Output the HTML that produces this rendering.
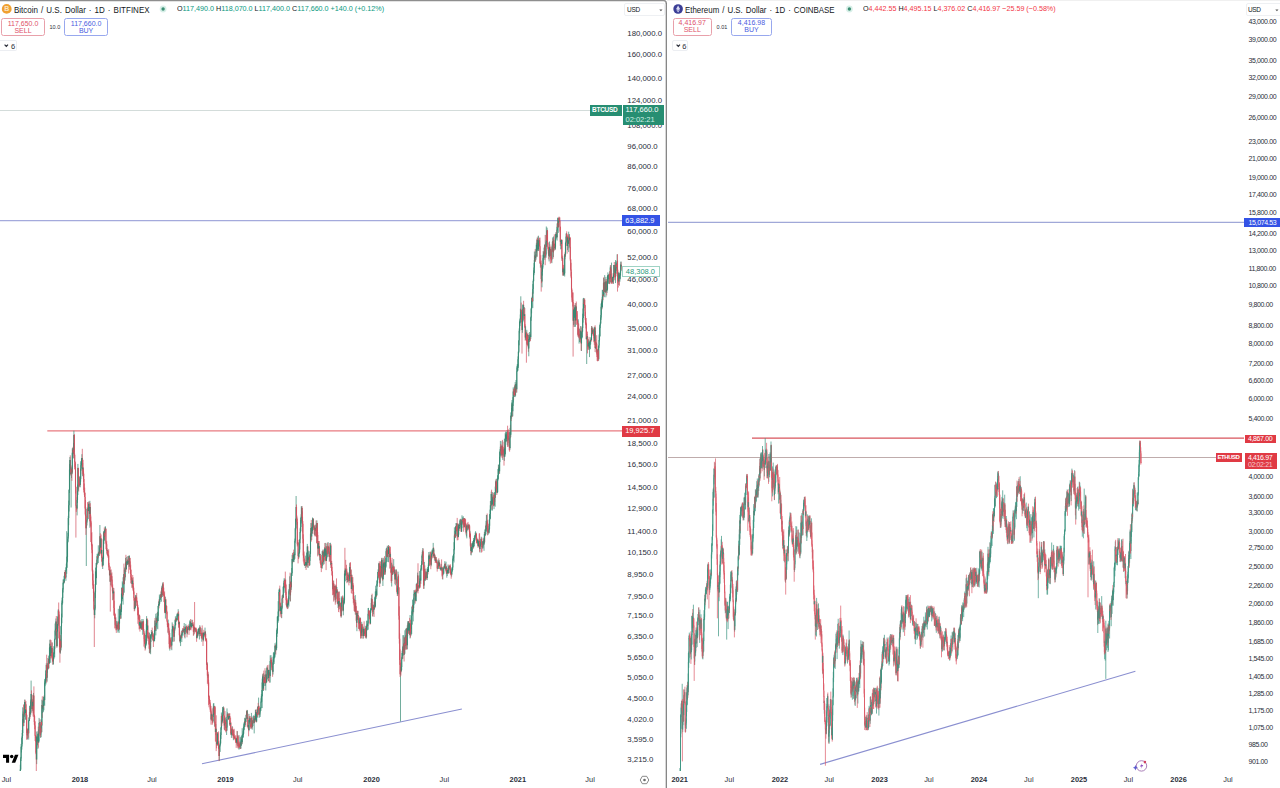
<!DOCTYPE html>
<html><head><meta charset="utf-8">
<style>
*{margin:0;padding:0;box-sizing:border-box}
html,body{width:1280px;height:788px;overflow:hidden;background:#fff;font-family:"Liberation Sans",sans-serif;color:#131722}
.a{position:absolute;white-space:nowrap}
.al{position:absolute;font-size:7.8px;line-height:10px;color:#2a2e39;white-space:nowrap}
.ar{position:absolute;font-size:7px;line-height:10px;color:#2a2e39;white-space:nowrap;letter-spacing:-0.38px}
.t{position:absolute;font-size:7.4px;line-height:10px;color:#2a2e39;white-space:nowrap;transform:translateX(-50%)}
.tb{font-weight:bold}
.ttl{position:absolute;font-size:8.6px;line-height:10px;color:#131722;white-space:nowrap;word-spacing:0.9px;transform-origin:0 0}
.ohlc{position:absolute;font-size:8px;line-height:10px;white-space:nowrap;color:#131722}
.box{position:absolute;border:1px solid;border-radius:2.5px;text-align:center;font-size:7px;line-height:6.9px;padding-top:1.3px}
.tag{position:absolute;color:#fff;font-size:7.5px;line-height:10px;white-space:nowrap;text-align:left}
</style></head><body>
<svg class="a" style="left:0;top:0" width="1280" height="788">
<defs>
<clipPath id="cl"><rect x="0" y="0" width="621.5" height="771"/></clipPath>
<clipPath id="cr"><rect x="667" y="0" width="577" height="771"/></clipPath>
</defs>
<!-- left lines -->
<line x1="0" y1="110.5" x2="590" y2="110.5" stroke="#d3dcda" stroke-width="1.1"/>
<line x1="0" y1="220.6" x2="622" y2="220.6" stroke="#a4aadc" stroke-width="1.2"/>
<line x1="47.3" y1="430.9" x2="622" y2="430.9" stroke="#e87a80" stroke-width="1.4"/>
<line x1="202" y1="763.7" x2="461.9" y2="709" stroke="#8a8fd0" stroke-width="1.1"/>
<!-- right lines -->
<line x1="668" y1="222.3" x2="1244" y2="222.3" stroke="#a0a8d8" stroke-width="1.2"/>
<line x1="752" y1="438.2" x2="1244" y2="438.2" stroke="#d8545c" stroke-width="1.3"/>
<line x1="668" y1="457.5" x2="1216" y2="457.5" stroke="#bfacac" stroke-width="1"/>
<line x1="820.1" y1="764.4" x2="1135.4" y2="671.2" stroke="#8a8fd0" stroke-width="1.1"/>
<g clip-path="url(#cl)"><g fill="none"><path d="M20.3 764.7V772.0M20.7 756.9V769.9M21.1 743.9V761.0M21.5 746.1V752.5M21.9 736.5V749.6M22.3 730.0V744.2M22.7 707.3V736.0M23.1 711.4V719.7" stroke="#358a73" stroke-width="0.7"/><path d="M20.3 769.4V772.5M20.7 758.5V769.4M21.1 746.7V758.5M21.5 746.6V747.2M21.9 738.0V746.6M22.3 732.9V738.0M22.7 719.1V732.9M23.1 713.7V719.1" stroke="#358a73" stroke-width="1.1"/><path d="M23.9 712.3V726.1M24.3 704.5V716.9M24.7 699.6V708.2M25.5 709.5V719.7" stroke="#358a73" stroke-width="0.7"/><path d="M23.5 704.5V726.2M25.1 699.7V715.6M25.9 701.0V710.9M26.3 704.3V720.0" stroke="#d3505e" stroke-width="0.7"/><path d="M23.5 713.7V722.8M25.1 702.1V713.1M25.9 709.5V710.4M26.3 710.4V715.1" stroke="#d3505e" stroke-width="1.1"/><path d="M23.9 714.3V722.8M24.3 708.1V714.3M24.7 702.1V708.1M25.5 709.5V713.1" stroke="#358a73" stroke-width="1.1"/><path d="M27.5 729.0V739.4M27.9 728.2V732.5M28.7 720.2V739.6M29.1 717.3V720.9M29.5 705.9V721.1" stroke="#358a73" stroke-width="0.7"/><path d="M26.7 714.3V739.8M27.1 728.9V739.2M28.3 727.9V737.8" stroke="#d3505e" stroke-width="0.7"/><path d="M27.5 730.5V735.3M27.9 730.3V730.9M28.7 720.7V733.2M29.1 717.5V720.7M29.5 712.0V717.5" stroke="#358a73" stroke-width="1.1"/><path d="M26.7 715.1V733.0M27.1 733.0V735.3M28.3 730.3V733.2" stroke="#d3505e" stroke-width="1.1"/><path d="M30.3 705.3V716.9M30.7 699.5V715.1M31.1 680.6V705.8M32.3 699.3V711.3" stroke="#358a73" stroke-width="0.7"/><path d="M29.9 708.0V718.9M31.5 690.4V702.3M31.9 698.8V713.2M32.7 694.8V706.7" stroke="#d3505e" stroke-width="0.7"/><path d="M29.9 712.0V714.0M31.5 693.9V700.4M31.9 700.4V709.1M32.7 701.8V706.2" stroke="#d3505e" stroke-width="1.1"/><path d="M30.3 712.3V714.0M30.7 701.5V712.3M31.1 693.9V701.5M32.3 701.8V709.1" stroke="#358a73" stroke-width="1.1"/><path d="M33.5 692.9V713.5" stroke="#358a73" stroke-width="0.7"/><path d="M33.1 705.5V716.5M33.9 686.4V717.0M34.3 714.6V724.8M34.7 716.1V729.2M35.1 721.1V741.0M35.5 735.0V741.7M35.9 737.5V754.2" stroke="#d3505e" stroke-width="0.7"/><path d="M33.5 695.5V710.6" stroke="#358a73" stroke-width="1.1"/><path d="M33.1 706.2V710.6M33.9 695.5V715.3M34.3 715.3V722.1M34.7 722.1V725.5M35.1 725.5V735.8M35.5 735.8V738.1M35.9 738.1V752.8" stroke="#d3505e" stroke-width="1.1"/><path d="M36.7 731.5V764.1M37.5 739.9V745.3M37.9 731.3V748.9M38.7 729.5V742.6M39.1 717.9V741.3" stroke="#358a73" stroke-width="0.7"/><path d="M36.3 750.5V772.0M37.1 734.8V744.2M38.3 726.6V747.7" stroke="#d3505e" stroke-width="0.7"/><path d="M36.3 752.8V759.6M37.1 736.4V741.5M38.3 733.8V742.5" stroke="#d3505e" stroke-width="1.1"/><path d="M36.7 736.4V759.6M37.5 740.7V741.5M37.9 733.8V740.7M38.7 733.4V742.5M39.1 722.9V733.4" stroke="#358a73" stroke-width="1.1"/><path d="M39.5 722.3V725.1M40.7 724.2V738.0M41.1 719.3V737.0M41.9 699.7V732.2" stroke="#358a73" stroke-width="0.7"/><path d="M39.9 719.3V735.8M40.3 726.0V737.1M41.5 720.8V732.6M42.3 696.3V717.9" stroke="#d3505e" stroke-width="0.7"/><path d="M39.5 722.6V723.2M40.7 728.6V734.6M41.1 722.1V728.6M41.9 704.9V725.5" stroke="#358a73" stroke-width="1.1"/><path d="M39.9 722.6V728.1M40.3 728.1V734.6M41.5 722.1V725.5M42.3 704.9V708.8" stroke="#d3505e" stroke-width="1.1"/><path d="M42.7 700.5V713.0M43.5 699.4V711.8M43.9 696.6V710.2M44.7 679.3V705.8M45.1 679.0V686.2M45.5 670.4V683.4" stroke="#358a73" stroke-width="0.7"/><path d="M43.1 705.3V707.9M44.3 695.0V701.0" stroke="#d3505e" stroke-width="0.7"/><path d="M43.1 705.9V706.5M44.3 696.8V700.0" stroke="#d3505e" stroke-width="1.1"/><path d="M42.7 705.9V708.8M43.5 704.7V706.1M43.9 696.8V704.7M44.7 682.7V700.0M45.1 681.3V682.7M45.5 678.1V681.3" stroke="#358a73" stroke-width="1.1"/><path d="M45.9 673.7V684.5M46.3 663.3V680.4M47.1 665.2V681.6M47.5 666.6V672.8M47.9 658.0V667.4M48.7 655.6V669.0" stroke="#358a73" stroke-width="0.7"/><path d="M46.7 654.7V682.7M48.3 661.0V669.5" stroke="#d3505e" stroke-width="0.7"/><path d="M45.9 677.0V678.1M46.3 665.0V677.0M47.1 668.7V677.7M47.5 666.7V668.7M47.9 663.3V666.7M48.7 658.9V668.0" stroke="#358a73" stroke-width="1.1"/><path d="M46.7 665.0V677.7M48.3 663.3V668.0" stroke="#d3505e" stroke-width="1.1"/><path d="M49.5 643.6V663.7M49.9 639.8V652.8M50.7 643.8V662.8M51.9 642.4V657.7" stroke="#358a73" stroke-width="0.7"/><path d="M49.1 657.4V663.9M50.3 639.6V658.6M51.1 640.2V657.6M51.5 651.1V656.4" stroke="#d3505e" stroke-width="0.7"/><path d="M49.1 658.9V663.2M50.3 646.9V656.0M51.1 645.9V652.4M51.5 652.4V653.0" stroke="#d3505e" stroke-width="1.1"/><path d="M49.5 647.7V663.2M49.9 646.9V647.7M50.7 645.9V656.0M51.9 647.9V653.0" stroke="#358a73" stroke-width="1.1"/><path d="M53.1 654.9V665.0M53.5 652.3V664.1M53.9 646.1V659.1M54.3 646.7V654.2M54.7 638.7V657.3M55.1 623.5V639.8" stroke="#358a73" stroke-width="0.7"/><path d="M52.3 642.5V659.9M52.7 657.7V664.4" stroke="#d3505e" stroke-width="0.7"/><path d="M53.1 660.1V661.6M53.5 657.4V660.1M53.9 653.6V657.4M54.3 648.7V653.6M54.7 639.2V648.7M55.1 630.6V639.2" stroke="#358a73" stroke-width="1.1"/><path d="M52.3 647.9V659.0M52.7 659.0V661.6" stroke="#d3505e" stroke-width="1.1"/><path d="M55.5 627.9V635.5M55.9 618.5V629.7M57.1 626.8V647.4M57.5 616.4V632.1M58.3 609.1V625.9" stroke="#358a73" stroke-width="0.7"/><path d="M56.3 616.0V635.8M56.7 626.6V647.6M57.9 619.1V628.4" stroke="#d3505e" stroke-width="0.7"/><path d="M56.3 621.5V631.7M56.7 631.7V645.9M57.9 624.1V624.7" stroke="#d3505e" stroke-width="1.1"/><path d="M55.5 629.0V630.6M55.9 621.5V629.0M57.1 631.1V645.9M57.5 624.1V631.1M58.3 610.4V624.3" stroke="#358a73" stroke-width="1.1"/><path d="M60.3 639.0V653.8M61.1 625.9V650.4M61.5 613.6V634.3" stroke="#358a73" stroke-width="0.7"/><path d="M58.7 602.5V619.1M59.1 611.7V638.8M59.5 631.7V647.3M59.9 640.0V662.7M60.7 635.1V648.6" stroke="#d3505e" stroke-width="0.7"/><path d="M60.3 641.0V652.6M61.1 626.2V647.4M61.5 617.4V626.2" stroke="#358a73" stroke-width="1.1"/><path d="M58.7 610.4V614.6M59.1 614.6V638.0M59.5 638.0V646.8M59.9 646.8V652.6M60.7 641.0V647.4" stroke="#d3505e" stroke-width="1.1"/><path d="M61.9 600.5V623.2M62.3 597.0V604.8M62.7 587.9V603.4M63.1 579.4V592.5M63.5 579.4V584.4M64.3 575.6V583.4M64.7 571.9V577.5" stroke="#358a73" stroke-width="0.7"/><path d="M63.9 581.1V582.3" stroke="#d3505e" stroke-width="0.7"/><path d="M63.9 582.0V582.6" stroke="#d3505e" stroke-width="1.1"/><path d="M61.9 602.8V617.4M62.3 598.1V602.8M62.7 589.5V598.1M63.1 582.8V589.5M63.5 582.0V582.8M64.3 576.1V582.2M64.7 572.1V576.1" stroke="#358a73" stroke-width="1.1"/><path d="M65.9 567.1V580.8M66.3 563.7V571.1M66.7 531.2V573.8M67.1 556.3V567.6M67.5 538.8V561.5M67.9 532.8V542.5" stroke="#358a73" stroke-width="0.7"/><path d="M65.1 570.0V577.5M65.5 571.2V578.9" stroke="#d3505e" stroke-width="0.7"/><path d="M65.9 570.1V577.6M66.3 568.0V570.1M66.7 562.4V568.0M67.1 557.0V562.4M67.5 541.8V557.0M67.9 536.4V541.8" stroke="#358a73" stroke-width="1.1"/><path d="M65.1 572.1V575.1M65.5 575.1V577.6" stroke="#d3505e" stroke-width="1.1"/><path d="M68.3 515.9V538.5M68.7 500.6V525.2M69.1 489.2V511.5M69.5 464.1V493.0M69.9 457.0V475.3M71.1 467.1V507.5" stroke="#358a73" stroke-width="0.7"/><path d="M70.3 455.3V469.8M70.7 466.4V475.4" stroke="#d3505e" stroke-width="0.7"/><path d="M70.3 459.9V468.2M70.7 468.2V473.9" stroke="#d3505e" stroke-width="1.1"/><path d="M68.3 518.1V536.4M68.7 505.2V518.1M69.1 490.0V505.2M69.5 469.5V490.0M69.9 459.9V469.5M71.1 472.4V473.9" stroke="#358a73" stroke-width="1.1"/><path d="M71.5 468.6V478.0M72.3 448.4V474.2M72.7 447.8V458.6M73.5 442.9V454.0M73.9 430.7V458.3" stroke="#358a73" stroke-width="0.7"/><path d="M71.9 465.4V480.8M73.1 446.8V458.2M74.3 434.0V456.1" stroke="#d3505e" stroke-width="0.7"/><path d="M71.5 468.9V472.4M72.3 452.8V472.6M72.7 449.7V452.8M73.5 452.0V452.7M73.9 434.9V452.0" stroke="#358a73" stroke-width="1.1"/><path d="M71.9 468.9V472.6M73.1 449.7V452.7M74.3 434.9V455.1" stroke="#d3505e" stroke-width="1.1"/><path d="M77.1 497.2V515.4M77.5 484.5V502.9" stroke="#358a73" stroke-width="0.7"/><path d="M74.7 453.6V469.3M75.1 461.3V469.4M75.5 463.5V493.5M75.9 486.5V537.6M76.3 505.5V511.9M76.7 505.1V510.1" stroke="#d3505e" stroke-width="0.7"/><path d="M74.7 455.1V461.9M75.1 461.9V466.9M75.5 466.9V487.0M75.9 487.0V505.8M76.3 505.8V507.8M76.7 507.8V508.5" stroke="#d3505e" stroke-width="1.1"/><path d="M77.1 499.9V508.5M77.5 490.8V499.9" stroke="#358a73" stroke-width="1.1"/><path d="M77.9 463.9V495.0M79.5 476.6V486.6M80.3 476.0V487.3M80.7 461.2V481.7" stroke="#358a73" stroke-width="0.7"/><path d="M78.3 467.7V489.3M78.7 475.6V491.6M79.1 483.2V487.3M79.9 478.3V485.3" stroke="#d3505e" stroke-width="0.7"/><path d="M77.9 468.1V490.8M79.5 484.2V485.0M80.3 478.9V484.9M80.7 468.5V478.9" stroke="#358a73" stroke-width="1.1"/><path d="M78.3 468.1V478.5M78.7 478.5V484.8M79.1 484.8V485.4M79.9 484.2V484.9" stroke="#d3505e" stroke-width="1.1"/><path d="M81.1 462.6V470.7M81.5 458.0V465.3M81.9 454.2V462.3M82.7 463.0V476.1" stroke="#358a73" stroke-width="0.7"/><path d="M82.3 448.8V474.4M83.1 459.8V476.4M83.5 468.5V482.0M83.9 473.7V492.2" stroke="#d3505e" stroke-width="0.7"/><path d="M82.3 458.1V469.2M83.1 467.4V471.4M83.5 471.4V478.9M83.9 478.9V490.0" stroke="#d3505e" stroke-width="1.1"/><path d="M81.1 465.2V468.5M81.5 459.4V465.2M81.9 458.1V459.4M82.7 467.4V469.2" stroke="#358a73" stroke-width="1.1"/><path d="M86.3 524.8V566.0M86.7 519.5V525.7M87.1 507.4V522.5" stroke="#358a73" stroke-width="0.7"/><path d="M84.3 483.5V494.9M84.7 487.7V496.9M85.1 492.7V514.5M85.5 500.0V524.6M85.9 514.4V534.9" stroke="#d3505e" stroke-width="0.7"/><path d="M86.3 525.2V528.2M86.7 520.6V525.2M87.1 508.9V520.6" stroke="#358a73" stroke-width="1.1"/><path d="M84.3 490.0V492.8M84.7 492.8V496.9M85.1 496.9V508.6M85.5 508.6V516.1M85.9 516.1V528.2" stroke="#d3505e" stroke-width="1.1"/><path d="M88.3 506.7V519.1M88.7 501.6V510.7M89.9 500.8V527.8" stroke="#358a73" stroke-width="0.7"/><path d="M87.5 502.1V517.9M87.9 508.3V512.0M89.1 501.7V513.8M89.5 507.4V521.3M90.3 503.2V525.9" stroke="#d3505e" stroke-width="0.7"/><path d="M87.5 508.9V510.4M87.9 510.4V511.0M89.1 503.7V509.6M89.5 509.6V514.1M90.3 506.9V516.6" stroke="#d3505e" stroke-width="1.1"/><path d="M88.3 508.1V510.9M88.7 503.7V508.1M89.9 506.9V514.1" stroke="#358a73" stroke-width="1.1"/><path d="M90.7 514.6V526.8M91.1 520.8V542.1M91.5 533.0V546.3M91.9 532.2V553.2M92.3 543.8V571.7M92.7 569.4V585.4M93.1 573.7V588.9M93.5 585.0V601.4" stroke="#d3505e" stroke-width="0.7"/><path d="M90.7 516.6V522.5M91.1 522.5V541.9M91.5 541.9V545.1M91.9 545.1V549.7M92.3 549.7V570.6M92.7 570.6V580.5M93.1 580.5V588.7M93.5 588.7V593.1" stroke="#d3505e" stroke-width="1.1"/><path d="M94.7 605.0V618.3M95.1 590.8V610.2M95.5 567.6V598.0M96.3 562.7V584.8" stroke="#358a73" stroke-width="0.7"/><path d="M93.9 584.1V610.2M94.3 607.7V647.0M95.9 571.2V579.0M96.7 559.6V567.6" stroke="#d3505e" stroke-width="0.7"/><path d="M93.9 593.1V608.7M94.3 608.7V615.1M95.9 571.4V577.9M96.7 563.1V563.7" stroke="#d3505e" stroke-width="1.1"/><path d="M94.7 608.4V615.1M95.1 592.3V608.4M95.5 571.4V592.3M96.3 563.1V577.9" stroke="#358a73" stroke-width="1.1"/><path d="M97.1 553.8V564.8M97.9 554.0V558.5M98.3 545.3V563.1M98.7 552.5V555.1M99.5 545.3V555.8M99.9 525.0V553.7" stroke="#358a73" stroke-width="0.7"/><path d="M97.5 556.2V559.4M99.1 551.0V556.0" stroke="#d3505e" stroke-width="0.7"/><path d="M97.1 556.3V563.4M97.9 555.3V557.4M98.3 552.7V555.3M98.7 552.5V553.1M99.5 547.4V553.6M99.9 536.3V547.4" stroke="#358a73" stroke-width="1.1"/><path d="M97.5 556.3V557.4M99.1 552.5V553.6" stroke="#d3505e" stroke-width="1.1"/><path d="M100.7 538.1V547.8M101.5 549.5V558.0M102.7 556.6V569.0" stroke="#358a73" stroke-width="0.7"/><path d="M100.3 533.2V553.4M101.1 534.5V555.4M101.9 538.9V562.0M102.3 559.3V567.0M103.1 555.5V561.0" stroke="#d3505e" stroke-width="0.7"/><path d="M100.3 536.3V547.6M101.1 538.5V553.4M101.9 550.0V561.2M102.3 561.2V565.8M103.1 557.8V558.7" stroke="#d3505e" stroke-width="1.1"/><path d="M100.7 538.5V547.6M101.5 550.0V553.4M102.7 557.8V565.8" stroke="#358a73" stroke-width="1.1"/><path d="M103.5 531.2V565.4M103.9 531.9V543.9M104.7 530.0V540.9M105.1 526.5V533.7M105.5 526.5V531.4" stroke="#358a73" stroke-width="0.7"/><path d="M104.3 527.5V539.7M105.9 528.6V549.2M106.3 542.4V544.7" stroke="#d3505e" stroke-width="0.7"/><path d="M103.5 540.1V558.7M103.9 532.8V540.1M104.7 530.3V536.6M105.1 529.1V530.3M105.5 528.8V529.4" stroke="#358a73" stroke-width="1.1"/><path d="M104.3 532.8V536.6M105.9 528.8V542.7M106.3 542.7V544.3" stroke="#d3505e" stroke-width="1.1"/><path d="M107.1 548.3V554.9" stroke="#358a73" stroke-width="0.7"/><path d="M106.7 540.8V553.6M107.5 550.1V555.8M107.9 550.0V557.6M108.3 554.1V556.3M108.7 549.2V567.4M109.1 562.9V570.6M109.5 568.8V575.3" stroke="#d3505e" stroke-width="0.7"/><path d="M106.7 544.3V550.4M107.5 550.4V551.1M107.9 551.1V555.1M108.3 555.1V555.7M108.7 555.4V565.3M109.1 565.3V569.9M109.5 569.9V575.3" stroke="#d3505e" stroke-width="1.1"/><path d="M107.1 550.4V551.0" stroke="#358a73" stroke-width="1.1"/><path d="M109.9 570.2V581.8M110.7 570.1V585.4M111.5 576.0V579.9" stroke="#358a73" stroke-width="0.7"/><path d="M110.3 566.6V611.6M111.1 569.4V581.0M111.9 572.4V587.3M112.3 579.5V591.3M112.7 584.4V600.3" stroke="#d3505e" stroke-width="0.7"/><path d="M109.9 574.7V575.3M110.7 573.5V581.4M111.5 576.3V577.2" stroke="#358a73" stroke-width="1.1"/><path d="M110.3 574.7V581.4M111.1 573.5V577.2M111.9 576.3V585.7M112.3 585.7V587.2M112.7 587.2V593.0" stroke="#d3505e" stroke-width="1.1"/><path d="M113.1 588.0V600.0M113.5 590.3V598.8M115.1 617.1V624.8" stroke="#358a73" stroke-width="0.7"/><path d="M113.9 588.1V615.7M114.3 600.7V615.7M114.7 612.6V628.4M115.5 613.7V626.0M115.9 617.3V630.3" stroke="#d3505e" stroke-width="0.7"/><path d="M113.9 591.5V608.0M114.3 608.0V614.9M114.7 614.9V618.6M115.5 618.5V621.6M115.9 621.6V627.9" stroke="#d3505e" stroke-width="1.1"/><path d="M113.1 592.9V593.5M113.5 591.5V592.9M115.1 618.5V619.1" stroke="#358a73" stroke-width="1.1"/><path d="M116.7 620.9V630.2M117.9 621.4V632.6M118.3 608.8V631.2M119.1 621.6V632.9" stroke="#358a73" stroke-width="0.7"/><path d="M116.3 625.8V632.9M117.1 623.0V629.9M117.5 626.8V628.3M118.7 620.8V630.2" stroke="#d3505e" stroke-width="0.7"/><path d="M116.7 624.8V628.9M117.9 625.1V628.2M118.3 622.2V625.1M119.1 623.2V629.4" stroke="#358a73" stroke-width="1.1"/><path d="M116.3 627.9V628.9M117.1 624.8V627.7M117.5 627.7V628.3M118.7 622.2V629.4" stroke="#d3505e" stroke-width="1.1"/><path d="M119.5 605.7V624.1M119.9 606.7V617.7M120.7 603.5V618.6M121.1 608.9V618.6M121.5 587.5V612.1M122.3 581.4V601.3" stroke="#358a73" stroke-width="0.7"/><path d="M120.3 604.4V619.1M121.9 588.1V599.6" stroke="#d3505e" stroke-width="0.7"/><path d="M120.3 609.4V615.0M121.9 593.6V599.1" stroke="#d3505e" stroke-width="1.1"/><path d="M119.5 616.3V623.2M119.9 609.4V616.3M120.7 611.6V615.0M121.1 609.2V611.6M121.5 593.6V609.2M122.3 588.0V599.1" stroke="#358a73" stroke-width="1.1"/><path d="M123.1 577.3V604.6M123.5 574.1V582.9M124.3 569.9V592.7M125.1 566.8V580.6M125.5 557.9V572.0" stroke="#358a73" stroke-width="0.7"/><path d="M122.7 587.4V597.1M123.9 563.6V585.1M124.7 568.6V578.6" stroke="#d3505e" stroke-width="0.7"/><path d="M123.1 582.7V595.3M123.5 577.3V582.7M124.3 573.9V584.0M125.1 567.7V577.2M125.5 562.5V567.7" stroke="#358a73" stroke-width="1.1"/><path d="M122.7 588.0V595.3M123.9 577.3V584.0M124.7 573.9V577.2" stroke="#d3505e" stroke-width="1.1"/><path d="M126.3 561.2V569.9M126.7 556.9V564.5M127.5 559.7V565.0M127.9 556.1V564.1" stroke="#358a73" stroke-width="0.7"/><path d="M125.9 554.8V571.9M127.1 559.4V565.2M128.3 556.3V564.1M128.7 555.9V573.5" stroke="#d3505e" stroke-width="0.7"/><path d="M125.9 562.5V569.0M127.1 561.6V563.6M128.3 560.7V562.9M128.7 562.9V564.3" stroke="#d3505e" stroke-width="1.1"/><path d="M126.3 563.8V569.0M126.7 561.6V563.8M127.5 562.5V563.6M127.9 560.7V562.5" stroke="#358a73" stroke-width="1.1"/><path d="M129.1 555.5V566.9M129.5 555.7V566.4" stroke="#358a73" stroke-width="0.7"/><path d="M129.9 557.7V569.7M130.3 561.4V569.8M130.7 564.7V583.4M131.1 569.8V580.0M131.5 577.1V582.4M131.9 579.2V587.8" stroke="#d3505e" stroke-width="0.7"/><path d="M129.1 563.7V564.3M129.5 557.9V563.7" stroke="#358a73" stroke-width="1.1"/><path d="M129.9 557.9V566.1M130.3 566.1V569.5M130.7 569.5V573.9M131.1 573.9V577.3M131.5 577.3V579.5M131.9 579.5V583.9" stroke="#d3505e" stroke-width="1.1"/><path d="M132.3 578.0V587.7M134.7 597.6V610.6M135.1 598.9V608.3" stroke="#358a73" stroke-width="0.7"/><path d="M132.7 575.0V586.9M133.1 577.2V590.9M133.5 586.2V594.1M133.9 587.7V600.6M134.3 598.1V611.3" stroke="#d3505e" stroke-width="0.7"/><path d="M132.7 580.4V582.9M133.1 582.9V589.4M133.5 589.4V591.4M133.9 591.4V598.1M134.3 598.1V608.9" stroke="#d3505e" stroke-width="1.1"/><path d="M132.3 580.4V583.9M134.7 607.8V608.9M135.1 601.0V607.8" stroke="#358a73" stroke-width="1.1"/><path d="M135.5 594.9V607.5M136.3 595.2V602.0" stroke="#358a73" stroke-width="0.7"/><path d="M135.9 596.3V606.1M136.7 592.9V602.8M137.1 600.5V605.9M137.5 603.3V615.1M137.9 604.8V623.8M138.3 607.4V619.2" stroke="#d3505e" stroke-width="0.7"/><path d="M135.5 596.7V601.0M136.3 597.4V601.1" stroke="#358a73" stroke-width="1.1"/><path d="M135.9 596.7V601.1M136.7 597.4V600.9M137.1 600.9V605.7M137.5 605.7V607.5M137.9 607.5V610.2M138.3 610.2V616.3" stroke="#d3505e" stroke-width="1.1"/><path d="M139.5 615.0V628.8M140.7 620.3V628.9" stroke="#358a73" stroke-width="0.7"/><path d="M138.7 615.9V619.9M139.1 614.2V629.4M139.9 615.7V631.6M140.3 621.7V628.8M141.1 621.0V623.6M141.5 621.8V629.8" stroke="#d3505e" stroke-width="0.7"/><path d="M138.7 616.3V618.3M139.1 618.3V625.6M139.9 621.9V627.4M140.3 627.4V628.0M141.1 622.6V623.3M141.5 623.3V628.6" stroke="#d3505e" stroke-width="1.1"/><path d="M139.5 621.9V625.6M140.7 622.6V628.0" stroke="#358a73" stroke-width="1.1"/><path d="M141.9 619.0V629.8M142.7 621.1V634.8M143.1 619.0V630.2" stroke="#358a73" stroke-width="0.7"/><path d="M142.3 621.8V629.6M143.5 620.7V631.6M143.9 629.2V646.6M144.3 633.6V641.5M144.7 632.6V644.2" stroke="#d3505e" stroke-width="0.7"/><path d="M141.9 623.2V628.6M142.7 628.5V629.1M143.1 621.7V628.5" stroke="#358a73" stroke-width="1.1"/><path d="M142.3 623.2V629.0M143.5 621.7V630.9M143.9 630.9V633.9M144.3 633.9V638.9M144.7 638.9V643.8" stroke="#d3505e" stroke-width="1.1"/><path d="M145.5 634.9V649.3M145.9 639.7V644.8M146.3 623.9V645.6M146.6 616.1V632.2M147.4 620.7V633.9" stroke="#358a73" stroke-width="0.7"/><path d="M145.1 639.8V650.6M147.0 618.0V641.1M147.8 619.9V638.3" stroke="#d3505e" stroke-width="0.7"/><path d="M145.1 643.8V647.7M147.0 619.1V630.1M147.8 625.6V637.2" stroke="#d3505e" stroke-width="1.1"/><path d="M145.5 643.9V647.7M145.9 643.2V643.9M146.3 630.5V643.2M146.6 619.1V630.5M147.4 625.6V630.1" stroke="#358a73" stroke-width="1.1"/><path d="M148.6 635.7V638.8M149.4 632.6V653.1M150.2 645.8V652.5M150.6 634.1V654.2M151.0 634.6V642.0" stroke="#358a73" stroke-width="0.7"/><path d="M148.2 631.9V638.9M149.0 633.2V648.7M149.8 635.5V653.3" stroke="#d3505e" stroke-width="0.7"/><path d="M148.6 637.0V637.6M149.4 638.5V644.4M150.2 648.2V649.2M150.6 635.4V648.2M151.0 634.9V635.5" stroke="#358a73" stroke-width="1.1"/><path d="M148.2 637.2V637.8M149.0 637.0V644.4M149.8 638.5V649.2" stroke="#d3505e" stroke-width="1.1"/><path d="M151.4 630.0V638.7M151.8 632.1V636.4M153.0 634.4V639.8M153.8 638.8V642.2M154.2 633.3V641.2" stroke="#358a73" stroke-width="0.7"/><path d="M152.2 627.6V637.1M152.6 631.1V640.6M153.4 633.4V647.0" stroke="#d3505e" stroke-width="0.7"/><path d="M152.2 632.3V635.5M152.6 635.5V636.1M153.4 635.7V640.6" stroke="#d3505e" stroke-width="1.1"/><path d="M151.4 634.5V635.1M151.8 632.3V634.5M153.0 635.7V636.3M153.8 640.5V641.1M154.2 639.1V640.5" stroke="#358a73" stroke-width="1.1"/><path d="M154.6 620.5V641.1M155.4 622.9V631.1M155.8 613.7V635.4M156.2 616.5V630.8M157.0 613.0V628.6" stroke="#358a73" stroke-width="0.7"/><path d="M155.0 618.0V630.7M156.6 618.2V624.1M157.4 611.7V621.2" stroke="#d3505e" stroke-width="0.7"/><path d="M154.6 626.1V639.1M155.4 627.1V630.1M155.8 625.2V627.1M156.2 620.7V625.2M157.0 618.1V622.4" stroke="#358a73" stroke-width="1.1"/><path d="M155.0 626.1V630.1M156.6 620.7V622.4M157.4 618.1V621.1" stroke="#d3505e" stroke-width="1.1"/><path d="M157.8 612.2V629.3M158.2 605.7V621.1M158.6 601.3V606.7M159.4 594.5V605.8M159.8 598.8V603.7M160.2 595.7V600.0M160.6 594.0V596.8" stroke="#358a73" stroke-width="0.7"/><path d="M159.0 599.4V608.4" stroke="#d3505e" stroke-width="0.7"/><path d="M159.0 604.1V604.7" stroke="#d3505e" stroke-width="1.1"/><path d="M157.8 615.8V621.1M158.2 605.9V615.8M158.6 604.1V605.9M159.4 602.0V604.6M159.8 599.4V602.0M160.2 596.7V599.4M160.6 594.7V596.7" stroke="#358a73" stroke-width="1.1"/><path d="M161.4 591.9V601.7M161.8 585.7V595.3M162.6 582.5V597.0" stroke="#358a73" stroke-width="0.7"/><path d="M161.0 590.7V597.7M162.2 586.9V595.7M163.0 583.6V590.4M163.4 582.2V595.9M163.8 587.7V602.1" stroke="#d3505e" stroke-width="0.7"/><path d="M161.4 592.1V597.5M161.8 587.8V592.1M162.6 584.5V594.7" stroke="#358a73" stroke-width="1.1"/><path d="M161.0 594.7V597.5M162.2 587.8V594.7M163.0 584.5V587.6M163.4 587.6V592.2M163.8 592.2V594.8" stroke="#d3505e" stroke-width="1.1"/><path d="M165.4 596.8V618.6" stroke="#358a73" stroke-width="0.7"/><path d="M164.2 593.6V596.7M164.6 591.4V612.3M165.0 608.9V613.3M165.8 598.8V610.0M166.2 605.3V608.6M166.6 605.6V614.2M167.0 610.7V621.9" stroke="#d3505e" stroke-width="0.7"/><path d="M164.2 594.8V595.9M164.6 595.9V611.2M165.0 611.2V613.1M165.8 599.4V605.8M166.2 605.8V606.4M166.6 606.0V611.9M167.0 611.9V620.8" stroke="#d3505e" stroke-width="1.1"/><path d="M165.4 599.4V613.1" stroke="#358a73" stroke-width="1.1"/><path d="M168.2 619.6V633.4M169.8 633.0V650.6" stroke="#358a73" stroke-width="0.7"/><path d="M167.4 620.5V627.3M167.8 623.5V632.6M168.6 622.9V630.2M169.0 627.8V644.1M169.4 631.1V648.9M170.2 638.9V645.3" stroke="#d3505e" stroke-width="0.7"/><path d="M168.2 623.7V627.0M169.8 639.9V647.6" stroke="#358a73" stroke-width="1.1"/><path d="M167.4 620.8V625.0M167.8 625.0V627.0M168.6 623.7V629.4M169.0 629.4V635.1M169.4 635.1V647.6M170.2 639.9V640.5" stroke="#d3505e" stroke-width="1.1"/><path d="M171.8 637.2V650.2M172.2 622.4V641.8M172.6 625.9V631.4M173.4 627.3V632.9" stroke="#358a73" stroke-width="0.7"/><path d="M170.6 637.4V646.7M171.0 637.9V649.2M171.4 644.5V646.5M173.0 624.3V631.4" stroke="#d3505e" stroke-width="0.7"/><path d="M170.6 640.0V642.5M171.0 642.5V645.0M171.4 645.0V645.6M173.0 626.1V629.8" stroke="#d3505e" stroke-width="1.1"/><path d="M171.8 641.6V645.4M172.2 629.3V641.6M172.6 626.1V629.3M173.4 628.1V629.8" stroke="#358a73" stroke-width="1.1"/><path d="M174.2 627.2V641.3M174.6 628.4V633.1M175.0 620.0V630.5M175.4 616.3V625.3M176.2 618.0V622.0" stroke="#358a73" stroke-width="0.7"/><path d="M173.8 627.9V641.9M175.8 617.9V625.3M176.6 618.0V620.3" stroke="#d3505e" stroke-width="0.7"/><path d="M174.2 628.8V636.7M174.6 628.5V629.1M175.0 625.2V628.5M175.4 619.0V625.2M176.2 619.1V620.5" stroke="#358a73" stroke-width="1.1"/><path d="M173.8 628.1V636.7M175.8 619.0V620.5M176.6 619.1V620.1" stroke="#d3505e" stroke-width="1.1"/><path d="M177.0 613.7V621.2M177.4 613.2V619.7M178.2 609.2V616.4M179.0 621.9V627.8" stroke="#358a73" stroke-width="0.7"/><path d="M177.8 612.4V616.6M178.6 611.3V627.5M179.4 621.4V636.1M179.8 632.6V641.9" stroke="#d3505e" stroke-width="0.7"/><path d="M177.8 614.2V616.2M178.6 613.8V624.2M179.4 622.3V634.9M179.8 634.9V640.7" stroke="#d3505e" stroke-width="1.1"/><path d="M177.0 615.5V620.1M177.4 614.2V615.5M178.2 613.8V616.2M179.0 622.3V624.2" stroke="#358a73" stroke-width="1.1"/><path d="M180.2 635.6V643.1M180.6 635.5V646.1M181.8 633.5V642.0M182.2 629.9V635.4M183.0 628.8V635.6" stroke="#358a73" stroke-width="0.7"/><path d="M181.0 634.4V637.0M181.4 630.8V638.8M182.6 628.1V632.7" stroke="#d3505e" stroke-width="0.7"/><path d="M180.2 640.3V640.9M180.6 636.5V640.3M181.8 633.8V637.8M182.2 631.3V633.8M183.0 630.3V631.4" stroke="#358a73" stroke-width="1.1"/><path d="M181.0 636.5V637.1M181.4 636.7V637.8M182.6 631.3V631.9" stroke="#d3505e" stroke-width="1.1"/><path d="M183.4 628.3V632.5M184.2 623.0V631.6M185.0 627.5V638.4M185.4 627.2V631.7M185.8 623.9V628.5M186.2 626.0V632.4" stroke="#358a73" stroke-width="0.7"/><path d="M183.8 626.0V632.4M184.6 627.2V637.3" stroke="#d3505e" stroke-width="0.7"/><path d="M183.8 629.9V630.5M184.6 628.9V634.3" stroke="#d3505e" stroke-width="1.1"/><path d="M183.4 629.9V630.5M184.2 628.9V630.1M185.0 629.4V634.3M185.4 628.4V629.4M185.8 627.7V628.4M186.2 626.7V627.7" stroke="#358a73" stroke-width="1.1"/><path d="M187.4 628.7V634.4M187.8 626.8V630.4M188.2 626.0V628.7M189.4 625.6V630.8" stroke="#358a73" stroke-width="0.7"/><path d="M186.6 626.4V632.1M187.0 625.1V637.3M188.6 625.5V630.0M189.0 623.9V634.9" stroke="#d3505e" stroke-width="0.7"/><path d="M187.4 629.2V633.3M187.8 627.3V629.2M188.2 626.7V627.3M189.4 626.5V630.1" stroke="#358a73" stroke-width="1.1"/><path d="M186.6 626.7V630.1M187.0 630.1V633.3M188.6 626.7V627.7M189.0 627.7V630.1" stroke="#d3505e" stroke-width="1.1"/><path d="M189.8 620.3V629.2M190.2 621.2V629.9M191.4 623.4V628.3M191.8 619.7V626.5" stroke="#358a73" stroke-width="0.7"/><path d="M190.6 619.0V629.6M191.0 623.4V630.3M192.2 622.5V626.2M192.6 619.9V625.9" stroke="#d3505e" stroke-width="0.7"/><path d="M190.6 621.8V626.5M191.0 626.5V627.1M192.2 623.0V624.5M192.6 624.5V625.9" stroke="#d3505e" stroke-width="1.1"/><path d="M189.8 626.2V626.8M190.2 621.8V626.2M191.4 624.8V627.1M191.8 623.0V624.8" stroke="#358a73" stroke-width="1.1"/><path d="M193.0 624.4V627.7M193.8 629.2V635.2M194.2 626.5V629.5M195.4 628.0V631.8" stroke="#358a73" stroke-width="0.7"/><path d="M193.4 622.3V635.8M194.6 602.0V633.8M195.0 627.3V631.1M195.8 628.2V632.4" stroke="#d3505e" stroke-width="0.7"/><path d="M193.0 624.7V625.9M193.8 629.3V631.7M194.2 626.9V629.3M195.4 628.6V629.5" stroke="#358a73" stroke-width="1.1"/><path d="M193.4 624.7V631.7M194.6 626.9V628.0M195.0 628.0V629.5M195.8 628.6V630.0" stroke="#d3505e" stroke-width="1.1"/><path d="M197.0 634.9V638.6M197.4 632.0V636.8M197.8 631.2V636.3M198.2 629.1V634.2M198.6 627.9V631.5" stroke="#358a73" stroke-width="0.7"/><path d="M196.2 627.6V631.7M196.6 629.2V641.8M199.0 628.7V636.1" stroke="#d3505e" stroke-width="0.7"/><path d="M196.2 630.0V631.3M196.6 631.3V637.9M199.0 628.9V634.0" stroke="#d3505e" stroke-width="1.1"/><path d="M197.0 635.6V637.9M197.4 634.8V635.6M197.8 632.2V634.8M198.2 629.6V632.2M198.6 628.9V629.6" stroke="#358a73" stroke-width="1.1"/><path d="M199.4 627.8V639.5M199.8 625.2V631.6M200.6 633.0V636.0M201.8 628.2V641.7" stroke="#358a73" stroke-width="0.7"/><path d="M200.2 626.5V634.2M201.0 630.3V634.3M201.4 632.6V638.7M202.2 625.4V638.9" stroke="#d3505e" stroke-width="0.7"/><path d="M199.4 630.7V634.0M199.8 627.6V630.7M200.6 633.1V633.7M201.8 633.3V637.5" stroke="#358a73" stroke-width="1.1"/><path d="M200.2 627.6V633.5M201.0 633.1V634.0M201.4 634.0V637.5M202.2 633.3V633.9" stroke="#d3505e" stroke-width="1.1"/><path d="M203.4 632.2V641.3M205.0 627.6V637.3" stroke="#358a73" stroke-width="0.7"/><path d="M202.6 632.5V635.8M203.0 635.1V646.0M203.8 629.8V636.8M204.2 632.8V636.2M204.6 634.2V635.2M205.4 631.2V641.3" stroke="#d3505e" stroke-width="0.7"/><path d="M202.6 633.6V635.7M203.0 635.7V639.7M203.8 633.0V633.8M204.2 633.8V634.4M204.6 634.4V635.2M205.4 631.7V638.7" stroke="#d3505e" stroke-width="1.1"/><path d="M203.4 633.0V639.7M205.0 631.7V635.2" stroke="#358a73" stroke-width="1.1"/><path d="M207.0 662.1V664.9M207.8 673.3V677.8" stroke="#358a73" stroke-width="0.7"/><path d="M205.8 633.7V640.1M206.2 638.4V641.5M206.6 638.4V669.9M207.4 662.8V683.9M208.2 671.7V685.6M208.6 679.8V705.1" stroke="#d3505e" stroke-width="0.7"/><path d="M207.0 664.5V665.1M207.8 674.5V675.4" stroke="#358a73" stroke-width="1.1"/><path d="M205.8 638.7V639.3M206.2 639.0V640.5M206.6 640.5V664.5M207.4 664.5V675.4M208.2 674.5V682.5M208.6 682.5V697.1" stroke="#d3505e" stroke-width="1.1"/><path d="M211.4 712.5V720.8" stroke="#358a73" stroke-width="0.7"/><path d="M209.0 695.5V707.3M209.4 695.8V703.8M209.8 702.3V704.0M210.2 699.9V711.9M210.6 705.5V712.6M211.0 706.0V724.7M211.8 713.8V717.7" stroke="#d3505e" stroke-width="0.7"/><path d="M209.0 697.1V698.9M209.4 698.9V702.5M209.8 702.5V703.7M210.2 703.7V709.4M210.6 709.4V710.8M211.0 710.8V719.5M211.8 714.2V715.8" stroke="#d3505e" stroke-width="1.1"/><path d="M211.4 714.2V719.5" stroke="#358a73" stroke-width="1.1"/><path d="M213.0 714.5V722.6M213.4 703.6V717.0M213.8 703.0V713.0M214.6 705.8V726.7" stroke="#358a73" stroke-width="0.7"/><path d="M212.2 708.3V724.9M212.6 719.3V723.5M214.2 706.4V714.9M215.0 706.0V726.3" stroke="#d3505e" stroke-width="0.7"/><path d="M213.0 715.2V721.3M213.4 706.5V715.2M213.8 706.4V707.0M214.6 707.2V713.6" stroke="#358a73" stroke-width="1.1"/><path d="M212.2 715.8V719.5M212.6 719.5V721.3M214.2 706.4V713.6M215.0 707.2V723.7" stroke="#d3505e" stroke-width="1.1"/><path d="M215.8 724.0V735.2M217.0 742.0V745.8M217.4 732.0V745.2M218.2 741.3V745.5" stroke="#358a73" stroke-width="0.7"/><path d="M215.4 721.7V741.3M216.2 715.3V751.1M216.6 740.4V748.3M217.8 732.5V745.2" stroke="#d3505e" stroke-width="0.7"/><path d="M215.4 723.7V732.0M216.2 728.7V741.9M216.6 741.9V744.2M217.8 733.6V744.0" stroke="#d3505e" stroke-width="1.1"/><path d="M215.8 728.7V732.0M217.0 742.6V744.2M217.4 733.6V742.6M218.2 741.8V744.0" stroke="#358a73" stroke-width="1.1"/><path d="M219.4 745.6V760.7M219.8 744.3V747.0M220.2 740.6V751.9M220.6 732.3V744.0M221.0 727.0V738.9M221.4 712.5V729.8" stroke="#358a73" stroke-width="0.7"/><path d="M218.6 731.4V749.2M219.0 747.0V761.1" stroke="#d3505e" stroke-width="0.7"/><path d="M219.4 745.7V755.9M219.8 745.2V745.8M220.2 743.2V745.2M220.6 735.0V743.2M221.0 727.8V735.0M221.4 716.0V727.8" stroke="#358a73" stroke-width="1.1"/><path d="M218.6 741.8V748.4M219.0 748.4V755.9" stroke="#d3505e" stroke-width="1.1"/><path d="M222.2 719.3V723.5M222.6 707.1V722.4M223.0 707.0V715.3M223.4 706.3V710.0M224.6 717.8V730.0" stroke="#358a73" stroke-width="0.7"/><path d="M221.8 714.3V726.1M223.8 707.0V723.1M224.2 715.3V729.4" stroke="#d3505e" stroke-width="0.7"/><path d="M221.8 716.0V720.8M223.8 708.3V716.1M224.2 716.1V725.6" stroke="#d3505e" stroke-width="1.1"/><path d="M222.2 720.6V721.2M222.6 714.9V720.6M223.0 709.8V714.9M223.4 708.3V709.8M224.6 719.8V725.6" stroke="#358a73" stroke-width="1.1"/><path d="M225.4 717.5V723.9M226.6 719.3V735.0M227.0 708.4V730.5M227.4 712.3V717.2" stroke="#358a73" stroke-width="0.7"/><path d="M225.0 711.1V730.7M225.8 720.4V732.4M226.2 725.7V731.1M227.8 713.5V717.4" stroke="#d3505e" stroke-width="0.7"/><path d="M225.4 721.9V723.6M226.6 727.4V731.0M227.0 716.7V727.4M227.4 714.3V716.7" stroke="#358a73" stroke-width="1.1"/><path d="M225.0 719.8V723.6M225.8 721.9V728.1M226.2 728.1V731.0M227.8 714.3V716.8" stroke="#d3505e" stroke-width="1.1"/><path d="M228.6 713.5V719.9M229.4 713.8V718.9M230.2 721.4V725.4" stroke="#358a73" stroke-width="0.7"/><path d="M228.2 715.5V720.1M229.0 713.3V717.8M229.8 713.2V726.0M230.6 717.6V733.1M231.0 722.4V735.1" stroke="#d3505e" stroke-width="0.7"/><path d="M228.2 716.8V719.0M229.0 716.3V717.5M229.8 716.1V724.5M230.6 723.0V727.6M231.0 727.6V734.5" stroke="#d3505e" stroke-width="1.1"/><path d="M228.6 716.3V719.0M229.4 716.1V717.5M230.2 723.0V724.5" stroke="#358a73" stroke-width="1.1"/><path d="M231.4 729.7V737.9M232.2 726.1V735.4M233.4 729.8V740.2" stroke="#358a73" stroke-width="0.7"/><path d="M231.8 728.5V734.4M232.6 726.9V735.1M233.0 729.3V737.8M233.8 730.4V739.0M234.2 728.8V738.3" stroke="#d3505e" stroke-width="0.7"/><path d="M231.4 731.7V734.5M232.2 728.9V732.5M233.4 734.0V735.6" stroke="#358a73" stroke-width="1.1"/><path d="M231.8 731.7V732.5M232.6 728.9V733.5M233.0 733.5V735.6M233.8 734.0V735.6M234.2 735.6V736.8" stroke="#d3505e" stroke-width="1.1"/><path d="M236.6 738.1V743.0M237.4 731.2V746.3" stroke="#358a73" stroke-width="0.7"/><path d="M234.6 736.3V738.9M235.0 735.9V739.7M235.4 737.7V740.5M235.8 735.1V742.9M236.2 737.9V747.9M237.0 730.9V745.2" stroke="#d3505e" stroke-width="0.7"/><path d="M234.6 736.8V737.9M235.0 737.9V738.5M235.4 738.4V740.3M235.8 740.3V742.3M236.2 742.3V742.9M237.0 738.4V743.4" stroke="#d3505e" stroke-width="1.1"/><path d="M236.6 738.4V742.5M237.4 736.6V743.4" stroke="#358a73" stroke-width="1.1"/><path d="M239.0 735.1V749.7M239.8 744.2V748.6M240.2 736.8V748.9" stroke="#358a73" stroke-width="0.7"/><path d="M237.8 734.9V748.3M238.2 735.8V747.2M238.6 743.0V748.6M239.4 741.7V747.6M240.6 742.1V749.0" stroke="#d3505e" stroke-width="0.7"/><path d="M239.0 743.9V745.4M239.8 745.3V747.1M240.2 743.4V745.3" stroke="#358a73" stroke-width="1.1"/><path d="M237.8 736.6V741.8M238.2 741.8V743.3M238.6 743.3V745.4M239.4 743.9V747.1M240.6 743.4V745.8" stroke="#d3505e" stroke-width="1.1"/><path d="M241.0 737.6V748.6M241.4 735.5V745.5M242.2 728.2V744.1M242.6 733.7V738.2M243.0 731.3V737.0M243.4 726.6V737.7M243.8 723.4V733.7" stroke="#358a73" stroke-width="0.7"/><path d="M241.8 737.5V744.4" stroke="#d3505e" stroke-width="0.7"/><path d="M241.8 739.2V742.2" stroke="#d3505e" stroke-width="1.1"/><path d="M241.0 741.2V745.8M241.4 739.2V741.2M242.2 735.4V742.2M242.6 734.9V735.5M243.0 734.5V735.1M243.4 729.5V734.5M243.8 727.1V729.5" stroke="#358a73" stroke-width="1.1"/><path d="M244.2 722.0V730.2M244.6 717.8V727.1M245.4 718.4V725.2M246.2 714.5V721.9M246.6 710.6V715.6" stroke="#358a73" stroke-width="0.7"/><path d="M245.0 720.9V723.3M245.8 718.1V726.8M247.0 709.9V718.4" stroke="#d3505e" stroke-width="0.7"/><path d="M244.2 724.6V727.1M244.6 721.5V724.6M245.4 718.7V722.5M246.2 715.0V718.8M246.6 711.2V715.0" stroke="#358a73" stroke-width="1.1"/><path d="M245.0 721.5V722.5M245.8 718.7V719.3M247.0 711.2V718.1" stroke="#d3505e" stroke-width="1.1"/><path d="M247.4 710.1V718.6M248.2 725.2V726.7M249.0 713.9V731.2M249.8 717.1V722.4" stroke="#358a73" stroke-width="0.7"/><path d="M247.8 713.7V728.4M248.6 724.8V736.3M249.4 716.0V723.8M250.2 716.0V727.4" stroke="#d3505e" stroke-width="0.7"/><path d="M247.8 717.8V726.7M248.6 725.3V730.0M249.4 720.0V722.3M250.2 718.3V724.5" stroke="#d3505e" stroke-width="1.1"/><path d="M247.4 717.8V718.4M248.2 725.3V726.7M249.0 720.0V730.0M249.8 718.3V722.3" stroke="#358a73" stroke-width="1.1"/><path d="M251.0 723.8V727.3M251.4 712.9V728.4M252.2 720.6V729.7M252.6 720.5V726.5M253.0 716.4V726.0M253.4 715.5V720.1" stroke="#358a73" stroke-width="0.7"/><path d="M250.6 724.2V728.8M251.8 716.9V728.7" stroke="#d3505e" stroke-width="0.7"/><path d="M251.0 725.2V726.2M251.4 718.1V725.2M252.2 723.2V727.3M252.6 723.1V723.7M253.0 719.9V723.1M253.4 719.8V720.4" stroke="#358a73" stroke-width="1.1"/><path d="M250.6 724.5V726.2M251.8 718.1V727.3" stroke="#d3505e" stroke-width="1.1"/><path d="M254.2 715.6V733.4M255.4 709.7V721.5M255.8 709.8V716.9M256.6 712.3V722.3" stroke="#358a73" stroke-width="0.7"/><path d="M253.8 718.7V723.5M254.6 716.1V722.7M255.0 716.1V721.2M256.2 709.7V722.3" stroke="#d3505e" stroke-width="0.7"/><path d="M253.8 719.8V722.7M254.6 718.6V719.2M255.0 718.9V719.8M256.2 711.9V721.4" stroke="#d3505e" stroke-width="1.1"/><path d="M254.2 718.6V722.7M255.4 714.1V719.8M255.8 711.9V714.1M256.6 712.8V721.4" stroke="#358a73" stroke-width="1.1"/><path d="M257.8 706.0V717.8M258.6 697.6V710.5M259.4 712.4V717.7M259.8 708.3V714.8" stroke="#358a73" stroke-width="0.7"/><path d="M257.0 708.8V713.3M257.4 713.1V716.9M258.2 702.9V713.7M259.0 705.6V715.4" stroke="#d3505e" stroke-width="0.7"/><path d="M257.8 707.0V714.9M258.6 706.6V709.7M259.4 713.4V714.3M259.8 711.8V713.4" stroke="#358a73" stroke-width="1.1"/><path d="M257.0 712.8V713.4M257.4 713.3V714.9M258.2 707.0V709.7M259.0 706.6V714.3" stroke="#d3505e" stroke-width="1.1"/><path d="M260.2 708.1V716.9M260.6 707.1V708.6M261.0 698.3V710.9M261.4 694.2V702.7M261.8 690.0V701.8M262.2 678.6V708.1M262.6 674.4V686.2" stroke="#358a73" stroke-width="0.7"/><path d="M263.0 673.6V690.6" stroke="#d3505e" stroke-width="0.7"/><path d="M263.0 676.6V688.5" stroke="#d3505e" stroke-width="1.1"/><path d="M260.2 708.2V711.8M260.6 708.0V708.6M261.0 701.4V708.0M261.4 696.3V701.4M261.8 696.1V696.7M262.2 682.6V696.1M262.6 676.6V682.6" stroke="#358a73" stroke-width="1.1"/><path d="M263.4 673.3V691.0M264.2 677.5V686.1M264.6 674.6V682.1M265.4 681.4V685.8M265.8 670.6V690.5" stroke="#358a73" stroke-width="0.7"/><path d="M263.8 670.6V690.1M265.0 668.2V683.5M266.2 674.3V683.3" stroke="#d3505e" stroke-width="0.7"/><path d="M263.4 679.5V688.5M264.2 680.2V682.8M264.6 676.9V680.2M265.4 681.8V683.0M265.8 674.6V681.8" stroke="#358a73" stroke-width="1.1"/><path d="M263.8 679.5V682.8M265.0 676.9V683.0M266.2 674.6V682.3" stroke="#d3505e" stroke-width="1.1"/><path d="M266.6 677.6V682.6M267.0 666.5V679.6M268.6 669.8V681.0" stroke="#358a73" stroke-width="0.7"/><path d="M267.4 665.1V674.4M267.8 669.5V675.6M268.2 670.5V681.4M269.0 664.7V674.5M269.4 672.2V682.6" stroke="#d3505e" stroke-width="0.7"/><path d="M267.4 667.7V670.0M267.8 670.0V674.3M268.2 674.3V678.1M269.0 669.9V672.8M269.4 672.8V675.4" stroke="#d3505e" stroke-width="1.1"/><path d="M266.6 679.2V682.3M267.0 667.7V679.2M268.6 669.9V678.1" stroke="#358a73" stroke-width="1.1"/><path d="M270.2 655.3V682.6M271.0 655.2V663.9" stroke="#358a73" stroke-width="0.7"/><path d="M269.8 672.3V677.7M270.6 658.2V662.5M271.4 657.4V667.5M271.8 659.7V669.8M272.2 663.2V671.3M272.6 666.0V676.8" stroke="#d3505e" stroke-width="0.7"/><path d="M270.2 660.9V676.0M271.0 660.2V661.1" stroke="#358a73" stroke-width="1.1"/><path d="M269.8 675.4V676.0M270.6 660.9V661.5M271.4 660.2V663.4M271.8 663.4V665.4M272.2 665.4V670.0M272.6 670.0V671.8" stroke="#d3505e" stroke-width="1.1"/><path d="M273.0 656.7V674.5M273.4 652.7V664.9M273.8 652.2V661.9M274.2 651.8V663.9M274.6 653.1V658.1M275.0 643.2V657.3" stroke="#358a73" stroke-width="0.7"/><path d="M275.4 645.2V651.9M275.8 644.4V654.6" stroke="#d3505e" stroke-width="0.7"/><path d="M275.4 645.7V648.0M275.8 648.0V648.6" stroke="#d3505e" stroke-width="1.1"/><path d="M273.0 661.8V671.8M273.4 658.7V661.8M273.8 656.9V658.7M274.2 655.8V656.9M274.6 653.7V655.8M275.0 645.7V653.7" stroke="#358a73" stroke-width="1.1"/><path d="M276.2 642.2V650.4M276.6 629.6V650.1M277.0 628.1V636.9M277.4 616.3V633.8M277.8 616.3V617.3M278.2 601.2V622.7M278.6 609.3V620.8M279.0 589.5V611.3" stroke="#358a73" stroke-width="0.7"/><path d="M276.2 648.0V648.6M276.6 633.0V648.0M277.0 630.5V633.0M277.4 616.7V630.5M277.8 616.6V617.2M278.2 611.4V616.6M278.6 610.2V611.4M279.0 592.1V610.2" stroke="#358a73" stroke-width="1.1"/><path d="M279.4 588.2V595.8M280.5 603.4V614.3M281.7 605.8V618.2M282.1 595.5V609.3" stroke="#358a73" stroke-width="0.7"/><path d="M279.8 585.6V604.9M280.1 602.6V616.7M280.9 602.7V612.5M281.3 605.7V617.7" stroke="#d3505e" stroke-width="0.7"/><path d="M279.8 589.6V603.8M280.1 603.8V610.9M280.9 606.4V608.4M281.3 608.4V613.9" stroke="#d3505e" stroke-width="1.1"/><path d="M279.4 589.6V592.1M280.5 606.4V610.9M281.7 607.7V613.9M282.1 598.5V607.7" stroke="#358a73" stroke-width="1.1"/><path d="M282.5 594.8V598.7M283.3 586.2V598.0M283.7 582.8V590.5M284.1 578.3V588.4M284.9 578.5V592.8" stroke="#358a73" stroke-width="0.7"/><path d="M282.9 594.5V602.9M284.5 580.1V587.8M285.3 571.6V587.7" stroke="#d3505e" stroke-width="0.7"/><path d="M282.5 597.4V598.5M283.3 586.9V597.4M283.7 586.1V586.9M284.1 580.8V586.1M284.9 580.0V586.6" stroke="#358a73" stroke-width="1.1"/><path d="M282.9 597.4V598.0M284.5 580.8V586.6M285.3 580.0V583.7" stroke="#d3505e" stroke-width="1.1"/><path d="M287.3 601.4V608.6M288.1 600.1V608.3M288.5 596.5V603.8" stroke="#358a73" stroke-width="0.7"/><path d="M285.7 579.5V595.3M286.1 584.8V605.3M286.5 596.0V606.2M286.9 599.8V608.2M287.7 598.4V609.1" stroke="#d3505e" stroke-width="0.7"/><path d="M285.7 583.7V591.7M286.1 591.7V600.2M286.5 600.2V604.6M286.9 604.6V606.7M287.7 603.5V604.9" stroke="#d3505e" stroke-width="1.1"/><path d="M287.3 603.5V606.7M288.1 603.3V604.9M288.5 599.4V603.3" stroke="#358a73" stroke-width="1.1"/><path d="M288.9 589.1V606.5M289.3 584.0V593.9M289.7 576.3V590.2M290.5 581.6V601.4M291.3 573.0V589.9M291.7 568.0V575.5" stroke="#358a73" stroke-width="0.7"/><path d="M290.1 572.6V601.3M290.9 580.8V592.4" stroke="#d3505e" stroke-width="0.7"/><path d="M288.9 591.3V599.4M289.3 590.0V591.3M289.7 584.5V590.0M290.5 581.9V595.3M291.3 573.8V587.3M291.7 572.9V573.8" stroke="#358a73" stroke-width="1.1"/><path d="M290.1 584.5V595.3M290.9 581.9V587.3" stroke="#d3505e" stroke-width="1.1"/><path d="M292.1 554.8V576.0M293.3 552.1V562.2M294.1 552.3V562.1M294.9 538.6V558.8" stroke="#358a73" stroke-width="0.7"/><path d="M292.5 553.0V563.6M292.9 560.8V561.7M293.7 549.6V559.8M294.5 554.0V557.2" stroke="#d3505e" stroke-width="0.7"/><path d="M292.5 559.0V561.2M292.9 561.2V561.8M293.7 555.3V559.8M294.5 554.0V555.3" stroke="#d3505e" stroke-width="1.1"/><path d="M292.1 559.0V572.9M293.3 555.3V561.6M294.1 554.0V559.8M294.9 540.7V555.3" stroke="#358a73" stroke-width="1.1"/><path d="M295.3 527.8V542.7M295.7 518.4V530.3M296.1 496.0V528.4M297.7 542.0V545.5" stroke="#358a73" stroke-width="0.7"/><path d="M296.5 504.5V521.6M296.9 515.6V524.8M297.3 518.9V546.5M298.1 539.8V563.4" stroke="#d3505e" stroke-width="0.7"/><path d="M295.3 528.6V540.7M295.7 518.9V528.6M296.1 507.1V518.9M297.7 542.5V544.3" stroke="#358a73" stroke-width="1.1"/><path d="M296.5 507.1V517.6M296.9 517.6V522.0M297.3 522.0V544.3M298.1 542.5V556.0" stroke="#d3505e" stroke-width="1.1"/><path d="M298.9 552.4V558.4M299.3 543.7V553.8M299.7 539.3V552.4M300.1 528.3V543.2M300.5 519.9V533.1M300.9 516.8V531.2M301.3 506.3V523.5" stroke="#358a73" stroke-width="0.7"/><path d="M298.5 554.5V559.1" stroke="#d3505e" stroke-width="0.7"/><path d="M298.5 556.0V556.7" stroke="#d3505e" stroke-width="1.1"/><path d="M298.9 553.2V556.7M299.3 549.5V553.2M299.7 539.4V549.5M300.1 532.0V539.4M300.5 526.9V532.0M300.9 518.0V526.9M301.3 514.2V518.0" stroke="#358a73" stroke-width="1.1"/><path d="M301.7 506.3V521.3" stroke="#358a73" stroke-width="0.7"/><path d="M302.1 506.2V520.7M302.5 511.3V532.5M302.9 521.1V543.3M303.3 534.3V561.5M303.7 553.6V558.2M304.1 551.5V565.2M304.5 559.0V566.0" stroke="#d3505e" stroke-width="0.7"/><path d="M301.7 507.9V514.2" stroke="#358a73" stroke-width="1.1"/><path d="M302.1 507.9V516.7M302.5 516.7V523.8M302.9 523.8V538.7M303.3 538.7V555.5M303.7 555.5V557.7M304.1 557.7V563.5M304.5 563.5V565.3" stroke="#d3505e" stroke-width="1.1"/><path d="M304.9 564.3V565.3M305.3 563.5V568.0M305.7 555.7V565.5M306.5 552.5V566.5M307.3 543.9V564.9" stroke="#358a73" stroke-width="0.7"/><path d="M306.1 560.2V570.0M306.9 557.8V566.4M307.7 546.1V567.5" stroke="#d3505e" stroke-width="0.7"/><path d="M306.1 562.0V565.2M306.9 562.2V562.8M307.7 546.5V560.3" stroke="#d3505e" stroke-width="1.1"/><path d="M304.9 564.9V565.5M305.3 564.0V564.9M305.7 562.0V564.0M306.5 562.2V565.2M307.3 546.5V562.8" stroke="#358a73" stroke-width="1.1"/><path d="M308.1 550.5V567.9M308.5 556.7V563.0M308.9 551.4V560.2M309.7 556.4V565.3M310.1 551.1V560.9M310.5 533.3V554.2M310.9 523.0V536.3" stroke="#358a73" stroke-width="0.7"/><path d="M309.3 555.0V566.1" stroke="#d3505e" stroke-width="0.7"/><path d="M308.1 558.2V560.3M308.5 558.1V558.7M308.9 557.1V558.1M309.7 557.1V565.2M310.1 553.8V557.1M310.5 533.8V553.8M310.9 527.9V533.8" stroke="#358a73" stroke-width="1.1"/><path d="M309.3 557.1V565.2" stroke="#d3505e" stroke-width="1.1"/><path d="M311.7 523.2V540.0M312.5 517.5V533.5M312.9 518.4V527.5" stroke="#358a73" stroke-width="0.7"/><path d="M311.3 519.9V541.6M312.1 526.9V533.9M313.3 518.4V530.1M313.7 523.7V527.9M314.1 525.2V534.2" stroke="#d3505e" stroke-width="0.7"/><path d="M311.3 527.9V536.5M312.1 527.3V531.1M313.3 518.7V527.5M313.7 527.5V528.1M314.1 527.7V529.4" stroke="#d3505e" stroke-width="1.1"/><path d="M311.7 527.3V536.5M312.5 526.7V531.1M312.9 518.7V526.7" stroke="#358a73" stroke-width="1.1"/><path d="M314.5 526.3V535.2M315.7 524.6V535.6M316.9 520.4V542.8" stroke="#358a73" stroke-width="0.7"/><path d="M314.9 525.2V536.2M315.3 530.5V536.5M316.1 520.4V529.4M316.5 525.7V543.4M317.3 523.0V537.0" stroke="#d3505e" stroke-width="0.7"/><path d="M314.5 528.6V529.4M315.7 527.7V531.1M316.9 523.0V536.6" stroke="#358a73" stroke-width="1.1"/><path d="M314.9 528.6V530.5M315.3 530.5V531.1M316.1 527.7V528.3M316.5 528.2V536.6M317.3 523.0V535.1" stroke="#d3505e" stroke-width="1.1"/><path d="M318.1 541.0V555.1M318.9 545.7V553.7M319.7 552.8V560.4" stroke="#358a73" stroke-width="0.7"/><path d="M317.7 532.1V556.4M318.5 541.1V548.6M319.3 541.0V555.8M320.1 553.9V563.4M320.5 556.1V564.5" stroke="#d3505e" stroke-width="0.7"/><path d="M317.7 535.1V548.5M318.5 543.0V548.4M319.3 546.3V555.3M320.1 554.0V557.2M320.5 557.2V560.6" stroke="#d3505e" stroke-width="1.1"/><path d="M318.1 543.0V548.5M318.9 546.3V548.4M319.7 554.0V555.3" stroke="#358a73" stroke-width="1.1"/><path d="M321.7 562.6V568.1M322.1 551.1V568.7M322.9 549.7V564.3M323.7 552.6V561.8" stroke="#358a73" stroke-width="0.7"/><path d="M320.9 560.5V567.8M321.3 564.8V572.1M322.5 551.2V563.5M323.3 549.6V565.2" stroke="#d3505e" stroke-width="0.7"/><path d="M321.7 566.0V567.8M322.1 554.9V566.0M322.9 551.5V562.3M323.7 556.9V560.5" stroke="#358a73" stroke-width="1.1"/><path d="M320.9 560.6V565.0M321.3 565.0V567.8M322.5 554.9V562.3M323.3 551.5V560.5" stroke="#d3505e" stroke-width="1.1"/><path d="M324.1 552.1V564.2M324.5 547.3V553.7M325.3 542.9V560.3M326.5 550.6V561.0M326.9 543.6V558.4" stroke="#358a73" stroke-width="0.7"/><path d="M324.9 543.0V560.6M325.7 546.4V561.3M326.1 558.5V570.1" stroke="#d3505e" stroke-width="0.7"/><path d="M324.9 548.7V555.7M325.7 548.6V558.6M326.1 558.6V560.7" stroke="#d3505e" stroke-width="1.1"/><path d="M324.1 552.2V556.9M324.5 548.7V552.2M325.3 548.6V555.7M326.5 556.9V560.7M326.9 546.2V556.9" stroke="#358a73" stroke-width="1.1"/><path d="M328.1 542.1V556.6M328.5 546.2V550.3M329.7 552.6V560.9" stroke="#358a73" stroke-width="0.7"/><path d="M327.3 542.7V553.4M327.7 549.1V554.8M328.9 545.7V552.3M329.3 543.0V561.9M330.1 547.5V555.3" stroke="#d3505e" stroke-width="0.7"/><path d="M328.1 547.6V553.8M328.5 547.2V547.8M329.7 553.8V556.9" stroke="#358a73" stroke-width="1.1"/><path d="M327.3 546.2V552.7M327.7 552.7V553.8M328.9 547.2V551.6M329.3 551.6V556.9M330.1 553.8V555.1" stroke="#d3505e" stroke-width="1.1"/><path d="M330.5 542.8V565.2M331.3 561.1V567.9M333.3 580.6V588.9" stroke="#358a73" stroke-width="0.7"/><path d="M330.9 543.9V568.0M331.7 560.9V571.2M332.1 566.9V576.1M332.5 571.6V595.2M332.9 582.8V590.5" stroke="#d3505e" stroke-width="0.7"/><path d="M330.9 545.4V563.2M331.7 563.1V570.9M332.1 570.9V575.0M332.5 575.0V584.4M332.9 584.4V588.9" stroke="#d3505e" stroke-width="1.1"/><path d="M330.5 545.4V555.1M331.3 563.1V563.7M333.3 583.5V588.9" stroke="#358a73" stroke-width="1.1"/><path d="M334.1 585.9V600.4M334.5 585.6V597.4M335.7 585.3V602.5" stroke="#358a73" stroke-width="0.7"/><path d="M333.7 580.7V601.6M334.9 584.1V596.2M335.3 594.8V604.7M336.1 585.5V594.0M336.5 578.4V592.8" stroke="#d3505e" stroke-width="0.7"/><path d="M334.1 588.6V594.4M334.5 586.5V588.6M335.7 586.4V599.5" stroke="#358a73" stroke-width="1.1"/><path d="M333.7 583.5V594.4M334.9 586.5V596.2M335.3 596.2V599.5M336.1 586.4V589.5M336.5 589.5V592.7" stroke="#d3505e" stroke-width="1.1"/><path d="M336.9 587.0V598.7M338.1 593.4V608.0M338.9 591.8V609.7" stroke="#358a73" stroke-width="0.7"/><path d="M337.3 589.0V604.1M337.7 596.3V604.3M338.5 591.7V612.1M339.3 591.5V605.4M339.7 598.0V609.0" stroke="#d3505e" stroke-width="0.7"/><path d="M337.3 590.6V601.7M337.7 601.7V603.4M338.5 601.4V606.6M339.3 600.9V602.2M339.7 602.2V605.8" stroke="#d3505e" stroke-width="1.1"/><path d="M336.9 590.6V592.7M338.1 601.4V603.4M338.9 600.9V606.6" stroke="#358a73" stroke-width="1.1"/><path d="M341.3 596.4V617.5M341.7 599.4V604.0M342.1 596.6V603.9" stroke="#358a73" stroke-width="0.7"/><path d="M340.1 605.6V612.4M340.5 602.9V611.1M340.9 602.8V617.4M342.5 595.5V602.8M342.9 597.0V611.4" stroke="#d3505e" stroke-width="0.7"/><path d="M341.3 603.3V616.0M341.7 601.7V603.3M342.1 597.9V601.7" stroke="#358a73" stroke-width="1.1"/><path d="M340.1 605.8V607.1M340.5 607.1V607.7M340.9 607.1V616.0M342.5 597.9V600.2M342.9 600.2V610.6" stroke="#d3505e" stroke-width="1.1"/><path d="M343.3 604.1V615.3M343.7 598.2V605.1M344.1 595.7V603.6M344.5 570.6V603.3M345.3 568.0V581.3M346.1 569.1V572.2" stroke="#358a73" stroke-width="0.7"/><path d="M344.9 547.8V576.1M345.7 559.9V573.1" stroke="#d3505e" stroke-width="0.7"/><path d="M344.9 573.5V575.4M345.7 569.4V571.0" stroke="#d3505e" stroke-width="1.1"/><path d="M343.3 604.3V610.6M343.7 601.7V604.3M344.1 600.2V601.7M344.5 573.5V600.2M345.3 569.4V575.4M346.1 570.7V571.3" stroke="#358a73" stroke-width="1.1"/><path d="M347.3 573.2V581.8M347.7 572.6V582.3M349.3 573.1V582.8" stroke="#358a73" stroke-width="0.7"/><path d="M346.5 564.8V575.1M346.9 568.6V583.2M348.1 575.1V578.1M348.5 574.5V581.5M348.9 572.3V585.4" stroke="#d3505e" stroke-width="0.7"/><path d="M347.3 579.1V580.1M347.7 575.2V579.1M349.3 573.8V581.1" stroke="#358a73" stroke-width="1.1"/><path d="M346.5 570.7V571.5M346.9 571.5V580.1M348.1 575.2V577.0M348.5 577.0V579.3M348.9 579.3V581.1" stroke="#d3505e" stroke-width="1.1"/><path d="M349.7 563.2V579.3M350.9 570.2V583.3M351.7 574.4V589.1M352.5 580.4V590.7" stroke="#358a73" stroke-width="0.7"/><path d="M350.1 562.4V571.7M350.5 562.4V581.8M351.3 569.4V593.1M352.1 575.1V594.0" stroke="#d3505e" stroke-width="0.7"/><path d="M350.1 567.1V570.6M350.5 570.6V575.8M351.3 575.1V589.0M352.1 577.2V586.2" stroke="#d3505e" stroke-width="1.1"/><path d="M349.7 567.1V573.8M350.9 575.1V575.8M351.7 577.2V589.0M352.5 583.2V586.2" stroke="#358a73" stroke-width="1.1"/><path d="M353.7 591.9V602.4M355.3 595.1V614.6" stroke="#358a73" stroke-width="0.7"/><path d="M352.9 577.2V585.9M353.3 585.1V603.3M354.1 596.0V610.9M354.5 599.7V608.7M354.9 605.7V611.7M355.7 599.9V611.8" stroke="#d3505e" stroke-width="0.7"/><path d="M353.7 598.8V599.4M355.3 602.6V611.5" stroke="#358a73" stroke-width="1.1"/><path d="M352.9 583.2V585.8M353.3 585.8V598.9M354.1 598.8V605.2M354.5 605.2V608.0M354.9 608.0V611.5M355.7 602.6V606.2" stroke="#d3505e" stroke-width="1.1"/><path d="M356.9 610.9V631.2M357.7 611.0V619.9" stroke="#358a73" stroke-width="0.7"/><path d="M356.1 605.9V620.7M356.5 612.7V627.3M357.3 610.7V618.4M358.1 610.8V620.1M358.5 618.2V628.9M358.9 616.0V623.7" stroke="#d3505e" stroke-width="0.7"/><path d="M356.1 606.2V614.8M356.5 614.8V622.7M357.3 613.1V615.1M358.1 614.9V619.5M358.5 619.5V620.1M358.9 619.5V623.2" stroke="#d3505e" stroke-width="1.1"/><path d="M356.9 613.1V622.7M357.7 614.9V615.5" stroke="#358a73" stroke-width="1.1"/><path d="M359.7 617.6V630.1M360.1 617.4V622.5M361.3 627.8V638.4M361.7 621.8V634.8" stroke="#358a73" stroke-width="0.7"/><path d="M359.3 621.9V631.3M360.5 617.9V638.6M360.9 630.2V638.2M362.1 623.7V632.7" stroke="#d3505e" stroke-width="0.7"/><path d="M359.7 621.9V628.8M360.1 618.4V621.9M361.3 629.5V636.1M361.7 624.2V629.5" stroke="#358a73" stroke-width="1.1"/><path d="M359.3 623.2V628.8M360.5 618.4V633.2M360.9 633.2V636.1M362.1 624.2V627.4" stroke="#d3505e" stroke-width="1.1"/><path d="M363.3 626.6V638.5M363.7 628.4V634.4M364.9 630.0V636.0M365.3 625.8V637.6" stroke="#358a73" stroke-width="0.7"/><path d="M362.5 626.9V631.7M362.9 629.1V638.7M364.1 621.3V635.1M364.5 631.1V636.0" stroke="#d3505e" stroke-width="0.7"/><path d="M362.5 627.4V631.5M362.9 631.5V636.1M364.1 629.1V631.4M364.5 631.4V633.5" stroke="#d3505e" stroke-width="1.1"/><path d="M363.3 629.1V636.1M363.7 629.1V629.7M364.9 632.7V633.5M365.3 628.3V632.7" stroke="#358a73" stroke-width="1.1"/><path d="M366.5 620.7V638.5M366.9 624.3V630.8M367.7 620.7V630.0M368.1 608.0V629.6M368.5 607.9V615.8" stroke="#358a73" stroke-width="0.7"/><path d="M365.7 627.5V638.4M366.1 631.4V637.4M367.3 625.8V626.8" stroke="#d3505e" stroke-width="0.7"/><path d="M366.5 626.2V636.8M366.9 625.8V626.4M367.7 623.4V625.9M368.1 613.8V623.4M368.5 610.5V613.8" stroke="#358a73" stroke-width="1.1"/><path d="M365.7 628.3V636.0M366.1 636.0V636.8M367.3 625.8V626.4" stroke="#d3505e" stroke-width="1.1"/><path d="M370.5 608.3V623.9M370.9 608.5V612.8M371.3 598.1V610.0M371.7 595.0V606.2" stroke="#358a73" stroke-width="0.7"/><path d="M368.9 610.2V614.7M369.3 610.6V618.9M369.7 611.0V619.4M370.1 617.0V624.7" stroke="#d3505e" stroke-width="0.7"/><path d="M368.9 610.5V614.5M369.3 614.5V616.6M369.7 616.6V617.2M370.1 617.0V623.4" stroke="#d3505e" stroke-width="1.1"/><path d="M370.5 610.8V623.4M370.9 609.8V610.8M371.3 602.9V609.8M371.7 599.0V602.9" stroke="#358a73" stroke-width="1.1"/><path d="M372.9 604.3V616.5M373.3 605.3V614.2M373.7 604.9V610.1M374.5 597.3V609.8" stroke="#358a73" stroke-width="0.7"/><path d="M372.1 593.7V608.6M372.5 605.3V616.3M374.1 601.6V616.9M374.9 600.9V607.5" stroke="#d3505e" stroke-width="0.7"/><path d="M372.9 609.6V611.7M373.3 607.6V609.6M373.7 607.0V607.6M374.5 602.1V609.0" stroke="#358a73" stroke-width="1.1"/><path d="M372.1 599.0V607.7M372.5 607.7V611.7M374.1 607.0V609.0M374.9 602.1V606.4" stroke="#d3505e" stroke-width="1.1"/><path d="M375.3 591.5V607.5M375.7 585.7V599.4M376.1 588.8V598.8M376.9 581.0V586.4M377.3 579.8V586.5M377.7 571.9V582.9M378.1 569.3V578.6" stroke="#358a73" stroke-width="0.7"/><path d="M376.5 589.7V597.0" stroke="#d3505e" stroke-width="0.7"/><path d="M376.5 591.2V595.4" stroke="#d3505e" stroke-width="1.1"/><path d="M375.3 596.3V606.4M375.7 594.3V596.3M376.1 591.2V594.3M376.9 583.7V595.4M377.3 579.9V583.7M377.7 576.4V579.9M378.1 571.9V576.4" stroke="#358a73" stroke-width="1.1"/><path d="M378.9 562.9V576.3M380.1 564.3V584.0M381.3 567.0V577.8" stroke="#358a73" stroke-width="0.7"/><path d="M378.5 570.3V577.9M379.3 561.3V576.5M379.7 574.7V587.0M380.5 561.4V577.0M380.9 570.8V578.7" stroke="#d3505e" stroke-width="0.7"/><path d="M378.9 563.4V575.7M380.1 565.9V582.7M381.3 568.4V576.5" stroke="#358a73" stroke-width="1.1"/><path d="M378.5 571.9V575.7M379.3 563.4V575.9M379.7 575.9V582.7M380.5 565.9V571.8M380.9 571.8V576.5" stroke="#d3505e" stroke-width="1.1"/><path d="M381.7 557.9V574.5M382.9 572.4V586.0M383.3 557.8V579.4M384.1 559.4V574.0" stroke="#358a73" stroke-width="0.7"/><path d="M382.1 557.9V574.8M382.5 564.4V580.7M383.7 562.2V566.7M384.5 556.2V574.9" stroke="#d3505e" stroke-width="0.7"/><path d="M382.1 559.8V567.5M382.5 567.5V579.3M383.7 563.4V566.7M384.5 562.4V570.5" stroke="#d3505e" stroke-width="1.1"/><path d="M381.7 559.8V568.4M382.9 576.4V579.3M383.3 563.4V576.4M384.1 562.4V566.7" stroke="#358a73" stroke-width="1.1"/><path d="M385.3 561.8V574.6M385.7 557.9V568.0M386.1 548.6V567.3M386.5 547.7V551.5M387.3 545.7V561.9" stroke="#358a73" stroke-width="0.7"/><path d="M384.9 569.8V574.5M386.9 549.2V556.8M387.7 546.6V553.8" stroke="#d3505e" stroke-width="0.7"/><path d="M385.3 566.1V572.2M385.7 562.4V566.1M386.1 551.3V562.4M386.5 550.8V551.4M387.3 550.1V556.7" stroke="#358a73" stroke-width="1.1"/><path d="M384.9 570.5V572.2M386.9 550.8V556.7M387.7 550.1V551.2" stroke="#d3505e" stroke-width="1.1"/><path d="M388.5 545.1V562.2M390.1 552.3V558.5" stroke="#358a73" stroke-width="0.7"/><path d="M388.1 550.9V557.4M388.9 545.7V552.0M389.3 546.0V553.2M389.7 548.3V568.6M390.5 546.7V568.1M390.9 560.2V573.2" stroke="#d3505e" stroke-width="0.7"/><path d="M388.1 551.2V553.9M388.9 547.0V549.0M389.3 549.0V552.7M389.7 552.7V557.1M390.5 553.9V562.4M390.9 562.4V572.6" stroke="#d3505e" stroke-width="1.1"/><path d="M388.5 547.0V553.9M390.1 553.9V557.1" stroke="#358a73" stroke-width="1.1"/><path d="M391.7 562.9V586.5M392.5 565.5V574.7M393.7 559.1V574.3" stroke="#358a73" stroke-width="0.7"/><path d="M391.3 570.4V582.8M392.1 557.9V574.6M392.9 564.4V572.0M393.3 568.0V572.4M394.1 568.6V573.4" stroke="#d3505e" stroke-width="0.7"/><path d="M391.7 567.8V581.0M392.5 567.0V574.6M393.7 566.5V571.2" stroke="#358a73" stroke-width="1.1"/><path d="M391.3 572.6V581.0M392.1 567.8V574.6M392.9 567.0V569.2M393.3 569.2V571.2M394.1 566.5V572.3" stroke="#d3505e" stroke-width="1.1"/><path d="M394.5 569.8V576.4M395.3 569.4V585.3M396.5 569.4V583.5" stroke="#358a73" stroke-width="0.7"/><path d="M394.9 570.3V583.9M395.7 572.9V578.9M396.1 569.9V580.7M396.9 571.4V592.3M397.3 587.9V596.1" stroke="#d3505e" stroke-width="0.7"/><path d="M394.9 571.8V579.5M395.7 573.8V574.4M396.1 573.8V579.3M396.9 578.7V591.8M397.3 591.8V593.7" stroke="#d3505e" stroke-width="1.1"/><path d="M394.5 571.8V572.4M395.3 573.8V579.5M396.5 578.7V579.3" stroke="#358a73" stroke-width="1.1"/><path d="M397.7 585.8V595.7M398.1 571.7V594.2M400.5 663.2V721.5" stroke="#358a73" stroke-width="0.7"/><path d="M398.5 574.4V590.0M398.9 587.0V619.7M399.3 606.3V643.6M399.7 633.4V664.9M400.1 649.4V677.0" stroke="#d3505e" stroke-width="0.7"/><path d="M397.7 588.0V593.7M398.1 576.4V588.0M400.5 669.3V674.2" stroke="#358a73" stroke-width="1.1"/><path d="M398.5 576.4V587.4M398.9 587.4V615.7M399.3 615.7V638.8M399.7 638.8V659.9M400.1 659.9V674.2" stroke="#d3505e" stroke-width="1.1"/><path d="M401.3 666.3V672.2M401.7 656.8V670.1M402.1 650.7V659.3M402.9 635.2V658.8M403.7 635.2V655.0" stroke="#358a73" stroke-width="0.7"/><path d="M400.9 662.3V675.6M402.5 648.7V658.9M403.3 645.4V652.2" stroke="#d3505e" stroke-width="0.7"/><path d="M400.9 669.3V670.7M402.5 653.0V655.8M403.3 646.6V650.6" stroke="#d3505e" stroke-width="1.1"/><path d="M401.3 666.9V670.7M401.7 658.5V666.9M402.1 653.0V658.5M402.9 646.6V655.8M403.7 643.5V650.6" stroke="#358a73" stroke-width="1.1"/><path d="M404.5 642.3V655.0M404.9 630.3V653.7M405.7 635.2V648.7M406.1 628.3V639.2" stroke="#358a73" stroke-width="0.7"/><path d="M404.1 637.2V661.5M405.3 635.7V650.0M406.5 628.1V649.5M406.9 640.8V649.4" stroke="#d3505e" stroke-width="0.7"/><path d="M404.5 645.7V653.7M404.9 637.5V645.7M405.7 638.9V645.3M406.1 628.9V638.9" stroke="#358a73" stroke-width="1.1"/><path d="M404.1 643.5V653.7M405.3 637.5V645.3M406.5 628.9V644.4M406.9 644.4V645.2" stroke="#d3505e" stroke-width="1.1"/><path d="M407.3 625.3V649.3M408.1 621.0V632.4M408.9 626.0V633.0M409.3 623.2V628.7M410.1 615.0V638.4" stroke="#358a73" stroke-width="0.7"/><path d="M407.7 623.3V636.2M408.5 621.2V634.0M409.7 617.9V635.3" stroke="#d3505e" stroke-width="0.7"/><path d="M407.7 627.8V630.3M408.5 621.4V630.7M409.7 623.3V634.8" stroke="#d3505e" stroke-width="1.1"/><path d="M407.3 627.8V645.2M408.1 621.4V630.3M408.9 628.1V630.7M409.3 623.3V628.1M410.1 624.0V634.8" stroke="#358a73" stroke-width="1.1"/><path d="M410.9 623.6V635.9M411.3 623.1V634.7M411.7 606.6V634.0M412.1 610.7V624.5M412.5 599.6V614.6M413.2 608.0V621.4" stroke="#358a73" stroke-width="0.7"/><path d="M410.5 619.7V637.5M412.9 604.9V613.7" stroke="#d3505e" stroke-width="0.7"/><path d="M410.9 629.1V632.4M411.3 624.8V629.1M411.7 615.7V624.8M412.1 611.4V615.7M412.5 605.5V611.4M413.2 608.1V609.2" stroke="#358a73" stroke-width="1.1"/><path d="M410.5 624.0V632.4M412.9 605.5V609.2" stroke="#d3505e" stroke-width="1.1"/><path d="M413.6 597.7V612.2M414.0 590.0V605.1M414.4 591.2V594.5M415.6 591.2V601.3M416.4 583.5V601.2" stroke="#358a73" stroke-width="0.7"/><path d="M414.8 590.2V596.4M415.2 589.6V603.6M416.0 589.8V596.7" stroke="#d3505e" stroke-width="0.7"/><path d="M414.8 592.7V595.4M415.2 595.4V600.5M416.0 591.9V592.5" stroke="#d3505e" stroke-width="1.1"/><path d="M413.6 603.5V608.1M414.0 594.0V603.5M414.4 592.7V594.0M415.6 591.9V600.5M416.4 584.2V592.3" stroke="#358a73" stroke-width="1.1"/><path d="M417.2 582.6V592.3M417.6 572.6V584.3M419.2 585.1V588.4M419.6 571.0V588.3" stroke="#358a73" stroke-width="0.7"/><path d="M416.8 583.9V592.4M418.0 563.3V593.4M418.4 585.0V590.9M418.8 585.7V588.5" stroke="#d3505e" stroke-width="0.7"/><path d="M417.2 583.7V590.9M417.6 575.4V583.7M419.2 586.1V587.0M419.6 580.7V586.1" stroke="#358a73" stroke-width="1.1"/><path d="M416.8 584.2V590.9M418.0 575.4V585.8M418.4 585.8V586.9M418.8 586.9V587.5" stroke="#d3505e" stroke-width="1.1"/><path d="M420.0 575.3V583.2M420.8 568.4V583.9M421.2 565.2V570.8M421.6 561.1V569.5M422.0 554.4V564.8M422.4 550.3V558.0M422.8 548.0V560.9" stroke="#358a73" stroke-width="0.7"/><path d="M420.4 577.7V587.6" stroke="#d3505e" stroke-width="0.7"/><path d="M420.4 578.4V580.5" stroke="#d3505e" stroke-width="1.1"/><path d="M420.0 578.4V580.7M420.8 569.6V580.5M421.2 565.3V569.6M421.6 564.0V565.3M422.0 555.7V564.0M422.4 551.9V555.7M422.8 551.5V552.1" stroke="#358a73" stroke-width="1.1"/><path d="M424.0 576.0V588.8M424.4 561.9V580.2M425.2 574.8V581.0M425.6 571.2V579.8M426.0 568.5V577.2" stroke="#358a73" stroke-width="0.7"/><path d="M423.2 548.6V570.8M423.6 559.8V588.9M424.8 565.4V581.1" stroke="#d3505e" stroke-width="0.7"/><path d="M424.0 578.3V585.6M424.4 568.9V578.3M425.2 577.7V579.2M425.6 575.9V577.7M426.0 572.6V575.9" stroke="#358a73" stroke-width="1.1"/><path d="M423.2 551.5V564.9M423.6 564.9V585.6M424.8 568.9V579.2" stroke="#d3505e" stroke-width="1.1"/><path d="M427.2 570.9V580.1M427.6 567.1V572.4M428.4 563.4V572.0M428.8 552.0V566.5" stroke="#358a73" stroke-width="0.7"/><path d="M426.4 572.1V579.8M426.8 571.9V578.8M428.0 568.7V574.4M429.2 554.2V564.7" stroke="#d3505e" stroke-width="0.7"/><path d="M426.4 572.6V576.3M426.8 576.3V577.9M428.0 568.9V571.7M429.2 555.6V559.2" stroke="#d3505e" stroke-width="1.1"/><path d="M427.2 571.5V577.9M427.6 568.9V571.5M428.4 565.2V571.7M428.8 555.6V565.2" stroke="#358a73" stroke-width="1.1"/><path d="M430.0 551.8V561.3M431.2 555.6V566.3M431.6 553.3V560.2M432.0 549.7V555.6" stroke="#358a73" stroke-width="0.7"/><path d="M429.6 558.9V566.0M430.4 551.6V557.1M430.8 552.5V569.2M432.4 549.9V558.3" stroke="#d3505e" stroke-width="0.7"/><path d="M430.0 555.8V561.2M431.2 557.1V564.7M431.6 553.9V557.1M432.0 551.5V553.9" stroke="#358a73" stroke-width="1.1"/><path d="M429.6 559.2V561.2M430.4 555.8V556.7M430.8 556.7V564.7M432.4 551.5V552.8" stroke="#d3505e" stroke-width="1.1"/><path d="M432.8 549.4V554.1M433.2 542.9V554.4M434.0 549.5V557.9M434.8 556.5V560.9" stroke="#358a73" stroke-width="0.7"/><path d="M433.6 547.3V557.3M434.4 553.2V559.7M435.2 554.7V563.0M435.6 558.0V562.5" stroke="#d3505e" stroke-width="0.7"/><path d="M433.6 548.1V555.9M434.4 554.2V557.7M435.2 556.7V559.1M435.6 559.1V560.9" stroke="#d3505e" stroke-width="1.1"/><path d="M432.8 551.2V552.8M433.2 548.1V551.2M434.0 554.2V555.9M434.8 556.7V557.7" stroke="#358a73" stroke-width="1.1"/><path d="M436.0 557.3V562.0M436.8 560.2V563.0M437.6 565.8V569.1M438.0 559.6V567.8M438.4 561.0V569.0" stroke="#358a73" stroke-width="0.7"/><path d="M436.4 557.1V563.0M437.2 561.5V571.6M438.8 558.3V566.9" stroke="#d3505e" stroke-width="0.7"/><path d="M436.0 559.8V560.9M436.8 562.7V563.3M437.6 565.8V568.6M438.0 565.7V566.3M438.4 562.2V565.7" stroke="#358a73" stroke-width="1.1"/><path d="M436.4 559.8V562.9M437.2 562.7V568.6M438.8 562.2V565.7" stroke="#d3505e" stroke-width="1.1"/><path d="M439.2 560.2V565.9M440.4 567.6V570.6M441.2 564.0V570.2" stroke="#358a73" stroke-width="0.7"/><path d="M439.6 562.4V567.6M440.0 564.5V569.1M440.8 567.6V569.5M441.6 559.4V571.3M442.0 568.3V576.5" stroke="#d3505e" stroke-width="0.7"/><path d="M439.6 562.8V566.3M440.0 566.3V569.1M440.8 567.7V569.4M441.6 567.5V569.7M442.0 569.7V570.4" stroke="#d3505e" stroke-width="1.1"/><path d="M439.2 562.8V565.7M440.4 567.7V569.1M441.2 567.5V569.4" stroke="#358a73" stroke-width="1.1"/><path d="M442.8 567.8V579.5M443.2 567.7V574.4M444.0 565.9V573.7M444.4 565.6V568.8M444.8 561.2V567.7" stroke="#358a73" stroke-width="0.7"/><path d="M442.4 566.8V579.1M443.6 567.7V569.9M445.2 563.0V567.5" stroke="#d3505e" stroke-width="0.7"/><path d="M442.8 573.4V575.3M443.2 567.7V573.4M444.0 567.6V568.2M444.4 565.6V567.6M444.8 564.1V565.6" stroke="#358a73" stroke-width="1.1"/><path d="M442.4 570.4V575.3M443.6 567.7V568.3M445.2 564.1V566.1" stroke="#d3505e" stroke-width="1.1"/><path d="M446.0 561.7V569.9M446.8 569.9V577.7M447.2 568.5V576.0M448.0 564.5V574.1" stroke="#358a73" stroke-width="0.7"/><path d="M445.6 565.5V571.4M446.4 566.2V574.0M447.6 568.1V573.9M448.4 569.1V573.7" stroke="#d3505e" stroke-width="0.7"/><path d="M445.6 566.1V569.3M446.4 566.7V573.3M447.6 570.1V573.0M448.4 570.1V570.7" stroke="#d3505e" stroke-width="1.1"/><path d="M446.0 566.7V569.3M446.8 572.9V573.5M447.2 570.1V572.9M448.0 570.1V573.0" stroke="#358a73" stroke-width="1.1"/><path d="M448.8 565.7V573.0M449.6 565.6V568.5M451.6 568.5V576.6" stroke="#358a73" stroke-width="0.7"/><path d="M449.2 564.7V569.2M450.0 565.4V573.3M450.4 564.3V574.2M450.8 570.9V575.3M451.2 572.2V578.7" stroke="#d3505e" stroke-width="0.7"/><path d="M448.8 566.7V570.2M449.6 565.9V567.7M451.6 572.1V574.9" stroke="#358a73" stroke-width="1.1"/><path d="M449.2 566.7V567.7M450.0 565.9V568.5M450.4 568.5V572.8M450.8 572.8V574.0M451.2 574.0V574.9" stroke="#d3505e" stroke-width="1.1"/><path d="M452.0 567.2V574.4M452.4 567.5V570.5M452.8 555.5V570.1M453.2 556.3V559.4M453.6 553.9V560.9M454.0 542.2V562.5M454.4 527.3V550.3M454.8 530.8V536.2" stroke="#358a73" stroke-width="0.7"/><path d="M452.0 570.4V572.1M452.4 567.6V570.4M452.8 559.0V567.6M453.2 557.7V559.0M453.6 554.3V557.7M454.0 549.0V554.3M454.4 535.6V549.0M454.8 534.3V535.6" stroke="#358a73" stroke-width="1.1"/><path d="M455.6 526.3V538.1M456.0 523.0V531.4M456.8 523.3V536.0" stroke="#358a73" stroke-width="0.7"/><path d="M455.2 532.3V537.7M456.4 526.0V531.3M457.2 517.9V540.4M457.6 533.4V537.5M458.0 535.1V540.1" stroke="#d3505e" stroke-width="0.7"/><path d="M455.6 527.1V537.1M456.0 526.2V527.1M456.8 523.4V530.5" stroke="#358a73" stroke-width="1.1"/><path d="M455.2 534.3V537.1M456.4 526.2V530.5M457.2 523.4V534.2M457.6 534.2V535.3M458.0 535.3V536.8" stroke="#d3505e" stroke-width="1.1"/><path d="M458.4 524.1V537.2M458.8 523.8V534.7M459.6 526.8V529.0M460.0 519.4V529.2M460.4 518.8V524.7" stroke="#358a73" stroke-width="0.7"/><path d="M459.2 523.2V531.0M460.8 519.3V525.3M461.2 522.7V532.0" stroke="#d3505e" stroke-width="0.7"/><path d="M459.2 525.0V528.0M460.8 520.5V524.8M461.2 524.8V531.5" stroke="#d3505e" stroke-width="1.1"/><path d="M458.4 525.9V536.8M458.8 525.0V525.9M459.6 527.2V528.0M460.0 520.6V527.2M460.4 520.5V521.1" stroke="#358a73" stroke-width="1.1"/><path d="M461.6 519.5V531.8M462.0 515.3V528.2M462.8 517.3V522.4M463.2 516.2V521.0M464.4 518.3V526.8" stroke="#358a73" stroke-width="0.7"/><path d="M462.4 519.1V524.7M463.6 518.2V531.7M464.0 522.9V528.0" stroke="#d3505e" stroke-width="0.7"/><path d="M461.6 523.4V531.5M462.0 519.8V523.4M462.8 520.9V521.5M463.2 518.5V520.9M464.4 518.4V526.8" stroke="#358a73" stroke-width="1.1"/><path d="M462.4 519.8V521.5M463.6 518.5V524.8M464.0 524.8V526.8" stroke="#d3505e" stroke-width="1.1"/><path d="M466.4 529.8V536.5M466.8 524.0V538.4M467.6 525.2V529.7" stroke="#358a73" stroke-width="0.7"/><path d="M464.8 518.3V525.0M465.2 519.1V529.9M465.6 519.4V527.7M466.0 525.0V534.5M467.2 522.9V531.1" stroke="#d3505e" stroke-width="0.7"/><path d="M464.8 518.4V522.7M465.2 522.7V523.3M465.6 523.2V525.5M466.0 525.5V532.4M467.2 525.4V526.7" stroke="#d3505e" stroke-width="1.1"/><path d="M466.4 530.1V532.4M466.8 525.4V530.1M467.6 526.2V526.8" stroke="#358a73" stroke-width="1.1"/><path d="M468.4 524.1V529.7M468.8 525.1V528.5M470.0 530.8V538.8" stroke="#358a73" stroke-width="0.7"/><path d="M468.0 521.9V528.8M469.2 523.9V531.6M469.6 525.0V537.6M470.4 532.6V546.9M470.8 545.4V554.8" stroke="#d3505e" stroke-width="0.7"/><path d="M468.4 526.1V527.7M468.8 525.5V526.1M470.0 534.3V536.8" stroke="#358a73" stroke-width="1.1"/><path d="M468.0 526.2V527.7M469.2 525.5V526.3M469.6 526.3V536.8M470.4 534.3V545.8M470.8 545.8V550.9" stroke="#d3505e" stroke-width="1.1"/><path d="M471.2 543.2V555.4M472.0 545.1V552.8M472.4 541.2V550.3M472.8 542.6V543.8M473.6 538.0V548.3" stroke="#358a73" stroke-width="0.7"/><path d="M471.6 543.7V553.2M473.2 542.8V548.7M474.0 540.1V543.9" stroke="#d3505e" stroke-width="0.7"/><path d="M471.6 547.1V551.9M473.2 543.0V547.0M474.0 540.1V541.8" stroke="#d3505e" stroke-width="1.1"/><path d="M471.2 547.1V550.9M472.0 547.1V551.9M472.4 543.4V547.1M472.8 543.0V543.6M473.6 540.1V547.0" stroke="#358a73" stroke-width="1.1"/><path d="M474.4 536.1V546.3M474.8 535.1V540.9M475.2 532.6V539.6M475.6 531.2V536.2M476.0 532.7V537.3" stroke="#358a73" stroke-width="0.7"/><path d="M476.4 532.9V543.3M476.8 537.4V543.4M477.2 541.9V542.9" stroke="#d3505e" stroke-width="0.7"/><path d="M474.4 538.4V541.8M474.8 537.6V538.4M475.2 535.0V537.6M475.6 534.4V535.0M476.0 534.0V534.6" stroke="#358a73" stroke-width="1.1"/><path d="M476.4 534.0V540.5M476.8 540.5V542.1M477.2 542.1V542.7" stroke="#d3505e" stroke-width="1.1"/><path d="M477.6 538.6V544.6M478.4 541.6V547.1M478.8 540.5V544.7M480.0 540.8V552.6M480.4 544.0V546.7" stroke="#358a73" stroke-width="0.7"/><path d="M478.0 539.2V547.8M479.2 533.5V545.8M479.6 533.2V551.8" stroke="#d3505e" stroke-width="0.7"/><path d="M478.0 539.7V546.1M479.2 541.2V543.2M479.6 543.2V548.9" stroke="#d3505e" stroke-width="1.1"/><path d="M477.6 539.7V542.7M478.4 542.1V546.1M478.8 541.2V542.1M480.0 545.5V548.9M480.4 544.4V545.5" stroke="#358a73" stroke-width="1.1"/><path d="M480.8 538.7V544.6M481.2 536.7V544.5M482.4 541.8V548.0M482.8 541.0V549.0M483.2 537.6V547.7" stroke="#358a73" stroke-width="0.7"/><path d="M481.6 537.5V552.6M482.0 543.3V551.7M483.6 538.5V544.7" stroke="#d3505e" stroke-width="0.7"/><path d="M480.8 542.1V544.4M481.2 538.9V542.1M482.4 546.1V547.1M482.8 543.9V546.1M483.2 541.0V543.9" stroke="#358a73" stroke-width="1.1"/><path d="M481.6 538.9V544.2M482.0 544.2V547.1M483.6 541.0V544.4" stroke="#d3505e" stroke-width="1.1"/><path d="M484.0 539.9V550.8M484.4 531.8V543.2M485.2 528.9V536.1M486.0 520.8V534.4M486.4 514.9V531.7M486.8 515.0V529.0" stroke="#358a73" stroke-width="0.7"/><path d="M484.8 532.2V542.3M485.6 525.3V531.0" stroke="#d3505e" stroke-width="0.7"/><path d="M484.8 533.9V535.2M485.6 529.7V530.6" stroke="#d3505e" stroke-width="1.1"/><path d="M484.0 541.2V544.4M484.4 533.9V541.2M485.2 529.7V535.2M486.0 525.9V530.6M486.4 523.4V525.9M486.8 521.4V523.4" stroke="#358a73" stroke-width="1.1"/><path d="M488.0 529.2V534.9M488.8 528.3V533.7M489.2 519.6V533.1M489.6 514.3V528.9M490.0 509.6V519.2" stroke="#358a73" stroke-width="0.7"/><path d="M487.2 513.5V527.8M487.6 519.8V535.4M488.4 523.7V533.0" stroke="#d3505e" stroke-width="0.7"/><path d="M488.0 531.8V532.4M488.8 530.2V532.2M489.2 525.7V530.2M489.6 519.2V525.7M490.0 514.1V519.2" stroke="#358a73" stroke-width="1.1"/><path d="M487.2 521.4V525.5M487.6 525.5V532.1M488.4 531.8V532.4" stroke="#d3505e" stroke-width="1.1"/><path d="M490.4 501.0V518.6M491.2 491.6V510.5M492.4 492.1V510.6M492.8 496.7V503.3M493.2 494.7V501.0" stroke="#358a73" stroke-width="0.7"/><path d="M490.8 501.2V506.5M491.6 489.7V499.3M492.0 495.9V509.4" stroke="#d3505e" stroke-width="0.7"/><path d="M490.8 505.2V505.8M491.6 494.0V497.5M492.0 497.5V504.4" stroke="#d3505e" stroke-width="1.1"/><path d="M490.4 505.2V514.1M491.2 494.0V505.6M492.4 499.3V504.4M492.8 497.7V499.3M493.2 496.9V497.7" stroke="#358a73" stroke-width="1.1"/><path d="M494.0 496.8V509.1M494.4 492.3V505.4M495.2 486.6V506.7M495.6 480.6V493.2M496.4 478.7V489.3" stroke="#358a73" stroke-width="0.7"/><path d="M493.6 492.7V506.3M494.8 494.2V501.9M496.0 479.2V491.5" stroke="#d3505e" stroke-width="0.7"/><path d="M494.0 499.4V505.4M494.4 495.0V499.4M495.2 491.9V497.7M495.6 481.7V491.9M496.4 481.8V488.5" stroke="#358a73" stroke-width="1.1"/><path d="M493.6 496.9V505.4M494.8 495.0V497.7M496.0 481.7V488.5" stroke="#d3505e" stroke-width="1.1"/><path d="M497.2 488.7V493.2M497.6 475.6V492.7M498.0 469.0V480.5M498.4 464.5V479.3M498.8 464.9V472.6M499.6 452.1V473.9" stroke="#358a73" stroke-width="0.7"/><path d="M496.8 480.8V495.0M499.2 465.7V473.6" stroke="#d3505e" stroke-width="0.7"/><path d="M496.8 481.8V492.6M499.2 467.6V471.3" stroke="#d3505e" stroke-width="1.1"/><path d="M497.2 492.0V492.6M497.6 478.6V492.0M498.0 474.9V478.6M498.4 469.2V474.9M498.8 467.6V469.2M499.6 456.4V471.3" stroke="#358a73" stroke-width="1.1"/><path d="M500.0 449.2V462.1M500.4 440.9V455.4M502.0 441.2V455.9M502.8 447.2V460.0" stroke="#358a73" stroke-width="0.7"/><path d="M500.8 444.0V453.1M501.2 445.4V457.5M501.6 452.9V455.6M502.4 439.9V458.3" stroke="#d3505e" stroke-width="0.7"/><path d="M500.0 451.2V456.4M500.4 446.7V451.2M502.0 445.8V454.6M502.8 449.8V454.2" stroke="#358a73" stroke-width="1.1"/><path d="M500.8 446.7V449.2M501.2 449.2V453.6M501.6 453.6V454.6M502.4 445.8V454.2" stroke="#d3505e" stroke-width="1.1"/><path d="M504.4 438.7V460.9M505.2 433.2V456.7M505.6 431.6V441.8" stroke="#358a73" stroke-width="0.7"/><path d="M503.2 446.9V452.3M503.6 449.5V455.4M504.0 441.8V465.6M504.8 445.5V454.8M506.0 434.3V442.3" stroke="#d3505e" stroke-width="0.7"/><path d="M503.2 449.8V450.9M503.6 450.9V451.5M504.0 451.2V456.8M504.8 448.5V454.3M506.0 434.6V438.8" stroke="#d3505e" stroke-width="1.1"/><path d="M504.4 448.5V456.8M505.2 438.8V454.3M505.6 434.6V438.8" stroke="#358a73" stroke-width="1.1"/><path d="M506.4 432.0V441.4M506.8 433.3V441.2M507.2 430.0V444.9M508.0 432.9V445.8" stroke="#358a73" stroke-width="0.7"/><path d="M507.6 425.7V447.0M508.4 429.4V439.5M508.8 432.0V443.1M509.2 431.9V450.3" stroke="#d3505e" stroke-width="0.7"/><path d="M506.4 436.3V438.8M506.8 436.0V436.6M507.2 431.8V436.0M508.0 436.4V440.4" stroke="#358a73" stroke-width="1.1"/><path d="M507.6 431.8V440.4M508.4 436.4V437.2M508.8 437.2V438.2M509.2 438.2V447.1" stroke="#d3505e" stroke-width="1.1"/><path d="M510.0 427.9V449.7M510.8 412.4V437.2M511.6 402.6V418.7M512.0 400.0V408.3" stroke="#358a73" stroke-width="0.7"/><path d="M509.6 440.7V451.7M510.4 424.9V438.3M511.2 415.3V421.1M512.4 404.0V416.8" stroke="#d3505e" stroke-width="0.7"/><path d="M509.6 447.1V447.9M510.4 432.2V434.7M511.2 415.7V416.6M512.4 404.5V411.3" stroke="#d3505e" stroke-width="1.1"/><path d="M510.0 432.2V447.9M510.8 415.7V434.7M511.6 408.0V416.6M512.0 404.5V408.0" stroke="#358a73" stroke-width="1.1"/><path d="M512.8 397.1V416.3M513.2 387.4V406.0M514.4 386.4V397.0M515.2 382.1V397.1M515.6 384.3V395.9" stroke="#358a73" stroke-width="0.7"/><path d="M513.6 389.1V400.2M514.0 389.1V395.6M514.8 384.6V396.0" stroke="#d3505e" stroke-width="0.7"/><path d="M512.8 402.5V411.3M513.2 391.4V402.5M514.4 387.8V395.1M515.2 385.4V395.1M515.6 385.4V386.0" stroke="#358a73" stroke-width="1.1"/><path d="M513.6 391.4V392.1M514.0 392.1V395.1M514.8 387.8V395.1" stroke="#d3505e" stroke-width="1.1"/><path d="M516.0 380.0V390.2M516.8 366.3V392.6M517.2 364.3V371.7M517.6 364.1V371.2M518.0 356.4V370.6M518.4 351.4V367.9M518.8 340.1V353.1" stroke="#358a73" stroke-width="0.7"/><path d="M516.4 382.5V392.6" stroke="#d3505e" stroke-width="0.7"/><path d="M516.4 383.9V389.3" stroke="#d3505e" stroke-width="1.1"/><path d="M516.0 383.9V385.4M516.8 371.3V389.3M517.2 368.1V371.3M517.6 366.2V368.1M518.0 359.2V366.2M518.4 351.8V359.2M518.8 340.5V351.8" stroke="#358a73" stroke-width="1.1"/><path d="M519.2 328.4V345.3M519.6 321.1V333.3M520.0 318.4V326.1M520.4 308.7V323.3M520.8 296.3V319.1" stroke="#358a73" stroke-width="0.7"/><path d="M521.2 302.6V316.8M521.6 310.1V322.2M522.0 319.2V353.6" stroke="#d3505e" stroke-width="0.7"/><path d="M519.2 330.7V340.5M519.6 322.0V330.7M520.0 319.4V322.0M520.4 314.6V319.4M520.8 309.7V314.6" stroke="#358a73" stroke-width="1.1"/><path d="M521.2 309.7V311.8M521.6 311.8V319.7M522.0 319.7V330.1" stroke="#d3505e" stroke-width="1.1"/><path d="M522.4 311.7V332.8M522.8 304.7V322.3M523.2 304.1V312.0M524.4 307.1V318.9" stroke="#358a73" stroke-width="0.7"/><path d="M523.6 300.8V320.2M524.0 314.2V318.3M524.8 308.0V327.7M525.2 324.3V340.6" stroke="#d3505e" stroke-width="0.7"/><path d="M523.6 304.9V315.1M524.0 315.1V316.1M524.8 314.2V327.4M525.2 327.4V337.5" stroke="#d3505e" stroke-width="1.1"/><path d="M522.4 321.3V330.1M522.8 308.7V321.3M523.2 304.9V308.7M524.4 314.2V316.1" stroke="#358a73" stroke-width="1.1"/><path d="M525.6 326.2V339.9M526.0 332.2V338.7M526.8 329.8V344.5M527.6 333.8V345.0" stroke="#358a73" stroke-width="0.7"/><path d="M526.4 331.7V362.7M527.2 333.9V345.1M528.0 332.9V346.4M528.4 343.4V351.8" stroke="#d3505e" stroke-width="0.7"/><path d="M525.6 333.4V337.5M526.0 333.3V333.9M526.8 335.7V341.0M527.6 335.1V343.2" stroke="#358a73" stroke-width="1.1"/><path d="M526.4 333.3V341.0M527.2 335.7V343.2M528.0 335.1V346.3M528.4 346.3V348.5" stroke="#d3505e" stroke-width="1.1"/><path d="M528.8 334.9V356.3M529.6 332.0V341.8M530.0 334.4V340.7M530.8 316.6V338.9M531.2 307.8V320.8M531.6 297.8V313.4" stroke="#358a73" stroke-width="0.7"/><path d="M529.2 337.9V342.0M530.4 334.0V341.2" stroke="#d3505e" stroke-width="0.7"/><path d="M529.2 339.1V339.9M530.4 335.3V336.9" stroke="#d3505e" stroke-width="1.1"/><path d="M528.8 339.1V348.5M529.6 337.1V339.9M530.0 335.3V337.1M530.8 317.6V336.9M531.2 308.8V317.6M531.6 300.7V308.8" stroke="#358a73" stroke-width="1.1"/><path d="M532.0 296.7V307.6M532.8 284.1V308.1M533.2 279.5V293.7M533.6 270.3V281.7M534.0 263.1V275.2M534.4 251.5V272.9M534.8 254.9V261.3" stroke="#358a73" stroke-width="0.7"/><path d="M532.4 292.3V301.8" stroke="#d3505e" stroke-width="0.7"/><path d="M532.0 298.0V300.7M532.8 289.1V301.2M533.2 280.9V289.1M533.6 273.3V280.9M534.0 267.5V273.3M534.4 260.0V267.5M534.8 256.0V260.0" stroke="#358a73" stroke-width="1.1"/><path d="M532.4 298.0V301.2" stroke="#d3505e" stroke-width="1.1"/><path d="M535.6 254.3V261.5M536.0 248.8V259.7M536.4 242.8V252.7M537.2 237.5V256.6" stroke="#358a73" stroke-width="0.7"/><path d="M535.2 249.2V261.9M536.8 239.2V257.2M537.6 238.1V247.0M538.0 236.4V251.1" stroke="#d3505e" stroke-width="0.7"/><path d="M535.2 256.0V258.1M536.8 244.8V250.6M537.6 240.1V243.1M538.0 243.1V248.9" stroke="#d3505e" stroke-width="1.1"/><path d="M535.6 256.5V258.1M536.0 251.6V256.5M536.4 244.8V251.6M537.2 240.1V250.6" stroke="#358a73" stroke-width="1.1"/><path d="M538.4 235.7V250.8M538.8 239.5V250.6M540.4 261.6V267.7" stroke="#358a73" stroke-width="0.7"/><path d="M539.2 240.0V243.2M539.6 237.8V246.6M540.0 237.6V263.8M540.8 255.2V266.5M541.2 260.6V291.6" stroke="#d3505e" stroke-width="0.7"/><path d="M538.4 243.6V248.9M538.8 240.3V243.6M540.4 263.0V263.6" stroke="#358a73" stroke-width="1.1"/><path d="M539.2 240.3V240.9M539.6 240.8V246.2M540.0 246.2V263.2M540.8 263.0V265.1M541.2 265.1V279.0" stroke="#d3505e" stroke-width="1.1"/><path d="M542.0 265.3V287.3M542.4 265.7V275.6M542.8 258.2V269.1M543.2 251.1V264.4M544.0 247.7V257.9" stroke="#358a73" stroke-width="0.7"/><path d="M541.6 274.7V283.1M543.6 251.5V259.0M544.4 246.6V257.7" stroke="#d3505e" stroke-width="0.7"/><path d="M541.6 279.0V281.5M543.6 254.7V257.6M544.4 252.4V254.1" stroke="#d3505e" stroke-width="1.1"/><path d="M542.0 271.8V281.5M542.4 267.5V271.8M542.8 263.9V267.5M543.2 254.7V263.9M544.0 252.4V257.6" stroke="#358a73" stroke-width="1.1"/><path d="M544.8 244.5V259.9M545.6 251.8V257.5M546.0 240.3V257.7M546.3 226.5V246.9M547.1 227.7V246.4" stroke="#358a73" stroke-width="0.7"/><path d="M545.2 234.9V265.2M546.7 230.2V244.7M547.5 229.9V244.4" stroke="#d3505e" stroke-width="0.7"/><path d="M544.8 244.8V254.1M545.6 254.6V255.8M546.0 242.3V254.6M546.3 235.0V242.3M547.1 230.6V240.8" stroke="#358a73" stroke-width="1.1"/><path d="M545.2 244.8V255.8M546.7 235.0V240.8M547.5 230.6V242.5" stroke="#d3505e" stroke-width="1.1"/><path d="M549.1 249.7V261.4M549.5 241.5V257.2M550.7 249.0V259.4" stroke="#358a73" stroke-width="0.7"/><path d="M547.9 242.4V248.9M548.3 246.7V253.5M548.7 247.6V259.3M549.9 244.4V254.8M550.3 252.3V263.7" stroke="#d3505e" stroke-width="0.7"/><path d="M547.9 242.5V247.2M548.3 247.2V250.4M548.7 250.4V255.7M549.9 247.2V253.1M550.3 253.1V256.1" stroke="#d3505e" stroke-width="1.1"/><path d="M549.1 250.1V255.7M549.5 247.2V250.1M550.7 249.3V256.1" stroke="#358a73" stroke-width="1.1"/><path d="M551.9 247.4V263.2M552.3 241.7V251.9M552.7 237.4V245.4M553.5 236.5V257.1M553.9 240.1V250.4" stroke="#358a73" stroke-width="0.7"/><path d="M551.1 246.3V263.0M551.5 254.2V261.6M553.1 238.6V258.8" stroke="#d3505e" stroke-width="0.7"/><path d="M551.9 250.8V259.5M552.3 244.6V250.8M552.7 241.3V244.6M553.5 248.0V252.3M553.9 244.1V248.0" stroke="#358a73" stroke-width="1.1"/><path d="M551.1 249.3V258.0M551.5 258.0V259.5M553.1 241.3V252.3" stroke="#d3505e" stroke-width="1.1"/><path d="M555.1 245.9V249.8M555.5 234.0V249.4M555.9 232.3V239.8M557.1 223.5V240.6" stroke="#358a73" stroke-width="0.7"/><path d="M554.3 234.3V245.6M554.7 243.3V250.5M556.3 232.3V237.5M556.7 229.7V237.6" stroke="#d3505e" stroke-width="0.7"/><path d="M554.3 244.1V244.7M554.7 244.6V248.2M556.3 234.2V235.4M556.7 235.4V237.3" stroke="#d3505e" stroke-width="1.1"/><path d="M555.1 246.8V248.2M555.5 238.7V246.8M555.9 234.2V238.7M557.1 226.8V237.3" stroke="#358a73" stroke-width="1.1"/><path d="M557.5 217.7V230.3M558.3 217.8V232.9M559.5 217.6V222.1" stroke="#358a73" stroke-width="0.7"/><path d="M557.9 220.7V227.7M558.7 217.4V225.3M559.1 216.6V221.0M559.9 217.4V231.6M560.3 226.7V245.9" stroke="#d3505e" stroke-width="0.7"/><path d="M557.5 222.9V226.8M558.3 218.6V227.3M559.5 220.5V221.1" stroke="#358a73" stroke-width="1.1"/><path d="M557.9 222.9V227.3M558.7 218.6V219.9M559.1 219.9V220.8M559.9 220.5V226.7M560.3 226.7V241.7" stroke="#d3505e" stroke-width="1.1"/><path d="M560.7 240.4V249.3M561.5 239.6V248.8M562.3 256.8V260.9M563.1 266.9V275.7" stroke="#358a73" stroke-width="0.7"/><path d="M561.1 239.8V244.4M561.9 239.4V260.8M562.7 255.6V275.5M563.5 264.9V275.6" stroke="#d3505e" stroke-width="0.7"/><path d="M561.1 240.8V243.9M561.9 240.0V258.3M562.7 258.2V272.3M563.5 268.6V274.1" stroke="#d3505e" stroke-width="1.1"/><path d="M560.7 240.8V241.7M561.5 240.0V243.9M562.3 258.2V258.8M563.1 268.6V272.3" stroke="#358a73" stroke-width="1.1"/><path d="M563.9 270.3V275.6M564.3 268.8V274.7M564.7 253.7V276.5M565.5 242.4V256.9M565.9 236.6V245.7M566.3 233.1V241.8" stroke="#358a73" stroke-width="0.7"/><path d="M565.1 251.8V259.3M566.7 231.3V236.3" stroke="#d3505e" stroke-width="0.7"/><path d="M563.9 274.0V274.6M564.3 273.2V274.0M564.7 254.5V273.2M565.5 243.0V255.4M565.9 241.6V243.0M566.3 233.8V241.6" stroke="#358a73" stroke-width="1.1"/><path d="M565.1 254.5V255.4M566.7 233.8V236.1" stroke="#d3505e" stroke-width="1.1"/><path d="M567.5 237.1V250.2M568.7 231.7V252.1M569.1 236.8V248.3M569.5 234.1V241.3" stroke="#358a73" stroke-width="0.7"/><path d="M567.1 234.5V253.7M567.9 235.6V242.6M568.3 234.2V244.0M569.9 236.9V246.8" stroke="#d3505e" stroke-width="0.7"/><path d="M567.1 236.1V246.0M567.9 237.4V238.0M568.3 237.7V243.7M569.9 237.7V246.6" stroke="#d3505e" stroke-width="1.1"/><path d="M567.5 237.4V246.0M568.7 240.4V243.7M569.1 240.0V240.6M569.5 237.7V240.0" stroke="#358a73" stroke-width="1.1"/><path d="M570.3 237.5V261.1M570.7 259.2V270.6M571.1 262.8V278.2M571.5 271.9V292.5M571.9 288.4V301.8M572.3 292.8V302.6M572.7 292.4V306.5M573.1 292.5V356.6" stroke="#d3505e" stroke-width="0.7"/><path d="M570.3 246.6V259.6M570.7 259.6V269.4M571.1 269.4V276.6M571.5 276.6V289.7M571.9 289.7V297.6M572.3 297.6V299.7M572.7 299.7V302.1M573.1 302.1V320.8" stroke="#d3505e" stroke-width="1.1"/><path d="M573.5 309.3V324.9M574.3 305.1V327.0M574.7 307.4V315.2M575.5 305.2V326.8M575.9 303.1V314.5" stroke="#358a73" stroke-width="0.7"/><path d="M573.9 308.7V326.7M575.1 303.2V324.2M576.3 301.5V316.6" stroke="#d3505e" stroke-width="0.7"/><path d="M573.9 309.7V317.8M575.1 307.6V320.4M576.3 306.4V314.3" stroke="#d3505e" stroke-width="1.1"/><path d="M573.5 309.7V320.8M574.3 313.7V317.8M574.7 307.6V313.7M575.5 309.7V320.4M575.9 306.4V309.7" stroke="#358a73" stroke-width="1.1"/><path d="M578.3 319.3V335.9M579.1 333.8V343.6M579.5 328.8V342.0" stroke="#358a73" stroke-width="0.7"/><path d="M576.7 312.8V324.9M577.1 318.9V324.4M577.5 311.1V323.7M577.9 321.3V336.7M578.7 323.6V338.2" stroke="#d3505e" stroke-width="0.7"/><path d="M578.3 327.7V334.8M579.1 335.1V336.5M579.5 334.1V335.1" stroke="#358a73" stroke-width="1.1"/><path d="M576.7 314.3V320.2M577.1 320.2V320.8M577.5 320.2V323.2M577.9 323.2V334.8M578.7 327.7V336.5" stroke="#d3505e" stroke-width="1.1"/><path d="M580.7 326.0V342.4M581.5 334.8V351.0M581.9 331.9V338.5M582.3 326.7V337.7M582.7 313.7V331.6" stroke="#358a73" stroke-width="0.7"/><path d="M579.9 330.4V340.5M580.3 331.8V339.4M581.1 326.6V350.7" stroke="#d3505e" stroke-width="0.7"/><path d="M579.9 334.1V334.8M580.3 334.8V338.6M581.1 330.8V343.5" stroke="#d3505e" stroke-width="1.1"/><path d="M580.7 330.8V338.6M581.5 336.9V343.5M581.9 332.3V336.9M582.3 327.9V332.3M582.7 317.9V327.9" stroke="#358a73" stroke-width="1.1"/><path d="M583.1 298.5V322.6M583.5 297.9V318.1M584.3 298.5V308.0" stroke="#358a73" stroke-width="0.7"/><path d="M583.9 298.9V310.8M584.7 298.4V305.5M585.1 304.8V319.9M585.5 311.7V325.1M585.9 322.0V328.5" stroke="#d3505e" stroke-width="0.7"/><path d="M583.1 308.5V317.9M583.5 302.8V308.5M584.3 300.0V303.9" stroke="#358a73" stroke-width="1.1"/><path d="M583.9 302.8V303.9M584.7 300.0V305.3M585.1 305.3V316.0M585.5 316.0V323.4M585.9 323.4V324.0" stroke="#d3505e" stroke-width="1.1"/><path d="M586.7 336.3V364.0M587.1 334.0V340.0M588.3 338.9V349.6M588.7 340.3V344.5" stroke="#358a73" stroke-width="0.7"/><path d="M586.3 318.0V339.5M587.5 331.6V353.4M587.9 342.0V349.7M589.1 336.9V350.0" stroke="#d3505e" stroke-width="0.7"/><path d="M586.3 323.4V339.1M587.5 336.3V343.4M587.9 343.4V346.5M589.1 342.8V348.1" stroke="#d3505e" stroke-width="1.1"/><path d="M586.7 337.5V339.1M587.1 336.3V337.5M588.3 343.7V346.5M588.7 342.8V343.7" stroke="#358a73" stroke-width="1.1"/><path d="M589.5 342.1V357.1M589.9 340.9V349.2M590.3 339.7V349.2M590.7 337.3V344.4M591.5 326.1V340.2M592.3 331.4V334.3" stroke="#358a73" stroke-width="0.7"/><path d="M591.1 338.9V341.9M591.9 326.0V336.1" stroke="#d3505e" stroke-width="0.7"/><path d="M589.5 344.9V348.1M589.9 342.4V344.9M590.3 341.0V342.4M590.7 340.0V341.0M591.5 327.9V340.1M592.3 332.6V333.3" stroke="#358a73" stroke-width="1.1"/><path d="M591.1 340.0V340.6M591.9 327.9V333.3" stroke="#d3505e" stroke-width="1.1"/><path d="M592.7 327.3V333.7M594.7 326.7V342.7M595.5 330.7V349.0" stroke="#358a73" stroke-width="0.7"/><path d="M593.1 327.7V334.3M593.5 328.9V336.1M593.9 333.9V342.2M594.3 337.9V344.9M595.1 325.3V352.0" stroke="#d3505e" stroke-width="0.7"/><path d="M593.1 329.8V333.5M593.5 333.5V335.1M593.9 335.1V338.3M594.3 338.3V341.3M595.1 327.4V348.0" stroke="#d3505e" stroke-width="1.1"/><path d="M592.7 329.8V332.6M594.7 327.4V341.3M595.5 342.3V348.0" stroke="#358a73" stroke-width="1.1"/><path d="M596.3 342.6V352.8M597.9 348.8V360.9M598.7 345.4V360.4" stroke="#358a73" stroke-width="0.7"/><path d="M595.9 339.5V347.7M596.7 335.2V354.5M597.1 350.2V360.9M597.5 349.1V361.3M598.3 346.3V361.1" stroke="#d3505e" stroke-width="0.7"/><path d="M596.3 343.8V347.0M597.9 350.3V357.0M598.7 345.4V358.9" stroke="#358a73" stroke-width="1.1"/><path d="M595.9 342.3V347.0M596.7 343.8V351.8M597.1 351.8V356.9M597.5 356.9V357.5M598.3 350.3V358.9" stroke="#d3505e" stroke-width="1.1"/><path d="M599.1 334.5V347.8M599.5 327.7V341.5M599.9 324.7V336.6M600.3 322.0V328.1M600.7 315.1V323.7M601.1 303.6V319.8M601.5 300.6V314.8" stroke="#358a73" stroke-width="0.7"/><path d="M601.9 299.1V309.5" stroke="#d3505e" stroke-width="0.7"/><path d="M601.9 302.6V307.1" stroke="#d3505e" stroke-width="1.1"/><path d="M599.1 340.1V345.4M599.5 336.3V340.1M599.9 325.3V336.3M600.3 323.6V325.3M600.7 317.6V323.6M601.1 306.7V317.6M601.5 302.6V306.7" stroke="#358a73" stroke-width="1.1"/><path d="M602.3 289.9V308.4M602.7 289.8V302.5M603.5 278.0V296.3M604.3 284.6V297.2M604.7 275.1V291.8" stroke="#358a73" stroke-width="0.7"/><path d="M603.1 293.7V300.2M603.9 277.0V294.4M605.1 279.1V287.2" stroke="#d3505e" stroke-width="0.7"/><path d="M602.3 297.2V307.1M602.7 294.8V297.2M603.5 282.7V296.0M604.3 287.7V291.8M604.7 282.1V287.7" stroke="#358a73" stroke-width="1.1"/><path d="M603.1 294.8V296.0M603.9 282.7V291.8M605.1 282.1V282.9" stroke="#d3505e" stroke-width="1.1"/><path d="M605.9 276.9V297.3M607.1 287.6V292.9M607.5 275.7V290.2M607.9 272.4V280.4" stroke="#358a73" stroke-width="0.7"/><path d="M605.5 281.7V292.8M606.3 280.8V287.7M606.7 279.0V295.4M608.3 274.9V282.7" stroke="#d3505e" stroke-width="0.7"/><path d="M605.5 282.9V292.2M606.3 281.4V282.0M606.7 281.8V290.5M608.3 275.1V278.7" stroke="#d3505e" stroke-width="1.1"/><path d="M605.9 281.4V292.2M607.1 289.3V290.5M607.5 275.9V289.3M607.9 275.1V275.9" stroke="#358a73" stroke-width="1.1"/><path d="M608.7 275.4V283.8M609.1 273.8V284.0M609.9 275.7V283.0M610.3 265.4V282.2M611.5 262.6V282.9" stroke="#358a73" stroke-width="0.7"/><path d="M609.5 271.2V284.1M610.7 265.0V274.7M611.1 269.4V283.9" stroke="#d3505e" stroke-width="0.7"/><path d="M608.7 278.1V278.7M609.1 274.0V278.1M609.9 278.2V278.8M610.3 267.5V278.2M611.5 278.2V281.9" stroke="#358a73" stroke-width="1.1"/><path d="M609.5 274.0V278.7M610.7 267.5V273.9M611.1 273.9V281.9" stroke="#d3505e" stroke-width="1.1"/><path d="M612.7 276.9V282.6M613.5 273.4V283.9M613.9 265.0V275.2" stroke="#358a73" stroke-width="0.7"/><path d="M611.9 276.2V283.8M612.3 279.4V283.7M613.1 273.2V283.0M614.3 262.0V277.0M614.7 267.7V280.3" stroke="#d3505e" stroke-width="0.7"/><path d="M611.9 278.2V281.3M612.3 281.3V281.9M613.1 277.0V277.7M614.3 265.1V272.2M614.7 272.2V273.3" stroke="#d3505e" stroke-width="1.1"/><path d="M612.7 277.0V281.8M613.5 275.0V277.7M613.9 265.1V275.0" stroke="#358a73" stroke-width="1.1"/><path d="M615.5 260.1V283.1M615.9 261.9V276.1M616.7 262.9V271.0M617.1 254.3V269.9" stroke="#358a73" stroke-width="0.7"/><path d="M615.1 272.7V278.2M616.3 263.9V273.8M617.5 254.2V291.6M617.9 269.7V283.2" stroke="#d3505e" stroke-width="0.7"/><path d="M615.5 268.5V276.8M615.9 264.8V268.5M616.7 265.9V267.0M617.1 260.8V265.9" stroke="#358a73" stroke-width="1.1"/><path d="M615.1 273.3V276.8M616.3 264.8V267.0M617.5 260.8V277.0M617.9 277.0V281.2" stroke="#d3505e" stroke-width="1.1"/><path d="M618.7 271.9V285.0M619.9 274.3V281.7M620.3 271.2V279.3M620.7 261.6V275.5" stroke="#358a73" stroke-width="0.7"/><path d="M618.3 277.9V287.6M619.1 273.0V280.8M619.5 275.4V285.7M621.1 262.4V268.8" stroke="#d3505e" stroke-width="0.7"/><path d="M618.3 281.2V281.8M619.1 273.3V278.3M619.5 278.3V278.9M621.1 264.4V266.6" stroke="#d3505e" stroke-width="1.1"/><path d="M618.7 273.3V281.5M619.9 275.2V278.5M620.3 272.4V275.2M620.7 264.4V272.4" stroke="#358a73" stroke-width="1.1"/><path d="M621.5 261.5V270.9" stroke="#358a73" stroke-width="0.7"/><path d="M621.9 261.9V270.6" stroke="#d3505e" stroke-width="0.7"/><path d="M621.5 265.1V266.6" stroke="#358a73" stroke-width="1.1"/><path d="M621.9 265.1V270.2" stroke="#d3505e" stroke-width="1.1"/></g></g>
<g clip-path="url(#cr)"><g fill="none"><path d="M680.2 768.0V772.0M680.5 714.5V771.8M680.8 715.7V737.3M681.1 703.4V728.9M681.3 706.9V716.8M681.6 700.9V708.2M682.2 683.8V713.0" stroke="#3a9480" stroke-width="0.7"/><path d="M681.9 700.4V711.1" stroke="#dc5a68" stroke-width="0.7"/><path d="M680.2 768.0V772.5M680.5 733.6V768.0M680.8 722.7V733.6M681.1 714.1V722.7M681.3 708.0V714.1M681.6 703.8V708.0M682.2 701.2V708.2" stroke="#3a9480" stroke-width="0.9"/><path d="M681.9 703.8V708.2" stroke="#dc5a68" stroke-width="0.9"/><path d="M682.7 717.7V732.1M683.0 707.4V725.2M683.3 701.2V712.1M683.8 695.0V721.4M684.1 699.7V701.4M684.3 694.0V702.9" stroke="#3a9480" stroke-width="0.7"/><path d="M682.4 698.9V761.4M683.5 689.4V721.6" stroke="#dc5a68" stroke-width="0.7"/><path d="M682.4 701.2V729.5M683.5 704.1V715.1" stroke="#dc5a68" stroke-width="0.9"/><path d="M682.7 722.0V729.5M683.0 711.5V722.0M683.3 704.1V711.5M683.8 701.4V715.1M684.1 701.0V701.6M684.3 696.6V701.0" stroke="#3a9480" stroke-width="0.9"/><path d="M684.6 689.5V703.2M685.7 720.5V731.9M686.0 718.4V724.7M686.3 708.2V728.9M686.5 700.5V716.6" stroke="#3a9480" stroke-width="0.7"/><path d="M684.9 686.7V704.6M685.2 701.3V731.9M685.4 722.7V732.7" stroke="#dc5a68" stroke-width="0.7"/><path d="M684.6 692.2V696.6M685.7 723.0V727.9M686.0 721.5V723.0M686.3 716.5V721.5M686.5 704.0V716.5" stroke="#3a9480" stroke-width="0.9"/><path d="M684.9 692.2V702.2M685.2 702.2V725.3M685.4 725.3V727.9" stroke="#dc5a68" stroke-width="0.9"/><path d="M686.8 687.6V711.9M687.4 685.3V705.2M687.6 681.7V690.2M688.2 673.5V695.3M688.4 653.0V688.7M688.7 651.5V667.8" stroke="#3a9480" stroke-width="0.7"/><path d="M687.1 685.0V700.6M687.9 682.4V697.9" stroke="#dc5a68" stroke-width="0.7"/><path d="M687.1 692.3V699.6M687.9 685.7V692.2" stroke="#dc5a68" stroke-width="0.9"/><path d="M686.8 692.3V704.0M687.4 689.1V699.6M687.6 685.7V689.1M688.2 687.2V692.2M688.4 662.1V687.2M688.7 658.1V662.1" stroke="#3a9480" stroke-width="0.9"/><path d="M689.0 635.4V663.1M689.3 632.6V639.4M690.6 637.7V648.6" stroke="#3a9480" stroke-width="0.7"/><path d="M689.5 634.7V640.8M689.8 634.2V646.5M690.1 636.1V657.2M690.4 643.2V654.4M690.9 631.3V663.9" stroke="#dc5a68" stroke-width="0.7"/><path d="M689.0 638.0V658.1M689.3 636.0V638.0M690.6 638.7V653.4" stroke="#3a9480" stroke-width="0.9"/><path d="M689.5 636.0V639.6M689.8 639.6V641.5M690.1 641.5V652.9M690.4 652.9V653.5M690.9 638.7V652.1" stroke="#dc5a68" stroke-width="0.9"/><path d="M691.2 637.8V659.4M691.7 633.5V650.2M692.0 615.8V644.4M692.5 612.8V632.1M693.1 617.8V632.9" stroke="#3a9480" stroke-width="0.7"/><path d="M691.5 637.0V648.3M692.3 615.3V630.2M692.8 609.0V628.3" stroke="#dc5a68" stroke-width="0.7"/><path d="M691.5 643.6V645.1M692.3 616.0V628.2M692.8 616.8V626.5" stroke="#dc5a68" stroke-width="0.9"/><path d="M691.2 643.6V652.1M691.7 635.0V645.1M692.0 616.0V635.0M692.5 616.8V628.2M693.1 618.7V626.5" stroke="#3a9480" stroke-width="0.9"/><path d="M693.4 604.7V628.1M694.7 633.3V664.9" stroke="#3a9480" stroke-width="0.7"/><path d="M693.6 617.6V627.1M693.9 618.4V646.9M694.2 640.4V680.9M694.5 655.0V664.9M695.0 638.5V647.2M695.3 640.8V656.6" stroke="#dc5a68" stroke-width="0.7"/><path d="M693.4 618.2V618.8M694.7 639.3V661.4" stroke="#3a9480" stroke-width="0.9"/><path d="M693.6 618.2V625.4M693.9 625.4V644.1M694.2 644.1V658.4M694.5 658.4V661.4M695.0 639.3V643.4M695.3 643.4V652.6" stroke="#dc5a68" stroke-width="0.9"/><path d="M695.6 634.8V655.8M696.1 627.5V648.0M696.6 628.7V639.1M697.2 627.1V647.1" stroke="#3a9480" stroke-width="0.7"/><path d="M695.8 635.2V651.1M696.4 621.6V637.0M696.9 631.3V643.1M697.5 630.0V637.8" stroke="#dc5a68" stroke-width="0.7"/><path d="M695.8 641.8V643.6M696.4 630.1V636.7M696.9 632.8V638.2M697.5 630.9V635.3" stroke="#dc5a68" stroke-width="0.9"/><path d="M695.6 641.8V652.6M696.1 630.1V643.6M696.6 632.8V636.7M697.2 630.9V638.2" stroke="#3a9480" stroke-width="0.9"/><path d="M697.7 617.7V637.3M698.0 614.0V621.2M698.3 614.1V625.1M698.6 607.7V617.5M699.7 623.2V642.9" stroke="#3a9480" stroke-width="0.7"/><path d="M698.8 607.2V621.7M699.1 616.7V622.1M699.4 614.7V639.7" stroke="#dc5a68" stroke-width="0.7"/><path d="M697.7 621.2V635.3M698.0 619.2V621.2M698.3 617.0V619.2M698.6 612.0V617.0M699.7 623.4V630.2" stroke="#3a9480" stroke-width="0.9"/><path d="M698.8 612.0V617.8M699.1 617.8V618.4M699.4 618.2V630.2" stroke="#dc5a68" stroke-width="0.9"/><path d="M699.9 609.7V627.2M701.0 614.3V632.9" stroke="#3a9480" stroke-width="0.7"/><path d="M700.2 616.8V622.0M700.5 619.4V635.2M700.7 624.1V630.5M701.3 617.9V626.0M701.6 618.6V640.7M701.8 632.4V649.0" stroke="#dc5a68" stroke-width="0.7"/><path d="M700.2 619.7V620.7M700.5 620.7V625.1M700.7 625.1V628.7M701.3 619.8V623.4M701.6 623.4V633.9M701.8 633.9V641.8" stroke="#dc5a68" stroke-width="0.9"/><path d="M699.9 619.7V623.4M701.0 619.8V628.7" stroke="#3a9480" stroke-width="0.9"/><path d="M702.4 639.8V658.5M702.9 641.3V659.4M703.2 637.5V652.6M703.5 640.3V643.7M703.8 618.9V651.6M704.0 610.2V631.6" stroke="#3a9480" stroke-width="0.7"/><path d="M702.1 638.9V656.4M702.7 638.0V658.2" stroke="#dc5a68" stroke-width="0.7"/><path d="M702.4 645.7V651.6M702.9 644.4V655.9M703.2 642.9V644.4M703.5 641.1V642.9M703.8 630.4V641.1M704.0 619.1V630.4" stroke="#3a9480" stroke-width="0.9"/><path d="M702.1 641.8V651.6M702.7 645.7V655.9" stroke="#dc5a68" stroke-width="0.9"/><path d="M704.3 614.2V620.2M704.6 602.9V619.8M704.8 594.9V609.7M705.4 589.7V602.5M705.7 586.8V597.2M705.9 587.7V593.9M706.2 588.5V594.1" stroke="#3a9480" stroke-width="0.7"/><path d="M705.1 593.4V604.9" stroke="#dc5a68" stroke-width="0.7"/><path d="M705.1 598.7V600.5" stroke="#dc5a68" stroke-width="0.9"/><path d="M704.3 616.9V619.1M704.6 606.7V616.9M704.8 598.7V606.7M705.4 595.0V600.5M705.7 592.7V595.0M705.9 592.7V593.3M706.2 589.3V592.7" stroke="#3a9480" stroke-width="0.9"/><path d="M706.5 583.2V594.1M706.8 585.4V591.7M707.6 569.5V590.1M707.8 564.7V578.7M708.1 563.4V572.3" stroke="#3a9480" stroke-width="0.7"/><path d="M707.0 580.8V590.5M707.3 583.5V599.4M708.4 562.0V579.3" stroke="#dc5a68" stroke-width="0.7"/><path d="M706.5 587.7V589.3M706.8 586.7V587.7M707.6 574.3V588.3M707.8 567.5V574.3M708.1 564.4V567.5" stroke="#3a9480" stroke-width="0.9"/><path d="M707.0 586.7V587.3M707.3 586.9V588.3M708.4 564.4V569.2" stroke="#dc5a68" stroke-width="0.9"/><path d="M709.8 581.1V592.5M710.0 576.9V588.1M710.3 569.4V586.4M710.6 578.1V583.6" stroke="#3a9480" stroke-width="0.7"/><path d="M708.7 564.3V578.7M708.9 570.0V608.5M709.2 584.1V588.2M709.5 576.0V594.9" stroke="#dc5a68" stroke-width="0.7"/><path d="M708.7 569.2V576.4M708.9 576.4V584.5M709.2 584.5V585.5M709.5 585.5V589.8" stroke="#dc5a68" stroke-width="0.9"/><path d="M709.8 582.1V589.8M710.0 580.5V582.1M710.3 578.5V580.5M710.6 578.3V578.9" stroke="#3a9480" stroke-width="0.9"/><path d="M710.9 573.6V579.6M711.4 552.5V576.3M711.7 543.1V558.5M711.9 543.9V552.2M712.2 536.6V545.9M712.5 524.4V540.2M712.8 509.2V536.1" stroke="#3a9480" stroke-width="0.7"/><path d="M711.1 571.6V575.1" stroke="#dc5a68" stroke-width="0.7"/><path d="M710.9 573.6V578.3M711.4 554.5V574.4M711.7 551.9V554.5M711.9 545.0V551.9M712.2 536.6V545.0M712.5 530.7V536.6M712.8 510.2V530.7" stroke="#3a9480" stroke-width="0.9"/><path d="M711.1 573.6V574.4" stroke="#dc5a68" stroke-width="0.9"/><path d="M713.0 491.9V513.7M713.3 488.4V505.7M713.9 474.7V498.1M714.1 468.0V484.3M715.0 462.7V479.6" stroke="#3a9480" stroke-width="0.7"/><path d="M713.6 487.5V500.8M714.4 461.8V476.8M714.7 466.7V477.3" stroke="#dc5a68" stroke-width="0.7"/><path d="M713.6 489.5V497.3M714.4 469.0V469.7M714.7 469.7V477.2" stroke="#dc5a68" stroke-width="0.9"/><path d="M713.0 498.7V510.2M713.3 489.5V498.7M713.9 477.4V497.3M714.1 469.0V477.4M715.0 469.9V477.2" stroke="#3a9480" stroke-width="0.9"/><path d="M715.2 466.3V492.4M715.5 458.4V492.4M715.8 486.9V511.7M716.0 493.5V515.5M716.3 503.0V538.3M716.6 535.4V546.5M716.9 538.3V548.7M717.1 544.0V564.9" stroke="#dc5a68" stroke-width="0.7"/><path d="M715.2 469.9V487.6M715.5 487.6V491.0M715.8 491.0V496.9M716.0 496.9V509.5M716.3 509.5V537.1M716.6 537.1V540.1M716.9 540.1V544.6M717.1 544.6V559.2" stroke="#dc5a68" stroke-width="0.9"/><path d="M718.0 582.0V590.7M718.5 584.7V636.3M719.1 575.1V601.2" stroke="#3a9480" stroke-width="0.7"/><path d="M717.4 554.2V618.3M717.7 573.4V589.1M718.2 575.8V592.1M718.8 588.0V597.3M719.3 579.9V584.6" stroke="#dc5a68" stroke-width="0.7"/><path d="M717.4 559.2V575.0M717.7 575.0V586.8M718.2 585.4V588.9M718.8 588.2V592.7M719.3 582.4V584.5" stroke="#dc5a68" stroke-width="0.9"/><path d="M718.0 585.4V586.8M718.5 588.2V588.9M719.1 582.4V592.7" stroke="#3a9480" stroke-width="0.9"/><path d="M719.6 571.7V592.0M719.9 565.3V577.2M720.1 554.5V583.6M720.4 561.2V566.3M720.7 551.2V562.7M721.0 549.7V557.4M721.2 539.4V556.4M721.5 535.9V548.7" stroke="#3a9480" stroke-width="0.7"/><path d="M719.6 574.7V584.5M719.9 571.4V574.7M720.1 564.2V571.4M720.4 561.4V564.2M720.7 553.0V561.4M721.0 550.4V553.0M721.2 546.2V550.4M721.5 545.2V546.2" stroke="#3a9480" stroke-width="0.9"/><path d="M722.1 545.7V554.6M722.6 547.4V563.0M723.2 548.7V563.5" stroke="#3a9480" stroke-width="0.7"/><path d="M721.8 544.9V564.6M722.3 541.8V564.2M722.9 547.7V558.7M723.4 549.4V558.8M723.7 553.3V571.3" stroke="#dc5a68" stroke-width="0.7"/><path d="M721.8 545.2V552.5M722.3 547.9V558.9M722.9 548.3V554.1M723.4 552.2V558.2M723.7 558.2V565.2" stroke="#dc5a68" stroke-width="0.9"/><path d="M722.1 547.9V552.5M722.6 548.3V558.9M723.2 552.2V554.1" stroke="#3a9480" stroke-width="0.9"/><path d="M725.3 600.5V613.3M725.6 597.8V612.7" stroke="#3a9480" stroke-width="0.7"/><path d="M724.0 561.9V574.6M724.2 570.8V582.8M724.5 572.9V593.2M724.8 584.9V604.7M725.1 599.0V610.5M725.9 598.3V611.4" stroke="#dc5a68" stroke-width="0.7"/><path d="M725.3 604.7V605.7M725.6 600.8V604.7" stroke="#3a9480" stroke-width="0.9"/><path d="M724.0 565.2V572.9M724.2 572.9V579.0M724.5 579.0V591.5M724.8 591.5V599.1M725.1 599.1V605.7M725.9 600.8V608.1" stroke="#dc5a68" stroke-width="0.9"/><path d="M726.7 610.3V639.6M727.0 602.1V619.3M727.5 601.7V620.4M728.1 614.3V629.1" stroke="#3a9480" stroke-width="0.7"/><path d="M726.2 604.5V618.3M726.4 613.7V620.6M727.3 606.4V622.2M727.8 605.0V620.7" stroke="#dc5a68" stroke-width="0.7"/><path d="M726.2 608.1V616.6M726.4 616.6V618.4M727.3 609.2V618.3M727.8 606.3V618.8" stroke="#dc5a68" stroke-width="0.9"/><path d="M726.7 616.3V618.4M727.0 609.2V616.3M727.5 606.3V618.3M728.1 614.8V618.8" stroke="#3a9480" stroke-width="0.9"/><path d="M728.3 610.5V615.9M728.6 606.2V612.4M729.2 606.8V613.0M729.4 600.4V613.1M729.7 593.8V603.4M730.0 596.0V601.5M730.3 584.8V600.9" stroke="#3a9480" stroke-width="0.7"/><path d="M728.9 608.1V618.4" stroke="#dc5a68" stroke-width="0.7"/><path d="M728.3 612.1V614.8M728.6 609.3V612.1M729.2 609.4V610.4M729.4 601.5V609.4M729.7 597.0V601.5M730.0 596.7V597.3M730.3 593.9V596.7" stroke="#3a9480" stroke-width="0.9"/><path d="M728.9 609.3V610.4" stroke="#dc5a68" stroke-width="0.9"/><path d="M730.5 583.4V599.0M730.8 571.7V593.0M731.1 571.4V581.0M731.4 571.4V579.0M731.6 571.3V580.5M732.2 577.1V587.4" stroke="#3a9480" stroke-width="0.7"/><path d="M731.9 570.0V581.8M732.4 579.2V593.8" stroke="#dc5a68" stroke-width="0.7"/><path d="M731.9 572.7V581.0M732.4 580.5V587.7" stroke="#dc5a68" stroke-width="0.9"/><path d="M730.5 588.4V593.9M730.8 579.9V588.4M731.1 574.7V579.9M731.4 573.6V574.7M731.6 572.7V573.6M732.2 580.5V581.1" stroke="#3a9480" stroke-width="0.9"/><path d="M733.5 607.5V619.9M734.6 619.3V631.7" stroke="#3a9480" stroke-width="0.7"/><path d="M732.7 586.1V597.5M733.0 583.9V602.2M733.3 599.6V619.2M733.8 606.5V621.1M734.1 616.9V620.7M734.4 612.0V637.4" stroke="#dc5a68" stroke-width="0.7"/><path d="M733.5 608.8V616.7M734.6 626.3V630.1" stroke="#3a9480" stroke-width="0.9"/><path d="M732.7 587.7V590.3M733.0 590.3V600.4M733.3 600.4V616.7M733.8 608.8V617.7M734.1 617.7V618.7M734.4 618.7V630.1" stroke="#dc5a68" stroke-width="0.9"/><path d="M734.9 609.4V629.9M735.5 600.1V615.3M735.7 598.1V612.9M736.0 586.5V601.0M736.5 584.7V601.4M736.8 582.6V594.6" stroke="#3a9480" stroke-width="0.7"/><path d="M735.2 610.8V615.9M736.3 581.0V602.2" stroke="#dc5a68" stroke-width="0.7"/><path d="M735.2 613.8V614.5M736.3 588.9V599.6" stroke="#dc5a68" stroke-width="0.9"/><path d="M734.9 613.8V626.3M735.5 604.4V614.5M735.7 600.5V604.4M736.0 588.9V600.5M736.5 585.7V599.6M736.8 583.9V585.7" stroke="#3a9480" stroke-width="0.9"/><path d="M737.1 580.0V585.1M737.6 566.8V591.9M738.2 555.5V575.3M738.5 548.2V560.7M738.7 540.7V552.8" stroke="#3a9480" stroke-width="0.7"/><path d="M737.4 573.5V591.7M737.9 566.2V571.3M739.0 544.0V559.4" stroke="#dc5a68" stroke-width="0.7"/><path d="M737.1 580.5V583.9M737.6 567.8V590.2M738.2 556.5V568.5M738.5 551.5V556.5M738.7 545.8V551.5" stroke="#3a9480" stroke-width="0.9"/><path d="M737.4 580.5V590.2M737.9 567.8V568.5M739.0 545.8V554.6" stroke="#dc5a68" stroke-width="0.9"/><path d="M739.3 529.4V555.5M739.8 514.9V544.9M740.4 511.9V533.4M740.6 506.8V518.6M740.9 507.5V508.5" stroke="#3a9480" stroke-width="0.7"/><path d="M739.6 526.0V539.5M740.1 519.6V531.0M741.2 506.3V514.9" stroke="#dc5a68" stroke-width="0.7"/><path d="M739.6 534.3V538.8M740.1 520.5V523.6M741.2 507.6V509.3" stroke="#dc5a68" stroke-width="0.9"/><path d="M739.3 534.3V554.6M739.8 520.5V538.8M740.4 516.9V523.6M740.6 508.1V516.9M740.9 507.6V508.2" stroke="#3a9480" stroke-width="0.9"/><path d="M741.5 507.3V516.4M741.7 505.4V511.2M742.0 503.7V511.3M742.8 502.6V510.5M743.4 503.9V519.7" stroke="#3a9480" stroke-width="0.7"/><path d="M742.3 502.7V516.1M742.6 502.9V517.4M743.1 502.4V520.5" stroke="#dc5a68" stroke-width="0.7"/><path d="M741.5 508.5V509.3M741.7 506.9V508.5M742.0 506.0V506.9M742.8 506.3V509.9M743.4 507.8V518.0" stroke="#3a9480" stroke-width="0.9"/><path d="M742.3 506.0V509.5M742.6 509.5V510.1M743.1 506.3V518.0" stroke="#dc5a68" stroke-width="0.9"/><path d="M743.9 512.0V520.3M744.2 496.9V517.8M744.7 492.7V503.9M745.3 499.3V509.5M745.6 485.8V509.3" stroke="#3a9480" stroke-width="0.7"/><path d="M743.7 507.6V517.7M744.5 497.2V503.9M745.0 497.2V505.6" stroke="#dc5a68" stroke-width="0.7"/><path d="M743.7 507.8V517.3M744.5 497.9V500.3M745.0 497.5V505.0" stroke="#dc5a68" stroke-width="0.9"/><path d="M743.9 514.9V517.3M744.2 497.9V514.9M744.7 497.5V500.3M745.3 502.7V505.0M745.6 486.1V502.7" stroke="#3a9480" stroke-width="0.9"/><path d="M746.1 483.4V495.0M746.7 474.3V486.7M747.2 476.5V481.6" stroke="#3a9480" stroke-width="0.7"/><path d="M745.8 483.3V490.4M746.4 483.5V487.8M746.9 473.9V480.8M747.5 474.2V494.7M747.8 490.9V530.9" stroke="#dc5a68" stroke-width="0.7"/><path d="M746.1 484.1V488.2M746.7 475.8V485.8M747.2 476.6V478.0" stroke="#3a9480" stroke-width="0.9"/><path d="M745.8 486.1V488.2M746.4 484.1V485.8M746.9 475.8V478.0M747.5 476.6V493.8M747.8 493.8V495.2" stroke="#dc5a68" stroke-width="0.9"/><path d="M748.3 497.5V509.4M749.1 514.6V523.5M749.4 507.5V518.6" stroke="#3a9480" stroke-width="0.7"/><path d="M748.0 492.8V511.8M748.6 491.6V514.7M748.8 510.2V521.7M749.7 515.0V527.0M749.9 517.2V534.9" stroke="#dc5a68" stroke-width="0.7"/><path d="M748.0 495.2V506.9M748.6 502.1V510.7M748.8 510.7V521.4M749.7 515.1V522.6M749.9 522.6V527.9" stroke="#dc5a68" stroke-width="0.9"/><path d="M748.3 502.1V506.9M749.1 518.0V521.4M749.4 515.1V518.0" stroke="#3a9480" stroke-width="0.9"/><path d="M751.6 541.6V554.6M752.1 535.5V555.4" stroke="#3a9480" stroke-width="0.7"/><path d="M750.2 525.9V536.9M750.5 527.2V538.7M750.8 528.8V540.3M751.0 534.3V555.3M751.3 545.6V555.6M751.9 547.0V555.4" stroke="#dc5a68" stroke-width="0.7"/><path d="M751.6 547.7V551.4M752.1 545.4V553.4" stroke="#3a9480" stroke-width="0.9"/><path d="M750.2 527.9V531.8M750.5 531.8V534.7M750.8 534.7V539.8M751.0 539.8V549.4M751.3 549.4V551.4M751.9 547.7V553.4" stroke="#dc5a68" stroke-width="0.9"/><path d="M752.7 534.4V553.6M752.9 533.9V542.3M753.2 519.9V538.5M753.5 515.9V530.4M753.8 504.0V528.0M754.3 505.3V515.3" stroke="#3a9480" stroke-width="0.7"/><path d="M752.4 542.6V549.6M754.0 509.7V515.5" stroke="#dc5a68" stroke-width="0.7"/><path d="M752.4 545.4V549.2M754.0 511.0V515.2" stroke="#dc5a68" stroke-width="0.9"/><path d="M752.7 541.2V549.2M752.9 536.2V541.2M753.2 528.7V536.2M753.5 521.8V528.7M753.8 511.0V521.8M754.3 506.4V515.2" stroke="#3a9480" stroke-width="0.9"/><path d="M754.6 497.3V512.7M755.1 497.6V507.5M755.4 489.3V511.2M755.7 490.3V503.4M756.2 493.6V497.7M756.5 489.5V501.6" stroke="#3a9480" stroke-width="0.7"/><path d="M754.9 495.9V508.5M756.0 489.6V497.9" stroke="#dc5a68" stroke-width="0.7"/><path d="M754.6 497.3V506.4M755.1 503.1V507.4M755.4 496.5V503.1M755.7 494.7V496.5M756.2 495.5V497.3M756.5 492.2V495.5" stroke="#3a9480" stroke-width="0.9"/><path d="M754.9 497.3V507.4M756.0 494.7V497.3" stroke="#dc5a68" stroke-width="0.9"/><path d="M756.8 481.2V493.1M757.3 478.5V488.9M757.9 483.3V498.0M758.4 478.5V488.2M758.7 481.3V491.0" stroke="#3a9480" stroke-width="0.7"/><path d="M757.0 485.7V491.8M757.6 480.2V497.2M758.1 483.1V494.8" stroke="#dc5a68" stroke-width="0.7"/><path d="M757.0 488.0V488.6M757.6 484.7V496.8M758.1 487.6V488.2" stroke="#dc5a68" stroke-width="0.9"/><path d="M756.8 488.0V492.2M757.3 484.7V488.2M757.9 487.6V496.8M758.4 482.4V487.9M758.7 481.9V482.5" stroke="#3a9480" stroke-width="0.9"/><path d="M759.0 474.2V485.0M759.5 465.9V480.5M760.3 457.8V478.4M760.6 453.4V458.9" stroke="#3a9480" stroke-width="0.7"/><path d="M759.2 473.9V486.5M759.8 458.8V471.1M760.1 462.7V480.7M760.9 454.7V473.3" stroke="#dc5a68" stroke-width="0.7"/><path d="M759.0 475.6V481.9M759.5 468.5V477.5M760.3 458.7V473.4M760.6 457.8V458.7" stroke="#3a9480" stroke-width="0.9"/><path d="M759.2 475.6V477.5M759.8 468.5V469.1M760.1 468.6V473.4M760.9 457.8V468.1" stroke="#dc5a68" stroke-width="0.9"/><path d="M761.1 452.3V468.6M761.4 455.2V467.7M761.7 458.6V464.4M762.0 452.3V465.3M762.5 446.0V468.6" stroke="#3a9480" stroke-width="0.7"/><path d="M762.2 452.4V471.3M762.8 449.3V466.2M763.1 458.6V466.7" stroke="#dc5a68" stroke-width="0.7"/><path d="M762.2 453.3V460.8M762.8 449.8V460.0M763.1 460.0V463.7" stroke="#dc5a68" stroke-width="0.9"/><path d="M761.1 462.2V468.1M761.4 461.6V462.2M761.7 460.9V461.6M762.0 453.3V460.9M762.5 449.8V460.8" stroke="#3a9480" stroke-width="0.9"/><path d="M763.3 456.4V467.5M764.4 460.7V476.4M765.0 462.5V464.5M765.2 438.2V468.0" stroke="#3a9480" stroke-width="0.7"/><path d="M763.6 454.6V466.1M763.9 458.2V466.5M764.1 461.8V479.9M764.7 452.9V462.9" stroke="#dc5a68" stroke-width="0.7"/><path d="M763.3 457.0V463.7M764.4 460.8V469.7M765.0 462.6V463.2M765.2 461.7V462.6" stroke="#3a9480" stroke-width="0.9"/><path d="M763.6 457.0V459.1M763.9 459.1V463.9M764.1 463.9V469.7M764.7 460.8V462.9" stroke="#dc5a68" stroke-width="0.9"/><path d="M765.5 449.6V464.7M766.1 454.7V463.4M766.3 448.6V459.9M767.2 460.7V472.8" stroke="#3a9480" stroke-width="0.7"/><path d="M765.8 451.5V460.2M766.6 442.8V452.8M766.9 449.3V478.2M767.4 457.9V478.5" stroke="#dc5a68" stroke-width="0.7"/><path d="M765.8 457.6V458.4M766.6 450.4V452.6M766.9 452.6V468.4M767.4 465.9V476.1" stroke="#dc5a68" stroke-width="0.9"/><path d="M765.5 457.6V461.7M766.1 456.0V458.4M766.3 450.4V456.0M767.2 465.9V468.4" stroke="#3a9480" stroke-width="0.9"/><path d="M767.7 463.6V477.8M768.0 462.1V470.1M768.8 454.0V481.8M769.3 467.0V474.9M769.6 465.1V477.3" stroke="#3a9480" stroke-width="0.7"/><path d="M768.2 463.7V474.8M768.5 460.6V483.9M769.1 456.3V474.6" stroke="#dc5a68" stroke-width="0.7"/><path d="M767.7 469.8V476.1M768.0 468.2V469.8M768.8 461.3V473.6M769.3 469.3V470.6M769.6 467.6V469.3" stroke="#3a9480" stroke-width="0.9"/><path d="M768.2 468.2V471.7M768.5 471.7V473.6M769.1 461.3V470.6" stroke="#dc5a68" stroke-width="0.9"/><path d="M770.2 452.1V470.7M771.0 441.5V470.3" stroke="#3a9480" stroke-width="0.7"/><path d="M769.9 462.2V470.4M770.4 453.4V462.3M770.7 456.1V470.5M771.3 444.7V463.3M771.5 456.6V478.0M771.8 474.7V501.3" stroke="#dc5a68" stroke-width="0.7"/><path d="M769.9 467.6V470.3M770.4 453.8V459.0M770.7 459.0V462.4M771.3 445.2V462.9M771.5 462.9V475.9M771.8 475.9V479.9" stroke="#dc5a68" stroke-width="0.9"/><path d="M770.2 453.8V470.3M771.0 445.2V462.4" stroke="#3a9480" stroke-width="0.9"/><path d="M772.6 466.4V496.4M773.2 462.6V481.9M773.7 477.6V487.6M774.0 469.5V487.2" stroke="#3a9480" stroke-width="0.7"/><path d="M772.1 473.5V488.4M772.3 481.4V493.2M772.9 468.3V480.6M773.4 473.4V489.6" stroke="#dc5a68" stroke-width="0.7"/><path d="M772.6 472.0V491.4M773.2 473.5V478.2M773.7 480.0V483.4M774.0 474.3V480.0" stroke="#3a9480" stroke-width="0.9"/><path d="M772.1 479.9V487.8M772.3 487.8V491.4M772.9 472.0V478.2M773.4 473.5V483.4" stroke="#dc5a68" stroke-width="0.9"/><path d="M774.5 484.3V500.1M774.8 481.2V490.9M775.1 482.0V493.9M775.4 474.5V486.4M775.6 467.1V478.1M775.9 465.9V482.5" stroke="#3a9480" stroke-width="0.7"/><path d="M774.3 471.5V499.7M776.2 464.9V470.3" stroke="#dc5a68" stroke-width="0.7"/><path d="M774.3 474.3V495.1M776.2 469.5V470.1" stroke="#dc5a68" stroke-width="0.9"/><path d="M774.5 489.3V495.1M774.8 488.0V489.3M775.1 483.0V488.0M775.4 475.4V483.0M775.6 474.4V475.4M775.9 469.5V474.4" stroke="#3a9480" stroke-width="0.9"/><path d="M776.4 465.9V470.7M777.0 465.1V474.3" stroke="#3a9480" stroke-width="0.7"/><path d="M776.7 465.8V475.2M777.3 465.1V474.6M777.5 463.9V476.8M777.8 469.8V481.5M778.1 474.5V494.3M778.4 482.7V492.5" stroke="#dc5a68" stroke-width="0.7"/><path d="M776.4 466.9V469.9M777.0 467.4V473.8" stroke="#3a9480" stroke-width="0.9"/><path d="M776.7 466.9V473.8M777.3 467.4V469.9M777.5 469.9V470.5M777.8 470.2V478.7M778.1 478.7V485.4M778.4 485.4V491.9" stroke="#dc5a68" stroke-width="0.9"/><path d="M778.6 483.3V503.6M779.2 484.1V491.4M780.0 490.6V499.6M780.5 507.6V519.1" stroke="#3a9480" stroke-width="0.7"/><path d="M778.9 480.2V490.2M779.5 485.3V494.4M779.7 477.0V503.3M780.3 492.0V513.8" stroke="#dc5a68" stroke-width="0.7"/><path d="M778.9 483.8V487.6M779.5 487.2V488.6M779.7 488.6V499.6M780.3 493.3V513.0" stroke="#dc5a68" stroke-width="0.9"/><path d="M778.6 483.8V491.9M779.2 487.2V487.8M780.0 493.3V499.6M780.5 512.0V513.0" stroke="#3a9480" stroke-width="0.9"/><path d="M780.8 499.8V514.0M781.9 519.8V529.1M782.7 529.0V545.9" stroke="#3a9480" stroke-width="0.7"/><path d="M781.1 494.9V514.6M781.4 505.6V520.7M781.6 503.9V531.6M782.2 516.1V535.6M782.5 526.4V544.8" stroke="#dc5a68" stroke-width="0.7"/><path d="M780.8 503.4V512.0M781.9 521.1V524.3M782.7 531.7V541.8" stroke="#3a9480" stroke-width="0.9"/><path d="M781.1 503.4V507.6M781.4 507.6V514.0M781.6 514.0V524.3M782.2 521.1V532.3M782.5 532.3V541.8" stroke="#dc5a68" stroke-width="0.9"/><path d="M783.3 537.0V549.3M783.6 535.3V550.7M784.4 546.1V562.3M784.6 545.0V550.2" stroke="#3a9480" stroke-width="0.7"/><path d="M783.0 531.3V549.2M783.8 529.4V560.9M784.1 547.4V555.6M784.9 549.4V561.0" stroke="#dc5a68" stroke-width="0.7"/><path d="M783.0 531.7V548.2M783.8 540.1V551.3M784.1 551.3V553.4M784.9 549.8V556.8" stroke="#dc5a68" stroke-width="0.9"/><path d="M783.3 547.1V548.2M783.6 540.1V547.1M784.4 550.1V553.4M784.6 549.8V550.4" stroke="#3a9480" stroke-width="0.9"/><path d="M785.5 567.6V582.7M786.3 553.1V579.4M786.6 553.1V564.5M786.8 553.1V569.8M787.1 549.4V555.8" stroke="#3a9480" stroke-width="0.7"/><path d="M785.2 554.7V581.7M785.7 567.1V594.6M786.0 571.3V580.0" stroke="#dc5a68" stroke-width="0.7"/><path d="M785.5 567.9V580.2M786.3 564.0V578.5M786.6 562.2V564.0M786.8 554.2V562.2M787.1 549.5V554.2" stroke="#3a9480" stroke-width="0.9"/><path d="M785.2 556.8V580.2M785.7 567.9V574.0M786.0 574.0V578.5" stroke="#dc5a68" stroke-width="0.9"/><path d="M788.2 545.6V561.3M788.5 532.5V550.7M788.7 526.4V540.6M789.3 520.1V536.5" stroke="#3a9480" stroke-width="0.7"/><path d="M787.4 546.1V553.2M787.7 550.7V556.4M787.9 546.7V560.5M789.0 527.6V536.4" stroke="#dc5a68" stroke-width="0.7"/><path d="M787.4 549.5V550.8M787.7 550.8V551.4M787.9 551.0V553.3M789.0 530.1V534.5" stroke="#dc5a68" stroke-width="0.9"/><path d="M788.2 546.0V553.3M788.5 535.6V546.0M788.7 530.1V535.6M789.3 521.6V534.5" stroke="#3a9480" stroke-width="0.9"/><path d="M789.8 517.4V532.6M790.1 512.3V521.0M790.4 513.2V516.7M791.2 523.2V532.4" stroke="#3a9480" stroke-width="0.7"/><path d="M789.6 518.6V524.9M790.7 513.7V525.2M790.9 512.9V530.6M791.5 525.1V530.5" stroke="#dc5a68" stroke-width="0.7"/><path d="M789.8 519.8V523.1M790.1 516.1V519.8M790.4 515.3V516.1M791.2 526.4V527.0" stroke="#3a9480" stroke-width="0.9"/><path d="M789.6 521.6V523.1M790.7 515.3V517.1M790.9 517.1V527.0M791.5 526.4V528.4" stroke="#dc5a68" stroke-width="0.9"/><path d="M792.6 536.1V544.2M793.1 530.7V542.3" stroke="#3a9480" stroke-width="0.7"/><path d="M791.8 521.5V531.3M792.0 525.9V542.4M792.3 534.4V545.1M792.8 536.4V546.9M793.4 528.1V555.1M793.7 540.4V557.4" stroke="#dc5a68" stroke-width="0.7"/><path d="M791.8 528.4V529.6M792.0 529.6V540.7M792.3 540.7V543.9M792.8 539.4V541.8M793.4 538.3V547.0M793.7 547.0V554.2" stroke="#dc5a68" stroke-width="0.9"/><path d="M792.6 539.4V543.9M793.1 538.3V541.8" stroke="#3a9480" stroke-width="0.9"/><path d="M794.5 564.4V571.9M794.8 561.2V569.8M795.0 548.9V564.4M795.3 542.7V551.7M795.6 537.0V547.1M795.9 526.1V554.7" stroke="#3a9480" stroke-width="0.7"/><path d="M793.9 550.8V560.5M794.2 555.4V581.7" stroke="#dc5a68" stroke-width="0.7"/><path d="M794.5 567.9V569.9M794.8 562.3V567.9M795.0 549.8V562.3M795.3 544.9V549.8M795.6 541.4V544.9M795.9 535.2V541.4" stroke="#3a9480" stroke-width="0.9"/><path d="M793.9 554.2V557.4M794.2 557.4V569.9" stroke="#dc5a68" stroke-width="0.9"/><path d="M796.4 532.7V553.2M796.7 526.5V541.3M797.2 538.6V551.6M797.5 536.5V546.7M798.0 529.6V546.6" stroke="#3a9480" stroke-width="0.7"/><path d="M796.1 532.9V554.2M796.9 530.1V546.1M797.8 537.1V542.7" stroke="#dc5a68" stroke-width="0.7"/><path d="M796.1 535.2V549.4M796.9 537.0V545.3M797.8 540.3V541.1" stroke="#dc5a68" stroke-width="0.9"/><path d="M796.4 539.5V549.4M796.7 537.0V539.5M797.2 541.6V545.3M797.5 540.3V541.6M798.0 540.6V541.2" stroke="#3a9480" stroke-width="0.9"/><path d="M798.9 532.2V552.6M800.0 533.0V558.3" stroke="#3a9480" stroke-width="0.7"/><path d="M798.3 529.6V554.1M798.6 538.4V548.8M799.1 542.5V550.2M799.4 542.8V552.7M799.7 546.8V557.7M800.2 541.2V552.6" stroke="#dc5a68" stroke-width="0.7"/><path d="M798.9 543.9V545.4M800.0 543.9V555.6" stroke="#3a9480" stroke-width="0.9"/><path d="M798.3 540.6V543.2M798.6 543.2V545.4M799.1 543.9V546.2M799.4 546.2V551.0M799.7 551.0V555.6M800.2 543.9V546.2" stroke="#dc5a68" stroke-width="0.9"/><path d="M800.8 535.5V554.1M801.0 516.0V544.2M801.6 520.2V538.0M801.9 513.0V528.7M802.4 525.1V535.5" stroke="#3a9480" stroke-width="0.7"/><path d="M800.5 534.7V553.5M801.3 514.9V543.0M802.1 516.4V531.0" stroke="#dc5a68" stroke-width="0.7"/><path d="M800.5 546.2V552.5M801.3 522.7V535.8M802.1 521.7V530.0" stroke="#dc5a68" stroke-width="0.9"/><path d="M800.8 539.9V552.5M801.0 522.7V539.9M801.6 523.7V535.8M801.9 521.7V523.7M802.4 526.6V530.0" stroke="#3a9480" stroke-width="0.9"/><path d="M803.0 509.2V535.3M803.5 502.7V515.2M803.8 499.8V508.5M804.1 499.4V510.6M804.3 497.0V505.8M804.6 496.9V504.0" stroke="#3a9480" stroke-width="0.7"/><path d="M802.7 524.3V534.8M803.2 508.8V514.6" stroke="#dc5a68" stroke-width="0.7"/><path d="M803.0 510.7V529.0M803.5 506.5V513.8M803.8 504.7V506.5M804.1 501.1V504.7M804.3 499.9V501.1M804.6 498.7V499.9" stroke="#3a9480" stroke-width="0.9"/><path d="M802.7 526.6V529.0M803.2 510.7V513.8" stroke="#dc5a68" stroke-width="0.9"/><path d="M805.7 510.5V515.7M806.5 532.9V535.5M806.8 527.0V541.0" stroke="#3a9480" stroke-width="0.7"/><path d="M804.9 497.0V505.6M805.1 496.3V507.6M805.4 505.3V517.6M806.0 505.3V526.2M806.2 520.2V536.2" stroke="#dc5a68" stroke-width="0.7"/><path d="M804.9 498.7V500.4M805.1 500.4V506.4M805.4 506.4V515.7M806.0 511.4V524.2M806.2 524.2V533.1" stroke="#dc5a68" stroke-width="0.9"/><path d="M805.7 511.4V515.7M806.5 533.0V533.6M806.8 530.9V533.0" stroke="#3a9480" stroke-width="0.9"/><path d="M807.1 521.1V537.5M807.6 514.4V531.9M808.2 526.5V530.0M808.4 523.3V527.5M808.7 515.8V530.1" stroke="#3a9480" stroke-width="0.7"/><path d="M807.3 518.5V531.4M807.9 516.2V530.0M809.0 515.8V531.8" stroke="#dc5a68" stroke-width="0.7"/><path d="M807.1 522.1V530.9M807.6 519.6V531.0M808.2 526.9V528.9M808.4 523.9V526.9M808.7 520.1V523.9" stroke="#3a9480" stroke-width="0.9"/><path d="M807.3 522.1V531.0M807.9 519.6V528.9M809.0 520.1V524.9" stroke="#dc5a68" stroke-width="0.9"/><path d="M809.2 515.7V526.0M809.8 516.3V527.9M810.9 531.9V537.0M811.2 524.8V537.2" stroke="#3a9480" stroke-width="0.7"/><path d="M809.5 515.7V525.8M810.1 515.3V529.2M810.3 525.1V533.8M810.6 526.1V538.7" stroke="#dc5a68" stroke-width="0.7"/><path d="M809.5 517.2V524.1M810.1 520.9V527.1M810.3 527.1V532.3M810.6 532.3V536.4" stroke="#dc5a68" stroke-width="0.9"/><path d="M809.2 517.2V524.9M809.8 520.9V524.1M810.9 535.6V536.4M811.2 529.8V535.6" stroke="#3a9480" stroke-width="0.9"/><path d="M811.4 518.3V532.4M812.5 547.7V557.7" stroke="#3a9480" stroke-width="0.7"/><path d="M811.7 521.6V546.7M812.0 532.5V544.5M812.3 543.9V558.8M812.8 549.1V568.9M813.1 560.4V570.0M813.3 560.6V572.5" stroke="#dc5a68" stroke-width="0.7"/><path d="M811.4 523.0V529.8M812.5 550.0V552.2" stroke="#3a9480" stroke-width="0.9"/><path d="M811.7 523.0V540.3M812.0 540.3V544.5M812.3 544.5V552.2M812.8 550.0V563.4M813.1 563.4V566.5M813.3 566.5V571.6" stroke="#dc5a68" stroke-width="0.9"/><path d="M814.4 600.9V604.9" stroke="#3a9480" stroke-width="0.7"/><path d="M813.6 566.7V599.4M813.9 585.5V594.9M814.2 589.8V611.3M814.7 595.4V614.1M815.0 600.8V619.4M815.3 613.4V639.6M815.5 619.1V627.0" stroke="#dc5a68" stroke-width="0.7"/><path d="M813.6 571.6V593.3M813.9 593.3V594.5M814.2 594.5V604.2M814.7 601.2V607.8M815.0 607.8V615.8M815.3 615.8V625.9M815.5 625.9V626.6" stroke="#dc5a68" stroke-width="0.9"/><path d="M814.4 601.2V604.2" stroke="#3a9480" stroke-width="0.9"/><path d="M815.8 615.1V635.4M816.4 620.3V636.5M816.6 597.9V627.4M817.4 610.7V630.0" stroke="#3a9480" stroke-width="0.7"/><path d="M816.1 611.4V631.7M816.9 601.7V611.2M817.2 609.0V623.9M817.7 610.0V622.3" stroke="#dc5a68" stroke-width="0.7"/><path d="M815.8 615.4V626.6M816.4 620.6V623.5M816.6 604.4V620.6M817.4 612.6V620.6" stroke="#3a9480" stroke-width="0.9"/><path d="M816.1 615.4V623.5M816.9 604.4V609.1M817.2 609.1V620.6M817.7 612.6V618.1" stroke="#dc5a68" stroke-width="0.9"/><path d="M818.5 603.4V626.8M819.4 618.9V628.6" stroke="#3a9480" stroke-width="0.7"/><path d="M818.0 611.3V623.6M818.3 618.6V629.2M818.8 608.1V623.7M819.1 615.3V627.6M819.6 618.9V624.4M819.9 619.1V635.1" stroke="#dc5a68" stroke-width="0.7"/><path d="M818.0 618.1V618.8M818.3 618.8V622.3M818.8 608.5V623.0M819.1 623.0V623.8M819.6 622.9V624.1M819.9 624.1V628.4" stroke="#dc5a68" stroke-width="0.9"/><path d="M818.5 608.5V622.3M819.4 622.9V623.8" stroke="#3a9480" stroke-width="0.9"/><path d="M820.4 623.5V632.4M821.5 629.1V637.4" stroke="#3a9480" stroke-width="0.7"/><path d="M820.2 625.5V636.6M820.7 619.2V634.2M821.0 625.1V643.2M821.3 626.1V639.5M821.8 631.0V646.8M822.1 642.6V651.5" stroke="#dc5a68" stroke-width="0.7"/><path d="M820.4 624.9V631.6M821.5 634.4V635.8" stroke="#3a9480" stroke-width="0.9"/><path d="M820.2 628.4V631.6M820.7 624.9V631.9M821.0 631.9V634.5M821.3 634.5V635.8M821.8 634.4V644.5M822.1 644.5V650.3" stroke="#dc5a68" stroke-width="0.9"/><path d="M822.6 653.7V673.7M824.3 700.6V713.7" stroke="#3a9480" stroke-width="0.7"/><path d="M822.4 648.7V670.6M822.9 652.7V673.2M823.2 663.0V678.2M823.5 668.8V689.8M823.7 683.0V696.6M824.0 696.0V709.9" stroke="#dc5a68" stroke-width="0.7"/><path d="M822.4 650.3V662.6M822.9 655.9V670.1M823.2 670.1V674.5M823.5 674.5V684.3M823.7 684.3V690.7M824.0 690.7V703.0" stroke="#dc5a68" stroke-width="0.9"/><path d="M822.6 655.9V662.6M824.3 701.5V703.0" stroke="#3a9480" stroke-width="0.9"/><path d="M825.6 728.0V730.5M826.2 719.7V734.4M826.5 723.1V730.7" stroke="#3a9480" stroke-width="0.7"/><path d="M824.5 701.3V716.5M824.8 703.4V721.9M825.1 717.2V724.4M825.4 720.3V765.7M825.9 721.3V738.7" stroke="#dc5a68" stroke-width="0.7"/><path d="M825.6 728.9V729.5M826.2 727.5V733.7M826.5 725.7V727.5" stroke="#3a9480" stroke-width="0.9"/><path d="M824.5 701.5V710.2M824.8 710.2V721.4M825.1 721.4V722.0M825.4 721.5V729.2M825.9 728.9V733.7" stroke="#dc5a68" stroke-width="0.9"/><path d="M826.7 698.0V726.4M827.0 703.9V722.5M827.6 694.2V707.7" stroke="#3a9480" stroke-width="0.7"/><path d="M827.3 706.2V707.5M827.8 692.5V709.4M828.1 704.2V716.0M828.4 707.8V719.8M828.6 718.2V743.5" stroke="#dc5a68" stroke-width="0.7"/><path d="M827.3 706.3V707.5M827.8 696.2V705.5M828.1 705.5V713.5M828.4 713.5V719.7M828.6 719.7V736.6" stroke="#dc5a68" stroke-width="0.9"/><path d="M826.7 711.3V725.7M827.0 706.3V711.3M827.6 696.2V707.5" stroke="#3a9480" stroke-width="0.9"/><path d="M828.9 730.2V741.8M829.2 715.2V743.6M829.7 709.5V729.4M830.0 705.9V724.8M830.3 699.3V726.2M830.6 699.1V705.9" stroke="#3a9480" stroke-width="0.7"/><path d="M829.5 710.7V729.6M830.8 691.6V706.6" stroke="#dc5a68" stroke-width="0.7"/><path d="M828.9 733.0V736.6M829.2 716.9V733.0M829.7 718.8V724.5M830.0 712.9V718.8M830.3 704.1V712.9M830.6 699.4V704.1" stroke="#3a9480" stroke-width="0.9"/><path d="M829.5 716.9V724.5M830.8 699.4V700.3" stroke="#dc5a68" stroke-width="0.9"/><path d="M831.9 723.8V735.3M832.5 709.3V739.9M832.7 699.9V720.9M833.0 688.3V705.4" stroke="#3a9480" stroke-width="0.7"/><path d="M831.1 699.8V713.1M831.4 706.7V715.6M831.7 712.2V738.8M832.2 723.3V741.6" stroke="#dc5a68" stroke-width="0.7"/><path d="M831.1 700.3V712.3M831.4 712.3V714.3M831.7 714.3V735.2M832.2 727.6V739.5" stroke="#dc5a68" stroke-width="0.9"/><path d="M831.9 727.6V735.2M832.5 715.2V739.5M832.7 705.0V715.2M833.0 696.2V705.0" stroke="#3a9480" stroke-width="0.9"/><path d="M833.3 671.8V697.5M833.6 657.4V682.1M834.1 654.7V667.2M834.4 656.0V667.9M835.2 651.2V668.9" stroke="#3a9480" stroke-width="0.7"/><path d="M833.8 659.6V663.9M834.7 652.1V666.7M834.9 650.4V663.6" stroke="#dc5a68" stroke-width="0.7"/><path d="M833.3 677.8V696.2M833.6 662.7V677.8M834.1 658.4V663.7M834.4 658.0V658.6M835.2 652.9V661.1" stroke="#3a9480" stroke-width="0.9"/><path d="M833.8 662.7V663.7M834.7 658.0V660.6M834.9 660.6V661.2" stroke="#dc5a68" stroke-width="0.9"/><path d="M835.5 643.9V653.3M836.0 633.8V648.8M836.3 632.3V649.5M836.6 636.0V644.5M837.1 642.8V659.1M837.4 642.9V647.1" stroke="#3a9480" stroke-width="0.7"/><path d="M835.8 643.1V648.9M836.8 630.4V652.7" stroke="#dc5a68" stroke-width="0.7"/><path d="M835.8 645.3V647.3M836.8 638.4V645.2" stroke="#dc5a68" stroke-width="0.9"/><path d="M835.5 645.3V652.9M836.0 644.8V647.3M836.3 639.1V644.8M836.6 638.4V639.1M837.1 643.5V645.2M837.4 643.0V643.6" stroke="#3a9480" stroke-width="0.9"/><path d="M837.7 623.8V643.6M837.9 630.8V639.6M838.2 618.8V640.0M839.3 633.4V648.7M839.6 626.0V640.2" stroke="#3a9480" stroke-width="0.7"/><path d="M838.5 622.9V642.8M838.8 634.0V646.0M839.0 636.0V645.0" stroke="#dc5a68" stroke-width="0.7"/><path d="M837.7 636.7V643.0M837.9 632.6V636.7M838.2 631.4V632.6M839.3 637.8V643.2M839.6 633.2V637.8" stroke="#3a9480" stroke-width="0.9"/><path d="M838.5 631.4V640.1M838.8 640.1V640.7M839.0 640.6V643.2" stroke="#dc5a68" stroke-width="0.9"/><path d="M840.1 625.5V637.7M840.4 620.1V633.0" stroke="#3a9480" stroke-width="0.7"/><path d="M839.9 617.9V636.9M840.7 605.6V622.0M840.9 617.9V631.0M841.2 620.3V631.6M841.5 629.4V641.8M841.8 629.6V640.7" stroke="#dc5a68" stroke-width="0.7"/><path d="M839.9 633.2V636.8M840.7 621.6V622.2M840.9 621.6V626.9M841.2 626.9V630.7M841.5 630.7V636.1M841.8 636.1V636.7" stroke="#dc5a68" stroke-width="0.9"/><path d="M840.1 631.2V636.8M840.4 621.6V631.2" stroke="#3a9480" stroke-width="0.9"/><path d="M842.3 647.1V652.6M842.9 634.5V655.1M843.1 635.6V644.6" stroke="#3a9480" stroke-width="0.7"/><path d="M842.0 626.0V653.1M842.6 642.0V651.8M843.4 636.6V643.9M843.7 639.0V648.7M844.0 639.4V650.3" stroke="#dc5a68" stroke-width="0.7"/><path d="M842.3 649.9V650.5M842.9 639.7V651.4M843.1 638.3V639.7" stroke="#3a9480" stroke-width="0.9"/><path d="M842.0 636.5V650.4M842.6 649.9V651.4M843.4 638.3V641.8M843.7 641.8V645.0M844.0 645.0V648.2" stroke="#dc5a68" stroke-width="0.9"/><path d="M845.0 661.4V665.4M845.3 660.3V663.5M845.6 646.5V663.1M845.9 648.5V656.1M846.1 642.6V652.7" stroke="#3a9480" stroke-width="0.7"/><path d="M844.2 646.8V652.6M844.5 645.3V663.2M844.8 657.7V666.6" stroke="#dc5a68" stroke-width="0.7"/><path d="M844.2 648.2V652.2M844.5 652.2V659.8M844.8 659.8V663.1" stroke="#dc5a68" stroke-width="0.9"/><path d="M845.0 662.8V663.4M845.3 661.5V662.8M845.6 652.0V661.5M845.9 650.5V652.0M846.1 646.9V650.5" stroke="#3a9480" stroke-width="0.9"/><path d="M847.0 646.3V654.4M847.5 651.4V663.5M848.3 656.6V659.3" stroke="#3a9480" stroke-width="0.7"/><path d="M846.4 643.4V652.1M846.7 639.4V656.6M847.2 646.5V660.4M847.8 647.7V662.1M848.1 650.9V657.5" stroke="#dc5a68" stroke-width="0.7"/><path d="M847.0 650.2V653.6M847.5 654.4V659.3M848.3 656.8V657.4" stroke="#3a9480" stroke-width="0.9"/><path d="M846.4 646.9V648.3M846.7 648.3V653.6M847.2 650.2V659.3M847.8 654.4V655.6M848.1 655.6V657.0" stroke="#dc5a68" stroke-width="0.9"/><path d="M848.6 643.6V660.1M849.1 630.5V650.7" stroke="#3a9480" stroke-width="0.7"/><path d="M848.9 647.3V650.7M849.4 639.1V655.8M849.7 651.3V665.7M850.0 662.5V665.5M850.2 663.3V681.0M850.5 660.1V682.7" stroke="#dc5a68" stroke-width="0.7"/><path d="M848.9 648.8V649.4M849.4 640.3V653.3M849.7 653.3V663.8M850.0 663.8V665.0M850.2 665.0V671.3M850.5 671.3V681.1" stroke="#dc5a68" stroke-width="0.9"/><path d="M848.6 648.8V656.8M849.1 640.3V649.4" stroke="#3a9480" stroke-width="0.9"/><path d="M851.3 685.3V696.9M851.6 680.7V692.9M852.4 682.4V699.7" stroke="#3a9480" stroke-width="0.7"/><path d="M850.8 677.6V693.2M851.1 677.1V697.9M851.9 682.4V688.3M852.2 683.9V691.6M852.7 678.0V692.0" stroke="#dc5a68" stroke-width="0.7"/><path d="M851.3 689.4V694.5M851.6 686.5V689.4M852.4 684.8V690.3" stroke="#3a9480" stroke-width="0.9"/><path d="M850.8 681.1V688.1M851.1 688.1V694.5M851.9 686.5V687.7M852.2 687.7V690.3M852.7 684.8V688.5" stroke="#dc5a68" stroke-width="0.9"/><path d="M853.0 678.0V695.9M853.5 680.5V698.8M854.1 677.5V688.4" stroke="#3a9480" stroke-width="0.7"/><path d="M853.2 676.9V688.4M853.8 680.9V689.1M854.3 677.8V684.6M854.6 683.4V702.1M854.9 689.0V704.8" stroke="#dc5a68" stroke-width="0.7"/><path d="M853.2 681.7V686.0M853.8 684.1V685.7M854.3 680.3V683.6M854.6 683.6V694.1M854.9 694.1V700.4" stroke="#dc5a68" stroke-width="0.9"/><path d="M853.0 681.7V688.5M853.5 684.1V686.0M854.1 680.3V685.7" stroke="#3a9480" stroke-width="0.9"/><path d="M855.2 681.5V706.0M855.7 685.8V698.0M856.3 687.4V698.4M856.5 677.8V692.3M857.1 677.8V690.3" stroke="#3a9480" stroke-width="0.7"/><path d="M855.4 685.2V699.3M856.0 682.5V689.3M856.8 680.2V690.3" stroke="#dc5a68" stroke-width="0.7"/><path d="M855.2 690.9V700.4M855.7 687.0V694.9M856.3 687.4V688.0M856.5 680.4V687.4M857.1 681.9V684.5" stroke="#3a9480" stroke-width="0.9"/><path d="M855.4 690.9V694.9M856.0 687.0V687.7M856.8 680.4V684.5" stroke="#dc5a68" stroke-width="0.9"/><path d="M857.9 678.6V703.5M858.7 679.8V692.0" stroke="#3a9480" stroke-width="0.7"/><path d="M857.3 681.1V707.9M857.6 686.3V696.1M858.2 677.0V690.8M858.4 683.3V691.2M859.0 672.9V683.8M859.3 677.6V683.7" stroke="#dc5a68" stroke-width="0.7"/><path d="M857.3 681.9V689.7M857.6 689.7V694.4M858.2 681.8V684.2M858.4 684.2V690.8M859.0 680.6V681.4M859.3 681.4V682.0" stroke="#dc5a68" stroke-width="0.9"/><path d="M857.9 681.8V694.4M858.7 680.6V690.8" stroke="#3a9480" stroke-width="0.9"/><path d="M859.5 672.8V684.3M859.8 665.2V688.0M860.6 653.1V677.6M860.9 640.3V659.5" stroke="#3a9480" stroke-width="0.7"/><path d="M860.1 660.5V676.6M860.4 673.3V679.2M861.2 643.9V663.0M861.4 655.1V658.5" stroke="#dc5a68" stroke-width="0.7"/><path d="M859.5 676.2V681.8M859.8 665.4V676.2M860.6 657.8V673.5M860.9 646.7V657.8" stroke="#3a9480" stroke-width="0.9"/><path d="M860.1 665.4V673.5M860.4 673.5V674.1M861.2 646.7V655.4M861.4 655.4V656.8" stroke="#dc5a68" stroke-width="0.9"/><path d="M861.7 644.2V662.6M862.0 648.4V658.8M862.3 641.3V652.1M862.8 644.7V648.7M863.6 641.9V664.6" stroke="#3a9480" stroke-width="0.7"/><path d="M862.5 644.2V651.3M863.1 641.7V654.8M863.4 647.0V664.3" stroke="#dc5a68" stroke-width="0.7"/><path d="M862.5 644.5V647.0M863.1 645.7V650.6M863.4 650.6V660.3" stroke="#dc5a68" stroke-width="0.9"/><path d="M861.7 654.6V656.8M862.0 649.0V654.6M862.3 644.5V649.0M862.8 645.7V647.0M863.6 651.6V660.3" stroke="#3a9480" stroke-width="0.9"/><path d="M865.0 720.5V726.2M865.5 716.7V728.0" stroke="#3a9480" stroke-width="0.7"/><path d="M863.9 649.7V665.7M864.2 658.9V697.3M864.5 688.8V720.2M864.7 707.6V730.0M865.3 718.6V726.5M865.8 721.3V730.3" stroke="#dc5a68" stroke-width="0.7"/><path d="M865.0 721.8V724.5M865.5 721.9V725.8" stroke="#3a9480" stroke-width="0.9"/><path d="M863.9 651.6V665.0M864.2 665.0V693.6M864.5 693.6V714.5M864.7 714.5V724.5M865.3 721.8V725.8M865.8 721.9V726.9" stroke="#dc5a68" stroke-width="0.9"/><path d="M866.1 723.0V727.1M866.6 716.9V730.1M866.9 714.9V727.0" stroke="#3a9480" stroke-width="0.7"/><path d="M866.4 715.5V730.0M867.2 712.1V730.2M867.5 720.6V730.2M867.7 723.3V727.6M868.0 722.8V730.2" stroke="#dc5a68" stroke-width="0.7"/><path d="M866.4 725.8V727.5M867.2 717.8V720.9M867.5 720.9V724.9M867.7 724.9V725.8M868.0 725.8V728.0" stroke="#dc5a68" stroke-width="0.9"/><path d="M866.1 725.8V726.9M866.6 719.4V727.5M866.9 717.8V719.4" stroke="#3a9480" stroke-width="0.9"/><path d="M868.3 725.4V729.9M868.6 714.8V728.2M869.1 705.8V721.9M870.2 696.9V723.8" stroke="#3a9480" stroke-width="0.7"/><path d="M868.8 714.1V726.8M869.4 707.4V718.9M869.6 710.9V719.4M869.9 718.6V727.0" stroke="#dc5a68" stroke-width="0.7"/><path d="M868.3 727.6V728.2M868.6 717.6V727.6M869.1 708.5V720.2M870.2 706.8V720.6" stroke="#3a9480" stroke-width="0.9"/><path d="M868.8 717.6V720.2M869.4 708.5V715.6M869.6 715.6V719.4M869.9 719.4V720.6" stroke="#dc5a68" stroke-width="0.9"/><path d="M870.5 696.5V710.2M871.0 707.0V713.0M871.6 711.0V715.1M871.8 699.7V712.6M872.4 692.9V713.9" stroke="#3a9480" stroke-width="0.7"/><path d="M870.7 696.5V713.9M871.3 707.1V715.3M872.1 699.3V712.8" stroke="#dc5a68" stroke-width="0.7"/><path d="M870.7 705.0V712.9M871.3 708.3V714.1M872.1 701.9V705.7" stroke="#dc5a68" stroke-width="0.9"/><path d="M870.5 705.0V706.8M871.0 708.3V712.9M871.6 711.2V714.1M871.8 701.9V711.2M872.4 693.5V705.7" stroke="#3a9480" stroke-width="0.9"/><path d="M872.9 697.0V706.3M873.5 688.2V705.6M874.0 689.5V704.1" stroke="#3a9480" stroke-width="0.7"/><path d="M872.6 689.3V709.5M873.2 692.8V708.8M873.7 687.5V709.0M874.3 688.7V696.8M874.6 688.3V695.5" stroke="#dc5a68" stroke-width="0.7"/><path d="M872.9 697.2V704.3M873.5 694.8V702.5M874.0 690.1V701.8" stroke="#3a9480" stroke-width="0.9"/><path d="M872.6 693.5V704.3M873.2 697.2V702.5M873.7 694.8V701.8M874.3 690.1V692.6M874.6 692.6V693.3" stroke="#dc5a68" stroke-width="0.9"/><path d="M874.8 687.9V697.2M875.4 687.9V697.9M875.9 696.1V701.5M876.5 694.1V713.6M876.7 688.2V706.9" stroke="#3a9480" stroke-width="0.7"/><path d="M875.1 690.1V698.6M875.7 690.5V707.1M876.2 699.5V708.0" stroke="#dc5a68" stroke-width="0.7"/><path d="M875.1 692.7V694.5M875.7 691.9V700.9M876.2 699.7V706.1" stroke="#dc5a68" stroke-width="0.9"/><path d="M874.8 692.7V693.3M875.4 691.9V694.5M875.9 699.7V700.9M876.5 702.7V706.1M876.7 689.4V702.7" stroke="#3a9480" stroke-width="0.9"/><path d="M878.1 687.9V707.1M878.9 694.5V715.6" stroke="#3a9480" stroke-width="0.7"/><path d="M877.0 687.2V694.6M877.3 685.7V699.3M877.6 693.3V703.0M877.8 693.5V708.6M878.4 691.3V700.9M878.7 690.9V709.6" stroke="#dc5a68" stroke-width="0.7"/><path d="M878.1 696.2V704.1M878.9 703.9V707.9" stroke="#3a9480" stroke-width="0.9"/><path d="M877.0 689.4V690.9M877.3 690.9V695.1M877.6 695.1V695.7M877.8 695.3V704.1M878.4 696.2V699.1M878.7 699.1V707.9" stroke="#dc5a68" stroke-width="0.9"/><path d="M879.2 698.7V704.2M879.5 677.8V700.7M880.3 684.1V703.7M880.6 680.1V694.1M880.8 669.1V687.9" stroke="#3a9480" stroke-width="0.7"/><path d="M879.8 676.5V701.8M880.0 690.2V707.7M881.1 667.8V690.3" stroke="#dc5a68" stroke-width="0.7"/><path d="M879.8 688.9V693.8M880.0 693.8V698.4M881.1 670.0V682.2" stroke="#dc5a68" stroke-width="0.9"/><path d="M879.2 700.6V703.9M879.5 688.9V700.6M880.3 688.1V698.4M880.6 682.0V688.1M880.8 670.0V682.0" stroke="#3a9480" stroke-width="0.9"/><path d="M881.4 666.0V683.7M881.7 663.7V668.7M882.2 651.8V669.8M882.8 646.1V665.9M883.0 647.3V658.6" stroke="#3a9480" stroke-width="0.7"/><path d="M881.9 661.3V668.4M882.5 652.7V663.2M883.3 649.4V658.9" stroke="#dc5a68" stroke-width="0.7"/><path d="M881.4 668.6V682.2M881.7 665.9V668.6M882.2 654.2V666.8M882.8 650.8V662.5M883.0 650.4V651.0" stroke="#3a9480" stroke-width="0.9"/><path d="M881.9 665.9V666.8M882.5 654.2V662.5M883.3 650.4V656.1" stroke="#dc5a68" stroke-width="0.9"/><path d="M883.6 638.2V659.2M883.9 637.6V648.4M884.4 634.8V652.3M884.7 640.6V651.5M885.5 650.6V658.3" stroke="#3a9480" stroke-width="0.7"/><path d="M884.1 638.0V646.5M884.9 639.3V650.5M885.2 648.9V658.9" stroke="#dc5a68" stroke-width="0.7"/><path d="M884.1 641.5V646.2M884.9 644.0V649.2M885.2 649.2V657.2" stroke="#dc5a68" stroke-width="0.9"/><path d="M883.6 642.6V656.1M883.9 641.5V642.6M884.4 645.1V646.2M884.7 644.0V645.1M885.5 655.8V657.2" stroke="#3a9480" stroke-width="0.9"/><path d="M885.8 649.9V656.8M886.0 647.1V656.2M886.9 647.0V663.3M887.1 637.6V650.7" stroke="#3a9480" stroke-width="0.7"/><path d="M886.3 648.7V662.3M886.6 658.9V664.0M887.4 639.3V645.0M887.7 639.4V649.5" stroke="#dc5a68" stroke-width="0.7"/><path d="M885.8 653.6V655.8M886.0 651.4V653.6M886.9 647.9V662.7M887.1 642.1V647.9" stroke="#3a9480" stroke-width="0.9"/><path d="M886.3 651.4V660.0M886.6 660.0V662.7M887.4 642.1V644.1M887.7 644.1V648.3" stroke="#dc5a68" stroke-width="0.9"/><path d="M888.8 656.4V661.9M889.0 654.6V665.6M889.3 648.9V664.1M889.6 644.7V661.7M889.9 635.7V652.4" stroke="#3a9480" stroke-width="0.7"/><path d="M888.0 646.1V651.4M888.2 637.5V657.0M888.5 652.9V660.9" stroke="#dc5a68" stroke-width="0.7"/><path d="M888.0 648.3V649.2M888.2 649.2V655.1M888.5 655.1V660.7" stroke="#dc5a68" stroke-width="0.9"/><path d="M888.8 660.0V660.7M889.0 656.8V660.0M889.3 655.4V656.8M889.6 649.8V655.4M889.9 643.5V649.8" stroke="#3a9480" stroke-width="0.9"/><path d="M890.1 637.4V647.8M890.4 634.0V641.1M891.0 640.5V645.2M891.2 637.4V645.1M891.5 634.5V642.3" stroke="#3a9480" stroke-width="0.7"/><path d="M890.7 634.8V649.5M891.8 635.2V643.2M892.1 634.3V641.0" stroke="#dc5a68" stroke-width="0.7"/><path d="M890.1 640.4V643.5M890.4 637.3V640.4M891.0 640.6V643.0M891.2 639.7V640.6M891.5 636.8V639.7" stroke="#3a9480" stroke-width="0.9"/><path d="M890.7 637.3V643.0M891.8 636.8V640.1M892.1 640.1V640.9" stroke="#dc5a68" stroke-width="0.9"/><path d="M892.3 640.0V642.0M893.1 636.3V644.3M893.4 635.7V647.5M894.0 655.6V665.3" stroke="#3a9480" stroke-width="0.7"/><path d="M892.6 638.7V646.5M892.9 634.7V654.6M893.7 635.0V666.5M894.2 651.1V662.6" stroke="#dc5a68" stroke-width="0.7"/><path d="M892.6 640.1V640.8M892.9 640.8V643.4M893.7 638.1V661.3M894.2 657.7V658.9" stroke="#dc5a68" stroke-width="0.9"/><path d="M892.3 640.1V640.9M893.1 638.3V643.4M893.4 638.1V638.7M894.0 657.7V661.3" stroke="#3a9480" stroke-width="0.9"/><path d="M894.5 650.5V660.8M895.3 654.4V664.1M896.2 657.9V675.0" stroke="#3a9480" stroke-width="0.7"/><path d="M894.8 646.3V654.5M895.1 647.2V660.9M895.6 653.4V666.0M895.9 661.6V675.4M896.4 656.5V668.7" stroke="#dc5a68" stroke-width="0.7"/><path d="M894.5 651.4V658.9M895.3 657.5V658.9M896.2 664.2V673.2" stroke="#3a9480" stroke-width="0.9"/><path d="M894.8 651.4V652.0M895.1 651.7V658.9M895.6 657.5V664.1M895.9 664.1V673.2M896.4 664.2V664.8" stroke="#dc5a68" stroke-width="0.9"/><path d="M896.7 646.6V672.7M897.5 661.3V681.2M898.3 656.6V671.2M898.6 656.0V665.8" stroke="#3a9480" stroke-width="0.7"/><path d="M897.0 647.5V668.7M897.2 663.4V676.2M897.8 660.7V680.9M898.1 659.8V681.5" stroke="#dc5a68" stroke-width="0.7"/><path d="M897.0 649.2V664.0M897.2 664.0V671.1M897.8 663.9V664.6M898.1 664.6V668.4" stroke="#dc5a68" stroke-width="0.9"/><path d="M896.7 649.2V664.6M897.5 663.9V671.1M898.3 659.0V668.4M898.6 657.0V659.0" stroke="#3a9480" stroke-width="0.9"/><path d="M899.2 647.0V667.9M899.4 637.7V654.3M899.7 627.1V639.2M900.3 621.1V637.1M900.8 621.4V630.1" stroke="#3a9480" stroke-width="0.7"/><path d="M898.9 655.0V664.6M900.0 624.6V640.2M900.5 620.1V631.2" stroke="#dc5a68" stroke-width="0.7"/><path d="M899.2 649.2V664.4M899.4 638.6V649.2M899.7 632.1V638.6M900.3 623.7V633.1M900.8 626.8V628.9" stroke="#3a9480" stroke-width="0.9"/><path d="M898.9 657.0V664.4M900.0 632.1V633.1M900.5 623.7V628.9" stroke="#dc5a68" stroke-width="0.9"/><path d="M901.1 620.2V627.5M901.3 609.1V624.2M901.6 606.2V617.5M902.4 614.4V623.3" stroke="#3a9480" stroke-width="0.7"/><path d="M901.9 605.2V616.3M902.2 611.6V623.7M902.7 613.8V617.7M903.0 615.3V629.7" stroke="#dc5a68" stroke-width="0.7"/><path d="M901.9 607.3V614.2M902.2 614.2V621.7M902.7 614.7V615.7M903.0 615.7V622.0" stroke="#dc5a68" stroke-width="0.9"/><path d="M901.1 621.4V626.8M901.3 612.8V621.4M901.6 607.3V612.8M902.4 614.7V621.7" stroke="#3a9480" stroke-width="0.9"/><path d="M903.3 612.8V632.2M904.4 618.0V622.4M904.9 606.5V629.8" stroke="#3a9480" stroke-width="0.7"/><path d="M903.5 606.2V626.3M903.8 611.8V628.5M904.1 614.3V628.0M904.6 620.8V635.9M905.2 611.2V627.2" stroke="#dc5a68" stroke-width="0.7"/><path d="M903.3 612.9V622.0M904.4 620.9V622.4M904.9 613.7V626.2" stroke="#3a9480" stroke-width="0.9"/><path d="M903.5 612.9V613.5M903.8 613.2V619.5M904.1 619.5V622.4M904.6 620.9V626.2M905.2 613.7V617.9" stroke="#dc5a68" stroke-width="0.9"/><path d="M905.4 610.3V623.0M905.7 599.7V612.6M906.0 595.0V602.6M906.3 595.5V602.1M906.8 595.4V611.8M907.4 595.1V609.3" stroke="#3a9480" stroke-width="0.7"/><path d="M906.5 595.6V613.8M907.1 599.7V605.7" stroke="#dc5a68" stroke-width="0.7"/><path d="M906.5 597.1V608.6M907.1 599.9V604.8" stroke="#dc5a68" stroke-width="0.9"/><path d="M905.4 610.5V617.9M905.7 602.1V610.5M906.0 600.6V602.1M906.3 597.1V600.6M906.8 599.9V608.6M907.4 596.6V604.8" stroke="#3a9480" stroke-width="0.9"/><path d="M907.9 602.2V610.7M908.7 598.8V615.9M909.3 597.1V617.2" stroke="#3a9480" stroke-width="0.7"/><path d="M907.6 594.7V606.9M908.2 594.4V608.5M908.5 601.6V617.5M909.0 605.1V612.7M909.5 602.2V615.1" stroke="#dc5a68" stroke-width="0.7"/><path d="M907.9 602.3V603.7M908.7 606.4V612.6M909.3 602.4V611.3" stroke="#3a9480" stroke-width="0.9"/><path d="M907.6 596.6V603.7M908.2 602.3V603.1M908.5 603.1V612.6M909.0 606.4V611.3M909.5 602.4V607.1" stroke="#dc5a68" stroke-width="0.9"/><path d="M909.8 602.0V610.4M910.6 601.7V620.0M911.5 604.7V616.2" stroke="#3a9480" stroke-width="0.7"/><path d="M910.1 601.9V612.7M910.4 595.1V623.1M910.9 605.3V611.1M911.2 608.2V612.7M911.7 605.8V611.7" stroke="#dc5a68" stroke-width="0.7"/><path d="M910.1 606.2V606.8M910.4 606.5V619.0M910.9 607.6V609.2M911.2 609.2V610.2M911.7 608.3V610.4" stroke="#dc5a68" stroke-width="0.9"/><path d="M909.8 606.2V607.1M910.6 607.6V619.0M911.5 608.3V610.2" stroke="#3a9480" stroke-width="0.9"/><path d="M912.6 618.8V625.6M912.8 615.6V624.5M913.1 617.6V621.8" stroke="#3a9480" stroke-width="0.7"/><path d="M912.0 605.3V620.1M912.3 611.9V621.3M913.4 616.1V624.1M913.6 614.7V626.0M913.9 621.2V626.1" stroke="#dc5a68" stroke-width="0.7"/><path d="M912.6 620.8V621.4M912.8 619.8V620.8M913.1 618.5V619.8" stroke="#3a9480" stroke-width="0.9"/><path d="M912.0 610.4V615.8M912.3 615.8V620.8M913.4 618.5V620.4M913.6 620.4V622.5M913.9 622.5V623.5" stroke="#dc5a68" stroke-width="0.9"/><path d="M914.5 621.3V632.1M915.3 633.1V644.2M915.6 622.2V639.6M915.8 627.3V630.0" stroke="#3a9480" stroke-width="0.7"/><path d="M914.2 621.3V633.8M914.7 626.8V632.3M915.0 629.3V639.4M916.1 618.3V632.0" stroke="#dc5a68" stroke-width="0.7"/><path d="M914.2 623.5V630.8M914.7 628.3V632.2M915.0 632.2V638.7M916.1 627.6V630.9" stroke="#dc5a68" stroke-width="0.9"/><path d="M914.5 628.3V630.8M915.3 636.0V638.7M915.6 628.0V636.0M915.8 627.6V628.2" stroke="#3a9480" stroke-width="0.9"/><path d="M916.4 623.4V635.3M916.9 626.1V639.9M917.2 629.9V634.8M917.5 623.9V638.5M917.7 627.5V635.6M918.3 627.5V636.4" stroke="#3a9480" stroke-width="0.7"/><path d="M916.7 627.5V632.4M918.0 623.9V633.7" stroke="#dc5a68" stroke-width="0.7"/><path d="M916.4 630.3V630.9M916.9 631.0V631.6M917.2 630.7V631.3M917.5 628.5V630.7M917.7 627.9V628.5M918.3 628.0V630.7" stroke="#3a9480" stroke-width="0.9"/><path d="M916.7 630.3V631.2M918.0 627.9V630.7" stroke="#dc5a68" stroke-width="0.9"/><path d="M919.4 631.0V635.3M920.5 638.5V648.6" stroke="#3a9480" stroke-width="0.7"/><path d="M918.6 626.6V630.7M918.8 626.2V633.7M919.1 626.6V636.1M919.7 631.4V640.4M919.9 632.7V639.2M920.2 635.0V648.6" stroke="#dc5a68" stroke-width="0.7"/><path d="M918.6 628.0V628.6M918.8 628.4V632.4M919.1 632.4V634.2M919.7 631.8V634.8M919.9 634.8V636.3M920.2 636.3V645.7" stroke="#dc5a68" stroke-width="0.9"/><path d="M919.4 631.8V634.2M920.5 641.0V645.7" stroke="#3a9480" stroke-width="0.9"/><path d="M920.8 634.4V646.0M921.6 632.1V644.6M921.8 631.5V637.7M922.1 626.0V640.2M922.7 623.6V636.8" stroke="#3a9480" stroke-width="0.7"/><path d="M921.0 634.6V639.3M921.3 634.7V646.9M922.4 626.1V630.5" stroke="#dc5a68" stroke-width="0.7"/><path d="M920.8 636.2V641.0M921.6 636.4V641.5M921.8 636.1V636.7M922.1 628.7V636.1M922.7 627.3V629.9" stroke="#3a9480" stroke-width="0.9"/><path d="M921.0 636.2V637.9M921.3 637.9V641.5M922.4 628.7V629.9" stroke="#dc5a68" stroke-width="0.9"/><path d="M923.2 624.8V637.7M923.8 616.7V629.4M924.6 621.7V636.5" stroke="#3a9480" stroke-width="0.7"/><path d="M922.9 623.3V647.7M923.5 625.5V630.2M924.0 621.9V628.0M924.3 620.4V630.0M924.9 621.5V629.6" stroke="#dc5a68" stroke-width="0.7"/><path d="M922.9 627.3V633.1M923.5 626.7V628.3M924.0 622.9V623.6M924.3 623.6V629.7M924.9 623.6V625.7" stroke="#dc5a68" stroke-width="0.9"/><path d="M923.2 626.7V633.1M923.8 622.9V628.3M924.6 623.6V629.7" stroke="#3a9480" stroke-width="0.9"/><path d="M925.1 619.8V627.3M925.4 612.4V625.5M925.9 620.7V625.0M926.2 614.5V627.2M926.5 606.5V619.5" stroke="#3a9480" stroke-width="0.7"/><path d="M925.7 621.2V625.4M926.8 608.4V619.7M927.0 617.7V624.4" stroke="#dc5a68" stroke-width="0.7"/><path d="M925.1 624.7V625.7M925.4 622.1V624.7M925.9 621.4V623.4M926.2 615.6V621.4M926.5 610.0V615.6" stroke="#3a9480" stroke-width="0.9"/><path d="M925.7 622.1V623.4M926.8 610.0V618.6M927.0 618.6V624.2" stroke="#dc5a68" stroke-width="0.9"/><path d="M927.3 618.6V629.5M927.6 610.9V622.2M927.9 605.5V622.4M928.7 608.0V618.1" stroke="#3a9480" stroke-width="0.7"/><path d="M928.1 606.6V612.8M928.4 608.4V621.2M928.9 606.6V615.3M929.2 605.8V617.0" stroke="#dc5a68" stroke-width="0.7"/><path d="M928.1 609.1V612.5M928.4 612.5V616.6M928.9 608.0V611.0M929.2 611.0V615.4" stroke="#dc5a68" stroke-width="0.9"/><path d="M927.3 619.2V624.2M927.6 616.7V619.2M927.9 609.1V616.7M928.7 608.0V616.6" stroke="#3a9480" stroke-width="0.9"/><path d="M929.5 610.4V617.0M929.8 608.0V613.1M930.3 606.8V611.8M930.6 605.8V611.8M930.9 607.0V608.8" stroke="#3a9480" stroke-width="0.7"/><path d="M930.0 606.1V614.9M931.1 606.7V609.7M931.4 605.5V616.4" stroke="#dc5a68" stroke-width="0.7"/><path d="M929.5 611.9V615.4M929.8 609.5V611.9M930.3 608.9V610.1M930.6 608.1V608.9M930.9 608.0V608.6" stroke="#3a9480" stroke-width="0.9"/><path d="M930.0 609.5V610.1M931.1 608.0V609.0M931.4 609.0V614.7" stroke="#dc5a68" stroke-width="0.9"/><path d="M931.7 606.4V621.4M932.5 608.0V615.7M933.0 611.4V619.6M933.6 608.0V617.3" stroke="#3a9480" stroke-width="0.7"/><path d="M932.0 606.6V613.8M932.2 608.7V617.8M932.8 606.2V616.9M933.3 610.3V617.0" stroke="#dc5a68" stroke-width="0.7"/><path d="M932.0 607.6V610.7M932.2 610.7V613.7M932.8 608.7V615.9M933.3 614.6V615.2" stroke="#dc5a68" stroke-width="0.9"/><path d="M931.7 607.6V614.7M932.5 608.7V613.7M933.0 614.6V615.9M933.6 612.3V615.1" stroke="#3a9480" stroke-width="0.9"/><path d="M934.7 611.3V625.8M935.5 613.2V627.4" stroke="#3a9480" stroke-width="0.7"/><path d="M933.9 611.8V617.2M934.1 606.6V619.1M934.4 615.6V625.9M935.0 618.2V624.7M935.2 619.8V624.3M935.8 613.9V626.5" stroke="#dc5a68" stroke-width="0.7"/><path d="M934.7 619.4V625.5M935.5 617.9V622.6" stroke="#3a9480" stroke-width="0.9"/><path d="M933.9 612.3V615.4M934.1 615.4V618.3M934.4 618.3V625.5M935.0 619.4V621.1M935.2 621.1V622.6M935.8 617.9V624.6" stroke="#dc5a68" stroke-width="0.9"/><path d="M936.3 623.7V632.8M936.6 616.1V627.4M937.7 622.0V627.5" stroke="#3a9480" stroke-width="0.7"/><path d="M936.1 623.5V630.5M936.9 618.7V621.9M937.1 615.5V629.9M937.4 620.0V631.5M938.0 618.9V626.1" stroke="#dc5a68" stroke-width="0.7"/><path d="M936.1 624.6V626.4M936.9 620.3V621.3M937.1 621.3V622.5M937.4 622.5V627.2M938.0 623.0V623.6" stroke="#dc5a68" stroke-width="0.9"/><path d="M936.3 624.0V626.4M936.6 620.3V624.0M937.7 623.0V627.2" stroke="#3a9480" stroke-width="0.9"/><path d="M938.5 626.0V633.2M938.8 619.0V630.8M939.3 616.6V632.8M939.9 623.9V637.9" stroke="#3a9480" stroke-width="0.7"/><path d="M938.2 616.8V634.1M939.1 620.2V626.2M939.6 622.8V635.5M940.2 622.9V638.8" stroke="#dc5a68" stroke-width="0.7"/><path d="M938.5 628.7V631.0M938.8 623.3V628.7M939.3 624.2V625.8M939.9 626.5V633.8" stroke="#3a9480" stroke-width="0.9"/><path d="M938.2 623.5V631.0M939.1 623.3V625.8M939.6 624.2V633.8M940.2 626.5V631.5" stroke="#dc5a68" stroke-width="0.9"/><path d="M940.4 625.9V634.6M940.7 626.8V634.8M941.8 646.0V649.4M942.1 639.5V651.4M942.3 637.4V651.5" stroke="#3a9480" stroke-width="0.7"/><path d="M941.0 628.2V640.3M941.2 632.7V638.2M941.5 636.2V657.3" stroke="#dc5a68" stroke-width="0.7"/><path d="M941.0 630.4V633.7M941.2 633.7V637.9M941.5 637.9V648.4" stroke="#dc5a68" stroke-width="0.9"/><path d="M940.4 630.7V631.5M940.7 630.4V631.0M941.8 648.4V649.0M942.1 644.2V648.4M942.3 637.5V644.2" stroke="#3a9480" stroke-width="0.9"/><path d="M943.2 634.6V641.2M943.7 637.6V647.1M944.3 639.4V650.5M944.5 637.0V643.5" stroke="#3a9480" stroke-width="0.7"/><path d="M942.6 631.4V640.4M942.9 635.9V648.5M943.4 635.4V650.4M944.0 637.3V650.1" stroke="#dc5a68" stroke-width="0.7"/><path d="M943.2 637.4V640.4M943.7 638.8V643.0M944.3 643.5V646.1M944.5 640.4V643.5" stroke="#3a9480" stroke-width="0.9"/><path d="M942.6 637.5V638.1M942.9 637.7V640.4M943.4 637.4V643.0M944.0 638.8V646.1" stroke="#dc5a68" stroke-width="0.9"/><path d="M944.8 631.2V644.1M945.1 636.8V639.5M945.3 631.8V641.7M945.6 628.2V639.7" stroke="#3a9480" stroke-width="0.7"/><path d="M945.9 627.9V637.0M946.2 629.2V641.5M946.4 634.2V641.7M946.7 635.1V646.6" stroke="#dc5a68" stroke-width="0.7"/><path d="M945.9 631.5V633.9M946.2 633.9V636.5M946.4 636.5V639.0M946.7 639.0V642.9" stroke="#dc5a68" stroke-width="0.9"/><path d="M944.8 639.4V640.4M945.1 638.0V639.4M945.3 636.6V638.0M945.6 631.5V636.6" stroke="#3a9480" stroke-width="0.9"/><path d="M947.0 641.3V644.5M948.6 653.1V656.3M948.9 651.3V655.8" stroke="#3a9480" stroke-width="0.7"/><path d="M947.3 636.7V650.7M947.5 644.7V656.3M947.8 651.5V654.3M948.1 652.6V654.9M948.4 650.7V659.0" stroke="#dc5a68" stroke-width="0.7"/><path d="M947.0 642.3V642.9M948.6 655.2V655.8M948.9 652.3V655.2" stroke="#3a9480" stroke-width="0.9"/><path d="M947.3 642.3V649.6M947.5 649.6V651.8M947.8 651.8V653.7M948.1 653.7V654.3M948.4 653.7V655.2" stroke="#dc5a68" stroke-width="0.9"/><path d="M949.7 647.1V660.7M950.5 643.2V657.5M951.1 635.5V655.8" stroke="#3a9480" stroke-width="0.7"/><path d="M949.2 645.1V658.1M949.4 651.5V659.9M950.0 649.9V659.6M950.3 650.8V657.2M950.8 645.8V650.0" stroke="#dc5a68" stroke-width="0.7"/><path d="M949.2 652.3V654.4M949.4 654.4V658.2M950.0 651.1V651.7M950.3 651.2V655.5M950.8 648.0V648.6" stroke="#dc5a68" stroke-width="0.9"/><path d="M949.7 651.1V658.2M950.5 648.0V655.5M951.1 639.1V648.1" stroke="#3a9480" stroke-width="0.9"/><path d="M951.9 642.8V652.3M952.2 631.9V647.4M952.7 637.2V639.8M953.0 631.6V643.9" stroke="#3a9480" stroke-width="0.7"/><path d="M951.4 638.2V648.8M951.6 644.9V653.5M952.5 638.6V644.7M953.3 632.2V638.6" stroke="#dc5a68" stroke-width="0.7"/><path d="M951.9 644.9V650.9M952.2 639.5V644.9M952.7 637.4V639.6M953.0 633.1V637.4" stroke="#3a9480" stroke-width="0.9"/><path d="M951.4 639.1V645.3M951.6 645.3V650.9M952.5 639.5V640.1M953.3 633.1V635.6" stroke="#dc5a68" stroke-width="0.9"/><path d="M953.5 634.9V637.4M953.8 628.1V636.3M954.4 628.1V643.3M954.9 632.7V640.3" stroke="#3a9480" stroke-width="0.7"/><path d="M954.1 627.2V649.6M954.6 628.3V640.7M955.2 633.5V646.7M955.5 639.6V651.2" stroke="#dc5a68" stroke-width="0.7"/><path d="M954.1 631.2V642.0M954.6 632.5V639.2M955.2 638.1V643.3M955.5 643.3V647.5" stroke="#dc5a68" stroke-width="0.9"/><path d="M953.5 635.1V635.7M953.8 631.2V635.1M954.4 632.5V642.0M954.9 638.1V639.2" stroke="#3a9480" stroke-width="0.9"/><path d="M956.6 655.2V660.3M956.8 656.9V658.5M957.1 645.8V659.0M957.6 641.3V656.5" stroke="#3a9480" stroke-width="0.7"/><path d="M955.7 643.8V658.0M956.0 646.9V661.4M956.3 654.0V664.4M957.4 642.8V652.8" stroke="#dc5a68" stroke-width="0.7"/><path d="M956.6 657.7V659.1M956.8 657.0V657.7M957.1 647.9V657.0M957.6 644.3V649.6" stroke="#3a9480" stroke-width="0.9"/><path d="M955.7 647.5V652.4M956.0 652.4V655.6M956.3 655.6V659.1M957.4 647.9V649.6" stroke="#dc5a68" stroke-width="0.9"/><path d="M958.2 634.9V655.4M958.7 629.4V637.5M959.3 627.5V640.7M959.8 633.3V639.3" stroke="#3a9480" stroke-width="0.7"/><path d="M957.9 638.8V650.4M958.5 630.7V638.2M959.0 628.8V640.6M959.6 626.9V642.7" stroke="#dc5a68" stroke-width="0.7"/><path d="M957.9 644.3V648.2M958.5 635.2V637.1M959.0 632.8V636.2M959.6 628.2V638.1" stroke="#dc5a68" stroke-width="0.9"/><path d="M958.2 635.2V648.2M958.7 632.8V637.1M959.3 628.2V636.2M959.8 637.3V638.1" stroke="#3a9480" stroke-width="0.9"/><path d="M960.1 624.5V641.0M960.4 617.4V630.3M960.7 614.1V625.4M960.9 614.1V623.2M961.5 605.3V624.5M962.0 607.1V619.3" stroke="#3a9480" stroke-width="0.7"/><path d="M961.2 613.7V624.6M961.7 607.4V618.9" stroke="#dc5a68" stroke-width="0.7"/><path d="M960.1 625.7V637.3M960.4 622.5V625.7M960.7 618.3V622.5M960.9 615.1V618.3M961.5 608.8V624.1M962.0 616.7V617.8" stroke="#3a9480" stroke-width="0.9"/><path d="M961.2 615.1V624.1M961.7 608.8V617.8" stroke="#dc5a68" stroke-width="0.9"/><path d="M962.3 611.9V618.7M962.6 607.5V621.2M962.8 602.4V611.0M963.4 606.7V611.8M963.7 608.2V617.1M963.9 602.9V610.0M964.2 598.2V607.4" stroke="#3a9480" stroke-width="0.7"/><path d="M963.1 604.2V611.7" stroke="#dc5a68" stroke-width="0.7"/><path d="M963.1 605.7V611.5" stroke="#dc5a68" stroke-width="0.9"/><path d="M962.3 613.0V616.7M962.6 608.7V613.0M962.8 605.7V608.7M963.4 608.9V611.5M963.7 608.6V609.2M963.9 604.6V608.6M964.2 599.8V604.6" stroke="#3a9480" stroke-width="0.9"/><path d="M964.8 591.5V608.3M965.3 593.1V606.9M966.1 578.3V606.3" stroke="#3a9480" stroke-width="0.7"/><path d="M964.5 593.0V607.4M965.0 596.1V602.7M965.6 593.4V605.6M965.8 597.6V607.9M966.4 574.6V597.5" stroke="#dc5a68" stroke-width="0.7"/><path d="M964.8 596.2V603.2M965.3 596.8V602.3M966.1 584.3V605.4" stroke="#3a9480" stroke-width="0.9"/><path d="M964.5 599.8V603.2M965.0 596.2V602.3M965.6 596.8V598.9M965.8 598.9V605.4M966.4 584.3V592.5" stroke="#dc5a68" stroke-width="0.9"/><path d="M966.9 577.5V603.5M967.5 580.6V596.4M968.3 584.5V590.7M968.6 574.9V588.0" stroke="#3a9480" stroke-width="0.7"/><path d="M966.7 589.2V607.2M967.2 583.3V591.7M967.8 583.3V594.6M968.0 584.1V590.5" stroke="#dc5a68" stroke-width="0.7"/><path d="M966.7 592.5V594.7M967.2 587.2V589.6M967.8 586.0V586.7M968.0 586.7V589.4" stroke="#dc5a68" stroke-width="0.9"/><path d="M966.9 587.2V594.7M967.5 586.0V589.6M968.3 586.4V589.4M968.6 580.5V586.4" stroke="#3a9480" stroke-width="0.9"/><path d="M968.9 575.0V582.3M969.7 577.2V585.3M969.9 572.6V583.1M970.5 568.0V579.6" stroke="#3a9480" stroke-width="0.7"/><path d="M969.1 575.1V584.5M969.4 573.7V596.3M970.2 572.1V580.0M970.8 567.0V576.8" stroke="#dc5a68" stroke-width="0.7"/><path d="M968.9 576.6V580.5M969.7 577.9V583.4M969.9 574.1V577.9M970.5 571.6V576.6" stroke="#3a9480" stroke-width="0.9"/><path d="M969.1 576.6V577.5M969.4 577.5V583.4M970.2 574.1V576.6M970.8 571.6V574.5" stroke="#dc5a68" stroke-width="0.9"/><path d="M971.6 570.0V584.4M972.1 581.2V587.2M972.4 575.3V587.0M972.7 571.9V578.6M973.0 568.0V575.7" stroke="#3a9480" stroke-width="0.7"/><path d="M971.0 574.1V576.6M971.3 573.1V580.7M971.9 569.4V593.2" stroke="#dc5a68" stroke-width="0.7"/><path d="M971.0 574.5V575.1M971.3 574.8V578.9M971.9 572.1V583.7" stroke="#dc5a68" stroke-width="0.9"/><path d="M971.6 572.1V578.9M972.1 582.1V583.7M972.4 577.2V582.1M972.7 574.4V577.2M973.0 569.6V574.4" stroke="#3a9480" stroke-width="0.9"/><path d="M973.8 580.4V586.7M974.0 568.4V582.8M974.3 568.9V585.7M974.9 568.2V586.5M975.1 568.1V583.5" stroke="#3a9480" stroke-width="0.7"/><path d="M973.2 567.6V582.3M973.5 575.8V587.6M974.6 567.4V586.5" stroke="#dc5a68" stroke-width="0.7"/><path d="M973.8 581.5V584.6M974.0 580.2V581.5M974.3 570.0V580.2M974.9 573.0V584.7M975.1 569.3V573.0" stroke="#3a9480" stroke-width="0.9"/><path d="M973.2 569.6V580.1M973.5 580.1V584.6M974.6 570.0V584.7" stroke="#dc5a68" stroke-width="0.9"/><path d="M975.7 568.9V580.7M976.5 574.6V583.8M976.8 567.8V582.2M977.3 579.2V586.3" stroke="#3a9480" stroke-width="0.7"/><path d="M975.4 568.0V576.9M976.0 570.5V581.9M976.2 575.4V582.5M977.1 574.6V581.2" stroke="#dc5a68" stroke-width="0.7"/><path d="M975.4 569.3V576.0M976.0 571.9V577.7M976.2 577.7V582.0M977.1 575.5V580.9" stroke="#dc5a68" stroke-width="0.9"/><path d="M975.7 571.9V576.0M976.5 576.1V582.0M976.8 575.5V576.1M977.3 580.2V580.9" stroke="#3a9480" stroke-width="0.9"/><path d="M978.1 577.1V584.9M978.4 574.9V586.7M978.7 568.4V575.5M979.2 570.4V587.4M979.5 569.3V576.4" stroke="#3a9480" stroke-width="0.7"/><path d="M977.6 574.8V586.4M977.9 575.9V587.0M979.0 572.8V582.2" stroke="#dc5a68" stroke-width="0.7"/><path d="M978.1 582.7V583.3M978.4 575.4V582.7M978.7 574.6V575.4M979.2 574.9V580.8M979.5 569.3V574.9" stroke="#3a9480" stroke-width="0.9"/><path d="M977.6 580.2V582.4M977.9 582.4V583.0M979.0 574.6V580.8" stroke="#dc5a68" stroke-width="0.9"/><path d="M979.8 550.6V573.8M980.9 550.6V564.2" stroke="#3a9480" stroke-width="0.7"/><path d="M980.1 551.1V558.1M980.3 549.0V567.6M980.6 555.5V566.6M981.1 551.2V565.8M981.4 558.0V563.0M981.7 549.6V569.1" stroke="#dc5a68" stroke-width="0.7"/><path d="M980.1 551.7V554.3M980.3 554.3V557.1M980.6 557.1V563.6M981.1 559.8V562.2M981.4 562.2V562.8M981.7 562.3V568.2" stroke="#dc5a68" stroke-width="0.9"/><path d="M979.8 551.7V569.3M980.9 559.8V563.6" stroke="#3a9480" stroke-width="0.9"/><path d="M982.0 551.8V570.5M982.2 560.0V571.2M982.8 557.5V566.3" stroke="#3a9480" stroke-width="0.7"/><path d="M982.5 560.8V576.2M983.1 555.7V573.5M983.3 552.9V572.8M983.6 565.9V577.6M983.9 573.8V583.5" stroke="#dc5a68" stroke-width="0.7"/><path d="M982.0 561.8V568.2M982.2 561.1V561.8M982.8 558.4V565.7" stroke="#3a9480" stroke-width="0.9"/><path d="M982.5 561.1V565.7M983.1 558.4V569.1M983.3 569.1V570.2M983.6 570.2V575.5M983.9 575.5V582.2" stroke="#dc5a68" stroke-width="0.9"/><path d="M984.7 581.6V592.2M985.2 578.5V591.9M985.8 588.7V593.0" stroke="#3a9480" stroke-width="0.7"/><path d="M984.2 579.9V588.4M984.4 582.3V593.7M985.0 576.6V593.2M985.5 583.2V593.3M986.1 588.0V594.0" stroke="#dc5a68" stroke-width="0.7"/><path d="M984.2 582.2V585.7M984.4 585.7V591.4M985.0 584.7V589.8M985.5 588.3V589.2M986.1 588.8V591.2" stroke="#dc5a68" stroke-width="0.9"/><path d="M984.7 584.7V591.4M985.2 588.3V589.8M985.8 588.8V589.4" stroke="#3a9480" stroke-width="0.9"/><path d="M986.3 581.8V592.9M986.9 582.8V593.3M987.2 571.1V590.4M987.4 563.8V580.0M987.7 562.2V578.9M988.0 546.8V565.6" stroke="#3a9480" stroke-width="0.7"/><path d="M986.6 583.3V593.4M988.3 549.4V571.5" stroke="#dc5a68" stroke-width="0.7"/><path d="M986.3 583.8V591.2M986.9 589.1V591.9M987.2 572.5V589.1M987.4 570.5V572.5M987.7 564.5V570.5M988.0 553.7V564.5" stroke="#3a9480" stroke-width="0.9"/><path d="M986.6 583.8V591.9M988.3 553.7V571.3" stroke="#dc5a68" stroke-width="0.9"/><path d="M988.8 557.2V576.2M989.1 557.0V564.7M989.3 556.8V568.0M989.6 549.4V561.9M989.9 542.2V563.5M990.4 547.5V562.1" stroke="#3a9480" stroke-width="0.7"/><path d="M988.5 570.9V574.5M990.2 543.1V558.0" stroke="#dc5a68" stroke-width="0.7"/><path d="M988.5 571.3V572.1M990.2 553.1V557.7" stroke="#dc5a68" stroke-width="0.9"/><path d="M988.8 561.4V572.1M989.1 560.8V561.4M989.3 559.8V560.8M989.6 557.3V559.8M989.9 553.1V557.3M990.4 553.7V557.7" stroke="#3a9480" stroke-width="0.9"/><path d="M990.7 545.1V557.0M991.0 535.8V548.0M991.3 531.3V545.4M992.1 533.4V546.0M992.4 525.0V536.8M992.6 514.0V531.3" stroke="#3a9480" stroke-width="0.7"/><path d="M991.5 532.1V535.6M991.8 531.9V538.6" stroke="#dc5a68" stroke-width="0.7"/><path d="M990.7 547.6V553.7M991.0 540.4V547.6M991.3 533.2V540.4M992.1 536.5V538.3M992.4 528.8V536.5M992.6 515.1V528.8" stroke="#3a9480" stroke-width="0.9"/><path d="M991.5 533.2V534.2M991.8 534.2V538.3" stroke="#dc5a68" stroke-width="0.9"/><path d="M993.4 508.1V533.9M993.7 508.5V516.0M994.3 511.1V517.4M994.5 497.9V514.0" stroke="#3a9480" stroke-width="0.7"/><path d="M992.9 511.2V526.0M993.2 512.7V531.1M994.0 511.7V521.9M994.8 495.7V506.3" stroke="#dc5a68" stroke-width="0.7"/><path d="M992.9 515.1V519.9M993.2 519.9V521.0M994.0 512.9V516.0M994.8 498.9V506.2" stroke="#dc5a68" stroke-width="0.9"/><path d="M993.4 514.9V521.0M993.7 512.9V514.9M994.3 513.3V516.0M994.5 498.9V513.3" stroke="#3a9480" stroke-width="0.9"/><path d="M995.1 484.5V507.6M995.9 482.0V497.5M996.5 484.5V498.2M996.7 483.2V491.3" stroke="#3a9480" stroke-width="0.7"/><path d="M995.4 484.9V495.3M995.6 481.5V495.8M996.2 484.8V495.9M997.0 484.0V495.7" stroke="#dc5a68" stroke-width="0.7"/><path d="M995.1 485.1V506.2M995.9 488.6V491.9M996.5 491.2V494.1M996.7 486.5V491.2" stroke="#3a9480" stroke-width="0.9"/><path d="M995.4 485.1V487.0M995.6 487.0V491.9M996.2 488.6V494.1M997.0 486.5V488.9" stroke="#dc5a68" stroke-width="0.9"/><path d="M997.5 478.9V490.3M997.8 471.9V482.6M998.1 471.0V480.9M999.2 483.9V495.4" stroke="#3a9480" stroke-width="0.7"/><path d="M997.3 487.3V497.0M998.4 470.9V479.3M998.6 475.2V487.0M998.9 475.9V492.1" stroke="#dc5a68" stroke-width="0.7"/><path d="M997.3 488.9V489.5M998.4 473.4V476.4M998.6 476.4V482.5M998.9 482.5V489.4" stroke="#dc5a68" stroke-width="0.9"/><path d="M997.5 480.4V489.3M997.8 476.0V480.4M998.1 473.4V476.0M999.2 487.7V489.4" stroke="#3a9480" stroke-width="0.9"/><path d="M1000.6 520.9V527.4M1000.8 508.9V528.0M1001.4 503.4V521.5" stroke="#3a9480" stroke-width="0.7"/><path d="M999.5 482.4V504.2M999.7 497.9V521.1M1000.0 494.6V522.6M1000.3 516.3V527.7M1001.1 509.1V526.5" stroke="#dc5a68" stroke-width="0.7"/><path d="M1000.6 524.1V524.7M1000.8 514.1V524.1M1001.4 507.0V516.3" stroke="#3a9480" stroke-width="0.9"/><path d="M999.5 487.7V499.7M999.7 499.7V508.6M1000.0 508.6V522.1M1000.3 522.1V524.5M1001.1 514.1V516.3" stroke="#dc5a68" stroke-width="0.9"/><path d="M1001.9 496.9V512.8M1002.7 490.3V518.5M1003.6 502.1V512.1" stroke="#3a9480" stroke-width="0.7"/><path d="M1001.6 504.7V511.0M1002.2 500.0V515.2M1002.5 502.8V515.7M1003.0 498.0V507.1M1003.3 503.8V511.7" stroke="#dc5a68" stroke-width="0.7"/><path d="M1001.6 507.0V508.3M1002.2 501.5V514.5M1002.5 514.5V515.6M1003.0 498.6V505.3M1003.3 505.3V511.0" stroke="#dc5a68" stroke-width="0.9"/><path d="M1001.9 501.5V508.3M1002.7 498.6V515.6M1003.6 510.1V511.0" stroke="#3a9480" stroke-width="0.9"/><path d="M1004.1 508.1V519.1M1004.7 494.7V515.8M1005.2 516.3V524.6M1005.7 518.6V526.6" stroke="#3a9480" stroke-width="0.7"/><path d="M1003.8 504.5V516.6M1004.4 502.8V516.9M1004.9 503.0V527.0M1005.5 509.7V526.6" stroke="#dc5a68" stroke-width="0.7"/><path d="M1004.1 509.8V510.9M1004.7 504.6V513.7M1005.2 520.1V521.1M1005.7 523.3V526.3" stroke="#3a9480" stroke-width="0.9"/><path d="M1003.8 510.1V510.9M1004.4 509.8V513.7M1004.9 504.6V521.1M1005.5 520.1V526.3" stroke="#dc5a68" stroke-width="0.9"/><path d="M1006.3 516.0V532.9M1007.7 535.4V544.2" stroke="#3a9480" stroke-width="0.7"/><path d="M1006.0 520.7V530.0M1006.6 518.6V531.2M1006.8 523.5V537.4M1007.1 527.7V540.7M1007.4 527.3V543.4M1007.9 534.8V537.3" stroke="#dc5a68" stroke-width="0.7"/><path d="M1006.0 523.3V527.3M1006.6 520.0V524.9M1006.8 524.9V529.8M1007.1 529.8V535.3M1007.4 535.3V539.3M1007.9 535.6V536.3" stroke="#dc5a68" stroke-width="0.9"/><path d="M1006.3 520.0V527.3M1007.7 535.6V539.3" stroke="#3a9480" stroke-width="0.9"/><path d="M1008.2 523.7V538.4M1009.3 525.1V543.5M1009.6 522.2V529.8" stroke="#3a9480" stroke-width="0.7"/><path d="M1008.5 521.4V537.6M1008.8 525.1V535.8M1009.0 533.7V544.0M1009.8 522.0V527.5M1010.1 526.9V532.8" stroke="#dc5a68" stroke-width="0.7"/><path d="M1008.2 526.1V536.3M1009.3 527.7V542.4M1009.6 524.0V527.7" stroke="#3a9480" stroke-width="0.9"/><path d="M1008.5 526.1V527.6M1008.8 527.6V534.4M1009.0 534.4V542.4M1009.8 524.0V527.0M1010.1 527.0V529.2" stroke="#dc5a68" stroke-width="0.9"/><path d="M1010.7 528.3V531.6M1011.8 533.2V542.7M1012.3 538.3V542.7" stroke="#3a9480" stroke-width="0.7"/><path d="M1010.4 527.0V534.0M1010.9 521.3V540.0M1011.2 534.1V543.5M1011.5 538.8V544.0M1012.0 530.8V543.8" stroke="#dc5a68" stroke-width="0.7"/><path d="M1010.4 529.2V531.4M1010.9 530.0V538.2M1011.2 538.2V539.6M1011.5 539.6V541.2M1012.0 535.6V541.4" stroke="#dc5a68" stroke-width="0.9"/><path d="M1010.7 530.0V531.4M1011.8 535.6V541.2M1012.3 541.3V541.9" stroke="#3a9480" stroke-width="0.9"/><path d="M1012.9 517.0V543.5M1013.1 510.3V521.1M1013.4 513.1V517.8M1014.5 527.1V540.7" stroke="#3a9480" stroke-width="0.7"/><path d="M1012.6 529.4V543.5M1013.7 512.8V516.0M1013.9 510.6V535.1M1014.2 523.0V538.8" stroke="#dc5a68" stroke-width="0.7"/><path d="M1012.9 520.1V542.1M1013.1 515.7V520.1M1013.4 513.8V515.7M1014.5 527.4V534.4" stroke="#3a9480" stroke-width="0.9"/><path d="M1012.6 541.3V542.1M1013.7 513.8V515.4M1013.9 515.4V526.1M1014.2 526.1V534.4" stroke="#dc5a68" stroke-width="0.9"/><path d="M1014.8 510.1V529.4M1015.0 509.2V517.4M1015.3 505.6V513.4M1015.6 501.9V512.4M1015.9 502.9V513.1M1016.4 498.5V519.2M1016.7 486.0V507.0" stroke="#3a9480" stroke-width="0.7"/><path d="M1016.1 505.2V514.1" stroke="#dc5a68" stroke-width="0.7"/><path d="M1016.1 506.0V511.2" stroke="#dc5a68" stroke-width="0.9"/><path d="M1014.8 516.4V527.4M1015.0 511.5V516.4M1015.3 507.5V511.5M1015.6 507.0V507.6M1015.9 506.0V507.0M1016.4 506.8V511.2M1016.7 486.9V506.8" stroke="#3a9480" stroke-width="0.9"/><path d="M1017.5 487.4V496.9M1017.8 485.6V495.1M1018.0 481.5V492.6M1018.3 481.0V493.0M1018.9 479.0V489.0" stroke="#3a9480" stroke-width="0.7"/><path d="M1017.0 480.6V494.9M1017.2 494.3V501.8M1018.6 481.4V491.4" stroke="#dc5a68" stroke-width="0.7"/><path d="M1017.5 493.6V496.1M1017.8 488.6V493.6M1018.0 484.9V488.6M1018.3 483.4V484.9M1018.9 484.0V488.7" stroke="#3a9480" stroke-width="0.9"/><path d="M1017.0 486.9V494.7M1017.2 494.7V496.1M1018.6 483.4V488.7" stroke="#dc5a68" stroke-width="0.9"/><path d="M1019.4 484.3V491.7M1019.7 485.5V490.8M1020.2 476.2V493.8M1021.1 486.8V499.4" stroke="#3a9480" stroke-width="0.7"/><path d="M1019.1 477.2V494.0M1020.0 480.9V494.2M1020.5 485.1V501.1M1020.8 492.8V501.4" stroke="#dc5a68" stroke-width="0.7"/><path d="M1019.1 484.0V490.7M1020.0 486.3V492.3M1020.5 485.9V494.0M1020.8 494.0V497.1" stroke="#dc5a68" stroke-width="0.9"/><path d="M1019.4 489.3V490.7M1019.7 486.3V489.3M1020.2 485.9V492.3M1021.1 488.9V497.1" stroke="#3a9480" stroke-width="0.9"/><path d="M1021.9 498.0V506.5M1022.4 499.1V510.2M1022.7 500.4V513.7M1023.2 499.6V510.7" stroke="#3a9480" stroke-width="0.7"/><path d="M1021.3 487.4V501.2M1021.6 490.5V505.2M1022.1 498.0V516.3M1023.0 500.9V511.0" stroke="#dc5a68" stroke-width="0.7"/><path d="M1021.9 499.0V503.4M1022.4 506.6V509.6M1022.7 504.4V506.6M1023.2 500.5V507.9" stroke="#3a9480" stroke-width="0.9"/><path d="M1021.3 488.9V490.5M1021.6 490.5V503.4M1022.1 499.0V509.6M1023.0 504.4V507.9" stroke="#dc5a68" stroke-width="0.9"/><path d="M1023.8 499.5V504.3M1024.1 494.2V511.1M1025.4 509.6V518.1" stroke="#3a9480" stroke-width="0.7"/><path d="M1023.5 499.3V505.8M1024.3 494.3V505.0M1024.6 492.6V507.6M1024.9 503.7V516.1M1025.2 512.7V517.5" stroke="#dc5a68" stroke-width="0.7"/><path d="M1023.5 500.5V502.8M1024.3 497.4V499.5M1024.6 499.5V504.6M1024.9 504.6V513.9M1025.2 513.9V514.5" stroke="#dc5a68" stroke-width="0.9"/><path d="M1023.8 500.2V502.8M1024.1 497.4V500.2M1025.4 513.6V514.5" stroke="#3a9480" stroke-width="0.9"/><path d="M1025.7 510.7V517.5M1026.2 502.6V518.2M1026.8 511.7V528.2M1027.3 514.9V531.1M1027.6 510.8V522.4" stroke="#3a9480" stroke-width="0.7"/><path d="M1026.0 511.8V516.4M1026.5 507.2V523.8M1027.1 513.1V525.6" stroke="#dc5a68" stroke-width="0.7"/><path d="M1025.7 513.0V513.6M1026.2 508.7V514.9M1026.8 516.3V516.9M1027.3 518.3V525.4M1027.6 510.8V518.3" stroke="#3a9480" stroke-width="0.9"/><path d="M1026.0 513.0V514.9M1026.5 508.7V516.7M1027.1 516.3V525.4" stroke="#dc5a68" stroke-width="0.9"/><path d="M1027.9 508.9V518.6M1028.2 505.9V513.1M1029.5 511.4V535.2" stroke="#3a9480" stroke-width="0.7"/><path d="M1028.4 503.6V522.6M1028.7 520.5V527.5M1029.0 521.3V533.2M1029.3 518.7V535.4M1029.8 515.3V542.7" stroke="#dc5a68" stroke-width="0.7"/><path d="M1028.4 507.0V520.5M1028.7 520.5V522.9M1029.0 522.9V524.4M1029.3 524.4V527.4M1029.8 519.7V525.0" stroke="#dc5a68" stroke-width="0.9"/><path d="M1027.9 510.0V510.8M1028.2 507.0V510.0M1029.5 519.7V527.4" stroke="#3a9480" stroke-width="0.9"/><path d="M1030.3 527.1V531.1M1030.9 514.0V543.0M1031.4 517.3V530.2" stroke="#3a9480" stroke-width="0.7"/><path d="M1030.1 524.8V533.8M1030.6 526.5V541.6M1031.2 521.1V531.4M1031.7 524.3V533.6M1032.0 528.2V540.7" stroke="#dc5a68" stroke-width="0.7"/><path d="M1030.3 527.8V529.1M1030.9 521.4V535.4M1031.4 526.4V528.9" stroke="#3a9480" stroke-width="0.9"/><path d="M1030.1 525.0V529.1M1030.6 527.8V535.4M1031.2 521.4V528.9M1031.7 526.4V532.0M1032.0 532.0V533.1" stroke="#dc5a68" stroke-width="0.9"/><path d="M1032.3 523.6V538.5M1032.5 515.3V525.1M1033.1 510.2V528.6M1033.9 519.2V537.4M1034.2 513.3V529.4" stroke="#3a9480" stroke-width="0.7"/><path d="M1032.8 506.2V524.6M1033.4 507.3V516.0M1033.6 509.7V529.0" stroke="#dc5a68" stroke-width="0.7"/><path d="M1032.8 516.3V522.2M1033.4 512.0V514.8M1033.6 514.8V528.6" stroke="#dc5a68" stroke-width="0.9"/><path d="M1032.3 524.2V533.1M1032.5 516.3V524.2M1033.1 512.0V522.2M1033.9 526.9V528.6M1034.2 521.2V526.9" stroke="#3a9480" stroke-width="0.9"/><path d="M1034.7 498.9V524.6M1035.0 497.2V505.2M1036.4 520.7V528.0" stroke="#3a9480" stroke-width="0.7"/><path d="M1034.4 518.9V531.1M1035.3 499.0V509.0M1035.5 496.6V516.7M1035.8 511.4V526.4M1036.1 521.9V531.8" stroke="#dc5a68" stroke-width="0.7"/><path d="M1034.7 502.8V523.1M1035.0 502.3V502.9M1036.4 526.7V528.0" stroke="#3a9480" stroke-width="0.9"/><path d="M1034.4 521.2V523.1M1035.3 502.3V503.0M1035.5 503.0V513.1M1035.8 513.1V524.2M1036.1 524.2V528.0" stroke="#dc5a68" stroke-width="0.9"/><path d="M1037.4 551.4V557.7M1038.3 562.3V598.2M1038.5 570.4V578.5" stroke="#3a9480" stroke-width="0.7"/><path d="M1036.6 523.2V545.6M1036.9 541.0V554.2M1037.2 551.3V561.8M1037.7 548.6V571.8M1038.0 567.2V580.1" stroke="#dc5a68" stroke-width="0.7"/><path d="M1036.6 526.7V543.0M1036.9 543.0V553.7M1037.2 553.7V557.2M1037.7 555.2V567.5M1038.0 567.5V573.1" stroke="#dc5a68" stroke-width="0.9"/><path d="M1037.4 555.2V557.2M1038.3 572.9V573.5M1038.5 571.8V572.9" stroke="#3a9480" stroke-width="0.9"/><path d="M1038.8 566.3V572.4M1039.1 557.4V571.6M1039.4 549.2V561.9M1039.9 552.3V566.2M1040.5 557.4V572.0" stroke="#3a9480" stroke-width="0.7"/><path d="M1039.6 541.5V561.2M1040.2 555.4V574.1M1040.7 555.7V567.6" stroke="#dc5a68" stroke-width="0.7"/><path d="M1038.8 567.1V571.8M1039.1 557.8V567.1M1039.4 551.4V557.8M1039.9 557.7V559.7M1040.5 558.3V567.6" stroke="#3a9480" stroke-width="0.9"/><path d="M1039.6 551.4V559.7M1040.2 557.7V567.6M1040.7 558.3V558.9" stroke="#dc5a68" stroke-width="0.9"/><path d="M1041.3 541.9V565.1M1042.6 549.5V566.7" stroke="#3a9480" stroke-width="0.7"/><path d="M1041.0 552.9V569.1M1041.5 544.9V555.0M1041.8 542.0V560.7M1042.1 550.7V556.9M1042.4 554.7V568.6M1042.9 551.4V558.0" stroke="#dc5a68" stroke-width="0.7"/><path d="M1041.0 558.4V562.8M1041.5 546.7V550.8M1041.8 550.8V553.5M1042.1 553.5V555.6M1042.4 555.6V562.1M1042.9 552.7V555.4" stroke="#dc5a68" stroke-width="0.9"/><path d="M1041.3 546.7V562.8M1042.6 552.7V562.1" stroke="#3a9480" stroke-width="0.9"/><path d="M1043.2 551.9V560.5M1043.7 541.0V556.7M1044.8 549.4V565.3" stroke="#3a9480" stroke-width="0.7"/><path d="M1043.5 548.5V555.8M1044.0 541.4V560.0M1044.3 550.0V558.5M1044.6 554.3V572.3M1045.1 552.6V565.9" stroke="#dc5a68" stroke-width="0.7"/><path d="M1043.2 552.8V555.4M1043.7 541.5V554.5M1044.8 557.5V564.7" stroke="#3a9480" stroke-width="0.9"/><path d="M1043.5 552.8V554.5M1044.0 541.5V551.4M1044.3 551.4V556.1M1044.6 556.1V564.7M1045.1 557.5V563.5" stroke="#dc5a68" stroke-width="0.9"/><path d="M1045.6 561.1V568.3M1047.0 577.1V594.6" stroke="#3a9480" stroke-width="0.7"/><path d="M1045.4 554.0V569.1M1045.9 554.6V566.1M1046.2 559.9V576.4M1046.5 571.4V581.7M1046.7 575.5V590.1M1047.3 581.2V590.3" stroke="#dc5a68" stroke-width="0.7"/><path d="M1045.4 563.5V566.1M1045.9 564.0V564.7M1046.2 564.7V572.3M1046.5 572.3V578.1M1046.7 578.1V585.9M1047.3 584.5V588.8" stroke="#dc5a68" stroke-width="0.9"/><path d="M1045.6 564.0V566.1M1047.0 584.5V585.9" stroke="#3a9480" stroke-width="0.9"/><path d="M1047.6 572.6V594.6M1047.8 569.4V588.4M1048.4 565.5V582.8M1048.7 558.7V571.9M1049.2 569.1V578.6" stroke="#3a9480" stroke-width="0.7"/><path d="M1048.1 568.6V580.9M1048.9 557.7V577.8M1049.5 569.2V576.7" stroke="#dc5a68" stroke-width="0.7"/><path d="M1047.6 578.0V588.8M1047.8 569.8V578.0M1048.4 566.8V577.7M1048.7 559.6V566.8M1049.2 572.9V573.5" stroke="#3a9480" stroke-width="0.9"/><path d="M1048.1 569.8V577.7M1048.9 559.6V573.5M1049.5 572.9V575.2" stroke="#dc5a68" stroke-width="0.9"/><path d="M1049.7 569.6V583.7M1050.3 569.9V584.2M1050.6 557.1V572.4M1050.8 557.3V567.9M1051.7 542.5V565.7" stroke="#3a9480" stroke-width="0.7"/><path d="M1050.0 568.7V583.4M1051.1 555.5V563.4M1051.4 552.8V564.9" stroke="#dc5a68" stroke-width="0.7"/><path d="M1050.0 570.0V578.0M1051.1 557.3V559.2M1051.4 559.2V559.8" stroke="#dc5a68" stroke-width="0.9"/><path d="M1049.7 570.0V575.2M1050.3 570.0V578.0M1050.6 564.5V570.0M1050.8 557.3V564.5M1051.7 552.1V559.5" stroke="#3a9480" stroke-width="0.9"/><path d="M1052.2 554.9V569.2M1053.0 558.4V569.3M1053.3 548.8V562.3M1053.6 544.9V559.0" stroke="#3a9480" stroke-width="0.7"/><path d="M1051.9 550.2V568.8M1052.5 550.8V569.9M1052.8 560.5V568.0M1053.8 552.6V566.9" stroke="#dc5a68" stroke-width="0.7"/><path d="M1052.2 559.2V566.4M1053.0 561.0V563.6M1053.3 555.0V561.0M1053.6 552.8V555.0" stroke="#3a9480" stroke-width="0.9"/><path d="M1051.9 552.1V566.4M1052.5 559.2V563.2M1052.8 563.2V563.8M1053.8 552.8V560.6" stroke="#dc5a68" stroke-width="0.9"/><path d="M1054.4 568.1V572.1M1055.2 569.8V582.1M1055.8 567.5V575.5" stroke="#3a9480" stroke-width="0.7"/><path d="M1054.1 550.6V572.3M1054.7 567.2V572.4M1054.9 566.8V582.6M1055.5 570.5V574.1M1056.0 566.0V577.4" stroke="#dc5a68" stroke-width="0.7"/><path d="M1054.1 560.6V568.9M1054.7 568.5V569.3M1054.9 569.3V579.6M1055.5 572.6V573.2M1056.0 568.2V569.6" stroke="#dc5a68" stroke-width="0.9"/><path d="M1054.4 568.5V569.1M1055.2 572.6V579.6M1055.8 568.2V572.6" stroke="#3a9480" stroke-width="0.9"/><path d="M1056.3 567.3V570.3M1056.6 563.0V573.7M1056.9 545.9V568.5M1057.4 546.7V559.8" stroke="#3a9480" stroke-width="0.7"/><path d="M1057.1 547.9V564.2M1057.7 546.9V554.8M1057.9 546.1V558.1M1058.2 551.7V566.7" stroke="#dc5a68" stroke-width="0.7"/><path d="M1056.3 568.6V569.6M1056.6 566.2V568.6M1056.9 550.0V566.2M1057.4 549.3V556.7" stroke="#3a9480" stroke-width="0.9"/><path d="M1057.1 550.0V556.7M1057.7 549.3V549.9M1057.9 549.8V557.8M1058.2 557.8V558.6" stroke="#dc5a68" stroke-width="0.9"/><path d="M1058.8 548.7V562.9M1059.3 548.7V560.9M1059.9 552.3V559.3M1060.1 545.6V564.2M1060.4 546.2V553.4" stroke="#3a9480" stroke-width="0.7"/><path d="M1058.5 557.5V560.7M1059.0 550.0V562.6M1059.6 548.7V559.8" stroke="#dc5a68" stroke-width="0.7"/><path d="M1058.5 558.6V559.4M1059.0 550.5V557.2M1059.6 553.9V554.8" stroke="#dc5a68" stroke-width="0.9"/><path d="M1058.8 550.5V559.4M1059.3 553.9V557.2M1059.9 553.2V554.8M1060.1 552.7V553.3M1060.4 550.6V552.7" stroke="#3a9480" stroke-width="0.9"/><path d="M1061.0 545.7V560.2M1061.2 546.1V556.0M1062.0 558.5V565.0M1062.3 553.6V563.4" stroke="#3a9480" stroke-width="0.7"/><path d="M1060.7 549.7V558.5M1061.5 548.0V566.1M1061.8 555.9V568.1M1062.6 551.8V568.2" stroke="#dc5a68" stroke-width="0.7"/><path d="M1061.0 550.6V558.1M1061.2 548.5V550.6M1062.0 559.3V563.0M1062.3 555.6V559.3" stroke="#3a9480" stroke-width="0.9"/><path d="M1060.7 550.6V558.1M1061.5 548.5V560.4M1061.8 560.4V563.0M1062.6 555.6V562.3" stroke="#dc5a68" stroke-width="0.9"/><path d="M1062.9 556.8V563.0M1063.4 563.6V576.0M1063.7 556.6V564.7M1064.0 547.7V560.5M1064.2 534.2V552.6M1064.5 529.3V539.9M1064.8 530.2V534.6" stroke="#3a9480" stroke-width="0.7"/><path d="M1063.1 556.8V575.4" stroke="#dc5a68" stroke-width="0.7"/><path d="M1063.1 560.0V574.0" stroke="#dc5a68" stroke-width="0.9"/><path d="M1062.9 560.0V562.3M1063.4 563.7V574.0M1063.7 556.6V563.7M1064.0 551.8V556.6M1064.2 536.1V551.8M1064.5 531.2V536.1M1064.8 530.6V531.2" stroke="#3a9480" stroke-width="0.9"/><path d="M1065.1 511.0V531.6M1065.3 506.0V515.8M1065.6 498.6V516.2M1066.1 501.0V511.9M1066.4 497.5V510.6M1067.0 495.9V509.8" stroke="#3a9480" stroke-width="0.7"/><path d="M1065.9 497.6V511.9M1066.7 491.2V508.6" stroke="#dc5a68" stroke-width="0.7"/><path d="M1065.1 512.6V530.6M1065.3 511.3V512.6M1065.6 503.0V511.3M1066.1 507.8V508.5M1066.4 498.1V507.8M1067.0 496.5V505.1" stroke="#3a9480" stroke-width="0.9"/><path d="M1065.9 503.0V508.5M1066.7 498.1V505.1" stroke="#dc5a68" stroke-width="0.9"/><path d="M1067.2 489.4V498.6M1067.8 497.9V507.3M1068.1 493.6V507.0M1068.3 493.2V494.6" stroke="#3a9480" stroke-width="0.7"/><path d="M1067.5 490.2V515.8M1068.6 492.5V501.4M1068.9 488.9V504.8M1069.2 494.3V506.1" stroke="#dc5a68" stroke-width="0.7"/><path d="M1067.5 492.2V503.7M1068.6 493.8V494.4M1068.9 493.9V494.5M1069.2 494.4V503.9" stroke="#dc5a68" stroke-width="0.9"/><path d="M1067.2 492.2V496.5M1067.8 503.0V503.7M1068.1 494.2V503.0M1068.3 493.8V494.4" stroke="#3a9480" stroke-width="0.9"/><path d="M1069.4 495.0V506.7M1069.7 484.1V501.9M1070.2 480.2V491.2M1071.3 479.9V501.0" stroke="#3a9480" stroke-width="0.7"/><path d="M1070.0 484.8V488.6M1070.5 480.9V492.1M1070.8 485.4V490.3M1071.1 485.4V505.4" stroke="#dc5a68" stroke-width="0.7"/><path d="M1069.4 498.9V503.9M1069.7 485.1V498.9M1070.2 482.9V486.6M1071.3 482.3V495.3" stroke="#3a9480" stroke-width="0.9"/><path d="M1070.0 485.1V486.6M1070.5 482.9V485.8M1070.8 485.8V488.9M1071.1 488.9V495.3" stroke="#dc5a68" stroke-width="0.9"/><path d="M1071.6 473.5V484.5M1071.9 468.6V481.3M1073.3 473.3V485.0M1073.5 475.2V482.1" stroke="#3a9480" stroke-width="0.7"/><path d="M1072.2 469.9V483.3M1072.4 470.9V481.8M1072.7 479.3V487.7M1073.0 479.5V487.3" stroke="#dc5a68" stroke-width="0.7"/><path d="M1072.2 472.9V478.4M1072.4 478.4V479.6M1072.7 479.6V480.8M1073.0 480.8V481.4" stroke="#dc5a68" stroke-width="0.9"/><path d="M1071.6 476.1V482.3M1071.9 472.9V476.1M1073.3 480.9V481.5M1073.5 480.0V480.9" stroke="#3a9480" stroke-width="0.9"/><path d="M1074.1 488.8V492.2M1074.3 484.9V494.5M1074.6 470.2V489.5" stroke="#3a9480" stroke-width="0.7"/><path d="M1073.8 477.6V494.1M1074.9 471.2V495.1M1075.2 483.8V499.3M1075.4 491.8V515.3M1075.7 503.6V524.6" stroke="#dc5a68" stroke-width="0.7"/><path d="M1074.1 489.9V490.5M1074.3 488.6V489.9M1074.6 476.6V488.6" stroke="#3a9480" stroke-width="0.9"/><path d="M1073.8 480.0V490.1M1074.9 476.6V488.7M1075.2 488.7V495.8M1075.4 495.8V507.6M1075.7 507.6V508.7" stroke="#dc5a68" stroke-width="0.9"/><path d="M1076.0 501.3V519.4M1076.3 498.0V507.7M1076.5 494.7V502.2M1076.8 492.8V504.1M1077.6 486.7V503.6" stroke="#3a9480" stroke-width="0.7"/><path d="M1077.1 488.0V501.8M1077.4 494.8V506.2M1077.9 487.4V504.2" stroke="#dc5a68" stroke-width="0.7"/><path d="M1077.1 496.7V499.1M1077.4 499.1V501.4M1077.9 496.7V500.5" stroke="#dc5a68" stroke-width="0.9"/><path d="M1076.0 502.4V508.7M1076.3 500.7V502.4M1076.5 500.6V501.2M1076.8 496.7V500.6M1077.6 496.7V501.4" stroke="#3a9480" stroke-width="0.9"/><path d="M1078.2 490.0V506.8M1078.7 498.4V510.6M1079.0 495.3V501.5M1079.3 481.7V508.9M1079.8 482.6V496.1M1080.1 485.7V492.8" stroke="#3a9480" stroke-width="0.7"/><path d="M1078.4 489.0V503.6M1079.5 482.5V493.1" stroke="#dc5a68" stroke-width="0.7"/><path d="M1078.2 492.6V500.5M1078.7 499.5V503.5M1079.0 495.7V499.5M1079.3 486.0V495.7M1079.8 492.6V493.2M1080.1 490.7V492.6" stroke="#3a9480" stroke-width="0.9"/><path d="M1078.4 492.6V503.5M1079.5 486.0V492.8" stroke="#dc5a68" stroke-width="0.9"/><path d="M1081.5 501.5V516.8M1081.7 510.5V523.2M1082.3 519.3V536.7" stroke="#3a9480" stroke-width="0.7"/><path d="M1080.4 487.3V496.9M1080.6 487.4V509.1M1080.9 500.5V506.6M1081.2 502.0V516.5M1082.0 506.3V530.2" stroke="#dc5a68" stroke-width="0.7"/><path d="M1080.4 490.7V491.8M1080.6 491.8V501.1M1080.9 501.1V503.0M1081.2 503.0V515.5M1082.0 511.6V526.9" stroke="#dc5a68" stroke-width="0.9"/><path d="M1081.5 511.7V515.5M1081.7 511.6V512.2M1082.3 526.6V527.2" stroke="#3a9480" stroke-width="0.9"/><path d="M1082.8 514.6V531.5M1083.4 521.7V538.3M1083.6 509.1V522.8M1084.2 488.6V533.8M1084.5 519.0V524.9" stroke="#3a9480" stroke-width="0.7"/><path d="M1082.5 520.9V531.2M1083.1 526.1V533.0M1083.9 505.3V533.5" stroke="#dc5a68" stroke-width="0.7"/><path d="M1082.8 526.7V527.3M1083.4 521.9V530.6M1083.6 511.6V521.9M1084.2 522.0V524.5M1084.5 519.3V522.0" stroke="#3a9480" stroke-width="0.9"/><path d="M1082.5 526.6V527.2M1083.1 526.7V530.6M1083.9 511.6V524.5" stroke="#dc5a68" stroke-width="0.9"/><path d="M1085.0 513.9V524.3M1085.3 501.9V519.2M1085.6 494.8V510.3M1086.6 519.8V526.1" stroke="#3a9480" stroke-width="0.7"/><path d="M1084.7 517.0V522.0M1085.8 495.5V518.7M1086.1 510.0V527.1M1086.4 517.6V527.7" stroke="#dc5a68" stroke-width="0.7"/><path d="M1084.7 519.3V520.0M1085.8 496.5V516.2M1086.1 516.2V523.5M1086.4 523.5V524.1" stroke="#dc5a68" stroke-width="0.9"/><path d="M1085.0 517.6V520.0M1085.3 508.2V517.6M1085.6 496.5V508.2M1086.6 523.8V524.4" stroke="#3a9480" stroke-width="0.9"/><path d="M1086.9 520.5V525.6M1087.2 517.8V527.8M1087.5 520.6V532.7M1087.7 525.8V537.3M1088.0 532.2V597.3M1088.3 535.3V542.6M1088.6 537.5V542.2M1088.8 534.6V564.7" stroke="#dc5a68" stroke-width="0.7"/><path d="M1086.9 523.8V525.0M1087.2 525.0V525.6M1087.5 525.6V529.3M1087.7 529.3V535.2M1088.0 535.2V536.5M1088.3 536.5V537.7M1088.6 537.7V539.6M1088.8 539.6V557.4" stroke="#dc5a68" stroke-width="0.9"/><path d="M1089.1 552.5V564.2M1089.4 551.4V563.6M1089.7 551.5V561.8M1090.5 562.5V577.1M1090.7 558.8V570.6" stroke="#3a9480" stroke-width="0.7"/><path d="M1089.9 547.2V565.1M1090.2 551.2V571.1M1091.0 555.0V580.0" stroke="#dc5a68" stroke-width="0.7"/><path d="M1089.9 552.8V556.7M1090.2 556.7V568.8M1091.0 563.0V574.7" stroke="#dc5a68" stroke-width="0.9"/><path d="M1089.1 556.8V557.4M1089.4 553.9V556.8M1089.7 552.8V553.9M1090.5 567.7V568.8M1090.7 563.0V567.7" stroke="#3a9480" stroke-width="0.9"/><path d="M1091.3 571.5V580.6M1091.6 565.7V578.6M1091.8 561.6V573.8M1092.1 559.8V566.5" stroke="#3a9480" stroke-width="0.7"/><path d="M1092.4 549.7V574.7M1092.7 568.8V574.0M1092.9 565.7V575.2M1093.2 567.5V582.1" stroke="#dc5a68" stroke-width="0.7"/><path d="M1091.3 572.8V574.7M1091.6 569.7V572.8M1091.8 566.4V569.7M1092.1 565.2V566.4" stroke="#3a9480" stroke-width="0.9"/><path d="M1092.4 565.2V569.7M1092.7 569.7V571.1M1092.9 571.1V574.1M1093.2 574.1V579.9" stroke="#dc5a68" stroke-width="0.9"/><path d="M1093.7 561.3V589.8M1095.4 585.5V598.7" stroke="#3a9480" stroke-width="0.7"/><path d="M1093.5 576.9V585.7M1094.0 573.6V588.9M1094.3 566.4V587.9M1094.6 581.3V591.4M1094.8 580.6V601.0M1095.1 591.1V605.0" stroke="#dc5a68" stroke-width="0.7"/><path d="M1093.5 579.9V584.2M1094.0 574.3V578.7M1094.3 578.7V587.3M1094.6 587.3V588.4M1094.8 588.4V591.1M1095.1 591.1V597.4" stroke="#dc5a68" stroke-width="0.9"/><path d="M1093.7 574.3V584.2M1095.4 592.6V597.4" stroke="#3a9480" stroke-width="0.9"/><path d="M1095.7 580.5V609.5M1096.2 583.0V592.5" stroke="#3a9480" stroke-width="0.7"/><path d="M1095.9 581.8V593.4M1096.5 582.6V597.7M1096.8 590.6V606.0M1097.0 601.2V609.6M1097.3 600.5V611.9M1097.6 604.9V625.1" stroke="#dc5a68" stroke-width="0.7"/><path d="M1095.7 584.7V592.6M1096.2 583.2V591.2" stroke="#3a9480" stroke-width="0.9"/><path d="M1095.9 584.7V591.2M1096.5 583.2V593.3M1096.8 593.3V602.5M1097.0 602.5V608.2M1097.3 608.2V609.9M1097.6 609.9V619.6" stroke="#dc5a68" stroke-width="0.9"/><path d="M1097.8 610.8V633.0M1098.1 609.1V623.6M1098.7 605.8V624.0M1098.9 607.2V616.4M1099.2 598.2V612.6M1099.8 606.0V623.8" stroke="#3a9480" stroke-width="0.7"/><path d="M1098.4 607.4V618.9M1099.5 598.9V621.2" stroke="#dc5a68" stroke-width="0.7"/><path d="M1098.4 611.7V618.1M1099.5 602.1V618.5" stroke="#dc5a68" stroke-width="0.9"/><path d="M1097.8 616.1V619.6M1098.1 611.7V616.1M1098.7 610.2V618.1M1098.9 609.3V610.2M1099.2 602.1V609.3M1099.8 614.0V618.5" stroke="#3a9480" stroke-width="0.9"/><path d="M1100.0 602.4V618.6M1100.9 605.6V616.6M1101.7 596.1V613.1" stroke="#3a9480" stroke-width="0.7"/><path d="M1100.3 602.6V622.8M1100.6 608.6V613.7M1101.1 606.6V615.7M1101.4 611.7V616.9M1101.9 604.7V615.3" stroke="#dc5a68" stroke-width="0.7"/><path d="M1100.0 608.1V614.0M1100.9 609.7V613.0M1101.7 606.0V613.1" stroke="#3a9480" stroke-width="0.9"/><path d="M1100.3 608.1V608.7M1100.6 608.7V613.0M1101.1 609.7V612.2M1101.4 612.2V613.1M1101.9 606.0V613.7" stroke="#dc5a68" stroke-width="0.9"/><path d="M1102.8 610.8V622.1" stroke="#3a9480" stroke-width="0.7"/><path d="M1102.2 610.8V619.3M1102.5 607.7V631.3M1103.0 614.3V619.3M1103.3 616.5V628.4M1103.6 620.3V627.1M1103.9 619.0V632.8M1104.1 622.6V646.7" stroke="#dc5a68" stroke-width="0.7"/><path d="M1102.2 613.7V614.4M1102.5 614.4V618.9M1103.0 615.8V619.2M1103.3 619.2V620.6M1103.6 620.6V625.0M1103.9 625.0V625.7M1104.1 625.7V642.9" stroke="#dc5a68" stroke-width="0.9"/><path d="M1102.8 615.8V618.9" stroke="#3a9480" stroke-width="0.9"/><path d="M1104.7 641.1V659.1M1105.2 639.6V660.6M1105.5 641.2V643.4M1105.8 620.7V678.9" stroke="#3a9480" stroke-width="0.7"/><path d="M1104.4 642.7V654.5M1105.0 633.2V653.3M1106.0 626.6V642.4M1106.3 631.1V645.3" stroke="#dc5a68" stroke-width="0.7"/><path d="M1104.7 646.1V652.0M1105.2 642.6V653.1M1105.5 642.2V642.8M1105.8 628.6V642.2" stroke="#3a9480" stroke-width="0.9"/><path d="M1104.4 642.9V652.0M1105.0 646.1V653.1M1106.0 628.6V633.2M1106.3 633.2V643.7" stroke="#dc5a68" stroke-width="0.9"/><path d="M1106.6 639.6V650.3M1106.9 633.5V644.9M1107.1 627.9V642.3M1107.4 629.1V647.9M1108.0 624.4V652.0M1108.5 625.4V650.4" stroke="#3a9480" stroke-width="0.7"/><path d="M1107.7 627.9V645.7M1108.2 623.3V638.3" stroke="#dc5a68" stroke-width="0.7"/><path d="M1107.7 633.4V642.7M1108.2 627.4V636.2" stroke="#dc5a68" stroke-width="0.9"/><path d="M1106.6 640.7V643.7M1106.9 639.2V640.7M1107.1 636.5V639.2M1107.4 633.4V636.5M1108.0 627.4V642.7M1108.5 627.9V636.2" stroke="#3a9480" stroke-width="0.9"/><path d="M1108.8 620.8V628.3M1109.3 624.2V631.2M1109.6 605.5V638.5M1110.1 604.7V617.9" stroke="#3a9480" stroke-width="0.7"/><path d="M1109.1 625.1V633.9M1109.9 603.8V612.9M1110.4 603.1V609.4M1110.7 605.8V608.2" stroke="#dc5a68" stroke-width="0.7"/><path d="M1108.8 625.7V627.9M1109.3 628.4V629.3M1109.6 609.1V628.4M1110.1 605.5V610.9" stroke="#3a9480" stroke-width="0.9"/><path d="M1109.1 625.7V629.3M1109.9 609.1V610.9M1110.4 605.5V606.1M1110.7 606.0V608.1" stroke="#dc5a68" stroke-width="0.9"/><path d="M1111.2 601.3V626.2M1111.5 595.7V607.6M1111.8 602.6V604.1M1112.1 598.5V613.9M1112.6 589.9V605.6" stroke="#3a9480" stroke-width="0.7"/><path d="M1111.0 607.2V619.9M1112.3 594.6V604.2M1112.9 585.1V600.4" stroke="#dc5a68" stroke-width="0.7"/><path d="M1111.0 608.1V617.1M1112.3 598.8V601.2M1112.9 591.2V600.0" stroke="#dc5a68" stroke-width="0.9"/><path d="M1111.2 606.4V617.1M1111.5 603.7V606.4M1111.8 602.7V603.7M1112.1 598.8V602.7M1112.6 591.2V601.2" stroke="#3a9480" stroke-width="0.9"/><path d="M1113.2 588.3V605.7M1113.4 588.9V594.4M1113.7 583.2V593.7M1114.0 581.8V586.9M1114.2 566.6V583.0M1114.5 563.2V568.9M1114.8 562.3V576.4M1115.1 546.2V570.7" stroke="#3a9480" stroke-width="0.7"/><path d="M1113.2 593.4V600.0M1113.4 592.1V593.4M1113.7 587.5V592.1M1114.0 582.1V587.5M1114.2 567.9V582.1M1114.5 567.1V567.9M1114.8 562.9V567.1M1115.1 549.2V562.9" stroke="#3a9480" stroke-width="0.9"/><path d="M1115.3 541.4V550.8M1115.9 549.4V564.2M1116.2 547.1V561.1M1117.0 561.4V565.0M1117.3 553.7V565.3" stroke="#3a9480" stroke-width="0.7"/><path d="M1115.6 539.8V561.2M1116.4 547.3V562.9M1116.7 555.7V562.7" stroke="#dc5a68" stroke-width="0.7"/><path d="M1115.6 547.3V556.2M1116.4 554.6V560.6M1116.7 560.6V562.2" stroke="#dc5a68" stroke-width="0.9"/><path d="M1115.3 547.3V549.2M1115.9 555.5V556.2M1116.2 554.6V555.5M1117.0 562.1V562.7M1117.3 557.5V562.1" stroke="#3a9480" stroke-width="0.9"/><path d="M1117.5 546.6V559.6M1118.1 540.1V554.9M1118.3 548.1V549.3M1118.6 541.3V548.9M1118.9 538.3V545.8M1119.2 538.4V545.0" stroke="#3a9480" stroke-width="0.7"/><path d="M1117.8 538.2V551.0M1119.4 540.4V548.7" stroke="#dc5a68" stroke-width="0.7"/><path d="M1117.5 546.8V557.5M1118.1 548.7V549.3M1118.3 548.5V549.1M1118.6 543.7V548.5M1118.9 543.5V544.1M1119.2 542.1V543.5" stroke="#3a9480" stroke-width="0.9"/><path d="M1117.8 546.8V549.1M1119.4 542.1V547.0" stroke="#dc5a68" stroke-width="0.9"/><path d="M1120.3 551.9V561.2M1120.8 552.3V562.1M1121.6 539.7V561.3" stroke="#3a9480" stroke-width="0.7"/><path d="M1119.7 542.8V552.9M1120.0 551.4V561.9M1120.5 547.8V560.5M1121.1 551.3V560.4M1121.4 549.5V560.5" stroke="#dc5a68" stroke-width="0.7"/><path d="M1119.7 547.0V552.2M1120.0 552.2V557.7M1120.5 554.9V559.6M1121.1 552.5V555.8M1121.4 555.8V559.6" stroke="#dc5a68" stroke-width="0.9"/><path d="M1120.3 554.9V557.7M1120.8 552.5V559.6M1121.6 546.9V559.6" stroke="#3a9480" stroke-width="0.9"/><path d="M1121.9 539.2V550.7M1122.4 548.9V561.4M1123.3 551.8V567.9M1123.8 564.2V571.8" stroke="#3a9480" stroke-width="0.7"/><path d="M1122.2 541.1V561.0M1122.7 550.1V561.7M1123.0 538.7V567.5M1123.5 551.2V571.6" stroke="#dc5a68" stroke-width="0.7"/><path d="M1121.9 546.1V546.9M1122.4 553.6V557.8M1123.3 555.0V560.8M1123.8 565.3V567.7" stroke="#3a9480" stroke-width="0.9"/><path d="M1122.2 546.1V557.8M1122.7 553.6V559.3M1123.0 559.3V560.8M1123.5 555.0V567.7" stroke="#dc5a68" stroke-width="0.9"/><path d="M1124.1 556.7V568.7M1124.4 557.1V562.6M1125.2 562.7V578.1" stroke="#3a9480" stroke-width="0.7"/><path d="M1124.6 556.0V570.7M1124.9 563.2V570.9M1125.5 554.0V574.4M1125.7 568.4V581.9M1126.0 576.1V598.2" stroke="#dc5a68" stroke-width="0.7"/><path d="M1124.6 558.2V565.2M1124.9 565.2V568.2M1125.5 563.7V570.8M1125.7 570.8V579.5M1126.0 579.5V584.1" stroke="#dc5a68" stroke-width="0.9"/><path d="M1124.1 559.7V565.3M1124.4 558.2V559.7M1125.2 563.7V568.2" stroke="#3a9480" stroke-width="0.9"/><path d="M1126.3 581.1V585.8M1127.1 581.0V598.3M1127.6 574.4V591.1M1127.9 571.8V578.6M1128.2 566.1V582.8" stroke="#3a9480" stroke-width="0.7"/><path d="M1126.5 581.9V591.7M1126.8 587.4V598.8M1127.4 579.6V594.4" stroke="#dc5a68" stroke-width="0.7"/><path d="M1126.3 582.1V584.1M1127.1 583.9V594.5M1127.6 578.4V584.9M1127.9 577.8V578.4M1128.2 566.2V577.8" stroke="#3a9480" stroke-width="0.9"/><path d="M1126.5 582.1V588.0M1126.8 588.0V594.5M1127.4 583.9V584.9" stroke="#dc5a68" stroke-width="0.9"/><path d="M1128.5 559.1V572.1M1128.7 554.9V566.9M1129.0 550.9V566.1M1129.6 543.3V562.8M1129.8 541.2V557.0M1130.1 529.5V551.8" stroke="#3a9480" stroke-width="0.7"/><path d="M1129.3 550.3V567.9M1130.4 524.3V553.2" stroke="#dc5a68" stroke-width="0.7"/><path d="M1129.3 551.7V559.3M1130.4 531.6V543.7" stroke="#dc5a68" stroke-width="0.9"/><path d="M1128.5 564.4V566.2M1128.7 558.0V564.4M1129.0 551.7V558.0M1129.6 551.5V559.3M1129.8 542.9V551.5M1130.1 531.6V542.9" stroke="#3a9480" stroke-width="0.9"/><path d="M1130.9 540.1V559.0M1131.2 524.0V543.6M1131.5 520.5V536.9M1132.0 513.2V532.1M1132.6 488.7V518.7" stroke="#3a9480" stroke-width="0.7"/><path d="M1130.6 541.4V553.6M1131.7 517.9V530.0M1132.3 512.1V521.1" stroke="#dc5a68" stroke-width="0.7"/><path d="M1130.9 540.9V551.0M1131.2 530.9V540.9M1131.5 522.7V530.9M1132.0 514.3V522.8M1132.6 497.9V516.9" stroke="#3a9480" stroke-width="0.9"/><path d="M1130.6 543.7V551.0M1131.7 522.7V523.3M1132.3 514.3V516.9" stroke="#dc5a68" stroke-width="0.9"/><path d="M1133.1 498.0V506.0M1133.4 492.5V506.5M1133.7 490.1V495.6M1133.9 482.6V494.8M1134.7 486.5V495.5" stroke="#3a9480" stroke-width="0.7"/><path d="M1132.8 490.1V504.1M1134.2 482.2V497.8M1134.5 486.7V496.7" stroke="#dc5a68" stroke-width="0.7"/><path d="M1132.8 497.9V503.5M1134.2 485.1V488.4M1134.5 488.4V494.0" stroke="#dc5a68" stroke-width="0.9"/><path d="M1133.1 500.0V503.5M1133.4 493.9V500.0M1133.7 490.3V493.9M1133.9 485.1V490.3M1134.7 489.9V494.0" stroke="#3a9480" stroke-width="0.9"/><path d="M1135.6 495.2V510.1M1136.1 501.0V510.5M1136.4 502.6V510.2" stroke="#3a9480" stroke-width="0.7"/><path d="M1135.0 487.9V501.2M1135.3 496.3V508.1M1135.8 500.2V507.0M1136.7 501.0V506.0M1136.9 502.3V511.1" stroke="#dc5a68" stroke-width="0.7"/><path d="M1135.6 501.0V504.3M1136.1 506.2V506.9M1136.4 505.3V506.2" stroke="#3a9480" stroke-width="0.9"/><path d="M1135.0 489.9V498.1M1135.3 498.1V504.3M1135.8 501.0V506.9M1136.7 505.3V505.9M1136.9 505.5V507.5" stroke="#dc5a68" stroke-width="0.9"/><path d="M1137.2 492.6V511.5M1137.5 500.6V505.5M1138.0 492.1V504.4M1138.3 477.2V495.5M1138.6 474.0V479.9M1138.8 465.4V476.3M1139.1 459.9V476.6" stroke="#3a9480" stroke-width="0.7"/><path d="M1137.8 499.5V505.7" stroke="#dc5a68" stroke-width="0.7"/><path d="M1137.8 502.3V504.1" stroke="#dc5a68" stroke-width="0.9"/><path d="M1137.2 504.3V507.5M1137.5 502.3V504.3M1138.0 493.8V504.1M1138.3 477.3V493.8M1138.6 475.6V477.3M1138.8 471.8V475.6M1139.1 463.8V471.8" stroke="#3a9480" stroke-width="0.9"/><path d="M1139.4 449.7V466.6M1139.7 441.0V459.1M1140.2 441.2V451.8" stroke="#3a9480" stroke-width="0.7"/><path d="M1139.9 440.2V450.3M1140.5 441.0V453.1M1140.8 447.3V464.7M1141.0 453.4V463.4" stroke="#dc5a68" stroke-width="0.7"/><path d="M1139.4 452.2V463.8M1139.7 442.7V452.2M1140.2 443.6V445.7" stroke="#3a9480" stroke-width="0.9"/><path d="M1139.9 442.7V445.7M1140.5 443.6V451.2M1140.8 451.2V461.8M1141.0 461.8V463.0" stroke="#dc5a68" stroke-width="0.9"/></g></g>
<!-- frame -->
<path d="M0 0.6H663.5Q666.3 0.6 666.3 3.4" stroke="#8e8e8e" stroke-width="1.3" fill="none"/>
<rect x="667" y="0" width="613" height="1" fill="#f0f0f0"/>
<path d="M666.3 3 V788" stroke="#7a7a7a" stroke-width="1.2"/>
<!-- TV logo -->
<g transform="translate(3,753.1) scale(0.436)" fill="#000"><path d="M14 22H7V11H0V4h14v18zM28 22h-8l7.5-18h8L28 22z"/><circle cx="20" cy="8" r="4"/></g>
<!-- settings hexagon -->
<g transform="translate(644.5,780)" fill="none" stroke="#6b6b6b" stroke-width="0.8"><path d="M-2.2 -3.7H2.2L4.3 0L2.2 3.7H-2.2L-4.3 0Z"/><circle r="1.3" fill="#6b6b6b" stroke="none"/></g>
<!-- right bottom icon -->
<g transform="translate(1141.5,765.9)">
<circle r="5.2" fill="none" stroke="#a070b0" stroke-width="0.9"/>
<path d="M0.8 -3 L-1.6 0.6 H0.2 L-0.8 3 L1.8 -0.8 H0 Z" fill="#9050c0"/>
<circle cx="3.4" cy="-3.8" r="1.3" fill="#d04060"/>
<path d="M-6.1 -1 L-5.3 1 L-3.6 1.8 L-5.3 2.6 L-6.1 4.6 L-6.9 2.6 L-8.6 1.8 L-6.9 1 Z" fill="#5b5bd0"/>
</g>
<!-- icons header -->
<circle cx="6.7" cy="8.9" r="4.9" fill="#f0a030"/>
<text x="6.8" y="11.4" font-size="7" font-weight="bold" fill="#fbe3c0" text-anchor="middle" font-family="Liberation Sans">B</text>
<circle cx="678.1" cy="9" r="4.8" fill="#3b3e96"/>
<path d="M678.1 5.6L680.1 9.1L678.1 10.3L676.1 9.1Z M678.1 10.8L680.1 9.6L678.1 12.4L676.1 9.6Z" fill="#d8daf4"/>
<circle cx="163.1" cy="9" r="3.4" fill="#d8efe8"/>
<circle cx="163.1" cy="9" r="1.7" fill="#3c8f74"/>
<circle cx="849.4" cy="9" r="3.4" fill="#d8efe8"/>
<circle cx="849.4" cy="9" r="1.7" fill="#3c8f74"/>
</svg>

<!-- headers -->
<div class="ttl" style="left:13.8px;top:4.6px;transform:scaleX(0.93)">Bitcoin / U.S. Dollar · 1D · BITFINEX</div>
<div class="ttl" style="left:685px;top:4.6px;transform:scaleX(0.918)">Ethereum / U.S. Dollar · 1D · COINBASE</div>
<div class="ohlc" style="left:176.9px;top:4px;transform-origin:0 0;transform:scaleX(0.8976)">O<span style="color:#089981">117,490.0</span> H<span style="color:#089981">118,070.0</span> L<span style="color:#089981">117,400.0</span> C<span style="color:#089981">117,660.0</span> <span style="color:#089981">+140.0 (+0.12%)</span></div>
<div class="ohlc" style="left:862.5px;top:4px;transform-origin:0 0;transform:scaleX(0.8946)">O<span style="color:#f23645">4,442.55</span> H<span style="color:#f23645">4,495.15</span> L<span style="color:#f23645">4,376.02</span> C<span style="color:#f23645">4,416.97</span> <span style="color:#f23645">−25.59 (−0.58%)</span></div>

<div class="box" style="left:1.3px;top:18.3px;width:43.4px;height:17.8px;border-color:#e8a0aa;color:#e0506a">117,650.0<br>SELL</div>
<div class="a" style="left:49.5px;top:24px;font-size:5.5px;line-height:6px;color:#2a2e39">10.0</div>
<div class="box" style="left:64.4px;top:18.3px;width:43.4px;height:17.8px;border-color:#98a8ee;color:#4a5ce0">117,660.0<br>BUY</div>
<div class="box" style="left:672.9px;top:18.1px;width:38.7px;height:18.4px;border-color:#e8a0aa;color:#e0506a">4,416.97<br>SELL</div>
<div class="a" style="left:716.6px;top:24px;font-size:5.5px;line-height:6px;color:#2a2e39">0.01</div>
<div class="box" style="left:731.3px;top:18.1px;width:40.3px;height:18.4px;border-color:#98a8ee;color:#4a5ce0">4,416.98<br>BUY</div>

<div class="a" style="left:0;top:39.6px;width:17.3px;height:11.7px;border:1px solid #eceef2;border-left:none;border-radius:0 2px 2px 0"></div>
<svg class="a" style="left:3.7px;top:44.3px" width="5" height="3.5"><path d="M0.6 0.7L2.3 2.4L4 0.7" stroke="#2a2e39" stroke-width="1.2" fill="none"/></svg>
<div class="a" style="left:10.9px;top:41.5px;font-size:7.5px;line-height:9px;color:#2a2e39">6</div>
<div class="a" style="left:671.6px;top:40px;width:16.9px;height:11px;border:1px solid #eceef2;border-radius:2px"></div>
<svg class="a" style="left:675.5px;top:44.3px" width="5" height="3.5"><path d="M0.6 0.7L2.3 2.4L4 0.7" stroke="#2a2e39" stroke-width="1.2" fill="none"/></svg>
<div class="a" style="left:682.3px;top:41.5px;font-size:7.5px;line-height:9px;color:#2a2e39">6</div>

<div class="a" style="left:624.2px;top:3.3px;width:40.4px;height:13.2px;border:1px solid #eef0f3;border-radius:2px"></div>
<div class="a" style="left:627px;top:5px;font-size:6.5px;line-height:9px;color:#131722;letter-spacing:-0.3px">USD</div>
<svg class="a" style="left:659px;top:8.6px" width="4" height="3"><path d="M0.3 0.4H3.5L1.9 2.2Z" fill="#555"/></svg>
<div class="a" style="left:1245.6px;top:3.3px;width:40px;height:13.2px;border:1px solid #eef0f3;border-radius:2px"></div>
<div class="a" style="left:1247.9px;top:5px;font-size:6.5px;line-height:9px;color:#131722;letter-spacing:-0.3px">USD</div>
<svg class="a" style="left:1275px;top:8.6px" width="4" height="3"><path d="M0.3 0.4H3.5L1.9 2.2Z" fill="#555"/></svg>

<div class="al" style="left:627.3px;top:28.6px">180,000.0</div>
<div class="al" style="left:627.3px;top:49.9px">160,000.0</div>
<div class="al" style="left:627.3px;top:73.9px">140,000.0</div>
<div class="al" style="left:627.3px;top:95.8px">124,000.0</div>
<div class="al" style="left:627.3px;top:120.8px">108,000.0</div>
<div class="al" style="left:627.3px;top:142.0px">96,000.0</div>
<div class="al" style="left:627.3px;top:161.9px">86,000.0</div>
<div class="al" style="left:627.3px;top:184.2px">76,000.0</div>
<div class="al" style="left:627.3px;top:204.2px">68,000.0</div>
<div class="al" style="left:627.3px;top:226.8px">60,000.0</div>
<div class="al" style="left:627.3px;top:252.7px">52,000.0</div>
<div class="al" style="left:627.3px;top:274.8px">46,000.0</div>
<div class="al" style="left:627.3px;top:300.0px">40,000.0</div>
<div class="al" style="left:627.3px;top:324.1px">35,000.0</div>
<div class="al" style="left:627.3px;top:346.0px">31,000.0</div>
<div class="al" style="left:627.3px;top:370.9px">27,000.0</div>
<div class="al" style="left:627.3px;top:392.2px">24,000.0</div>
<div class="al" style="left:627.3px;top:416.3px">21,000.0</div>
<div class="al" style="left:627.3px;top:439.1px">18,500.0</div>
<div class="al" style="left:627.3px;top:459.8px">16,500.0</div>
<div class="al" style="left:627.3px;top:483.1px">14,500.0</div>
<div class="al" style="left:627.3px;top:504.2px">12,900.0</div>
<div class="al" style="left:627.3px;top:526.5px">11,400.0</div>
<div class="al" style="left:627.3px;top:547.5px">10,150.0</div>
<div class="al" style="left:627.3px;top:570.2px">8,950.0</div>
<div class="al" style="left:627.3px;top:591.5px">7,950.0</div>
<div class="al" style="left:627.3px;top:610.7px">7,150.0</div>
<div class="al" style="left:627.3px;top:632.1px">6,350.0</div>
<div class="al" style="left:627.3px;top:653.2px">5,650.0</div>
<div class="al" style="left:627.3px;top:673.4px">5,050.0</div>
<div class="al" style="left:627.3px;top:694.2px">4,500.0</div>
<div class="al" style="left:627.3px;top:714.6px">4,020.0</div>
<div class="al" style="left:627.3px;top:734.7px">3,595.0</div>
<div class="al" style="left:627.3px;top:754.9px">3,215.0</div>
<div class="ar" style="left:1248.5px;top:16.7px">43,000.00</div>
<div class="ar" style="left:1248.5px;top:35.4px">39,000.00</div>
<div class="ar" style="left:1248.5px;top:56.1px">35,000.00</div>
<div class="ar" style="left:1248.5px;top:73.2px">32,000.00</div>
<div class="ar" style="left:1248.5px;top:92.1px">29,000.00</div>
<div class="ar" style="left:1248.5px;top:113.0px">26,000.00</div>
<div class="ar" style="left:1248.5px;top:136.5px">23,000.00</div>
<div class="ar" style="left:1248.5px;top:153.9px">21,000.00</div>
<div class="ar" style="left:1248.5px;top:173.1px">19,000.00</div>
<div class="ar" style="left:1248.5px;top:189.9px">17,400.00</div>
<div class="ar" style="left:1248.5px;top:208.4px">15,800.00</div>
<div class="ar" style="left:1248.5px;top:228.8px">14,200.00</div>
<div class="ar" style="left:1248.5px;top:245.7px">13,000.00</div>
<div class="ar" style="left:1248.5px;top:264.3px">11,800.00</div>
<div class="ar" style="left:1248.5px;top:281.3px">10,800.00</div>
<div class="ar" style="left:1248.5px;top:299.9px">9,800.00</div>
<div class="ar" style="left:1248.5px;top:320.5px">8,800.00</div>
<div class="ar" style="left:1248.5px;top:338.7px">8,000.00</div>
<div class="ar" style="left:1248.5px;top:358.9px">7,200.00</div>
<div class="ar" style="left:1248.5px;top:375.6px">6,600.00</div>
<div class="ar" style="left:1248.5px;top:393.8px">6,000.00</div>
<div class="ar" style="left:1248.5px;top:414.0px">5,400.00</div>
<div class="ar" style="left:1248.5px;top:471.5px">4,000.00</div>
<div class="ar" style="left:1248.5px;top:491.6px">3,600.00</div>
<div class="ar" style="left:1248.5px;top:508.3px">3,300.00</div>
<div class="ar" style="left:1248.5px;top:526.6px">3,000.00</div>
<div class="ar" style="left:1248.5px;top:543.2px">2,750.00</div>
<div class="ar" style="left:1248.5px;top:561.5px">2,500.00</div>
<div class="ar" style="left:1248.5px;top:580.8px">2,260.00</div>
<div class="ar" style="left:1248.5px;top:598.5px">2,060.00</div>
<div class="ar" style="left:1248.5px;top:618.1px">1,860.00</div>
<div class="ar" style="left:1248.5px;top:637.0px">1,685.00</div>
<div class="ar" style="left:1248.5px;top:653.6px">1,545.00</div>
<div class="ar" style="left:1248.5px;top:671.8px">1,405.00</div>
<div class="ar" style="left:1248.5px;top:688.9px">1,285.00</div>
<div class="ar" style="left:1248.5px;top:706.1px">1,175.00</div>
<div class="ar" style="left:1248.5px;top:723.1px">1,075.00</div>
<div class="ar" style="left:1248.5px;top:739.8px">985.00</div>
<div class="ar" style="left:1248.5px;top:756.9px">901.00</div>

<!-- time axis -->
<div class="t" style="left:6.4px;top:775px">Jul</div>
<div class="t tb" style="left:79.9px;top:775px">2018</div>
<div class="t" style="left:152px;top:775px">Jul</div>
<div class="t tb" style="left:225.5px;top:775px">2019</div>
<div class="t" style="left:297.7px;top:775px">Jul</div>
<div class="t tb" style="left:371.6px;top:775px">2020</div>
<div class="t" style="left:444.3px;top:775px">Jul</div>
<div class="t tb" style="left:517.8px;top:775px">2021</div>
<div class="t" style="left:590.1px;top:775px">Jul</div>

<div class="t tb" style="left:679.7px;top:775px">2021</div>
<div class="t" style="left:729.3px;top:775px">Jul</div>
<div class="t tb" style="left:779.9px;top:775px">2022</div>
<div class="t" style="left:829.2px;top:775px">Jul</div>
<div class="t tb" style="left:879.6px;top:775px">2023</div>
<div class="t" style="left:928.9px;top:775px">Jul</div>
<div class="t tb" style="left:978.9px;top:775px">2024</div>
<div class="t" style="left:1028.8px;top:775px">Jul</div>
<div class="t tb" style="left:1079px;top:775px">2025</div>
<div class="t" style="left:1128.4px;top:775px">Jul</div>
<div class="t tb" style="left:1178.6px;top:775px">2026</div>
<div class="t" style="left:1228px;top:775px">Jul</div>

<!-- price tags left -->
<div class="tag" style="left:590.1px;top:105.2px;width:31.6px;height:10.6px;background:#278e72;font-size:6.5px;padding-left:2px;line-height:10.6px;letter-spacing:-0.3px;font-weight:bold">BTCUSD</div>
<div class="tag" style="left:622.5px;top:105px;width:41.1px;height:20px;background:#278e72;padding-left:3px;line-height:9.5px">117,660.0<br><span style="color:#cfeee4">02:02:21</span></div>
<div class="tag" style="left:622.3px;top:215.2px;width:37.5px;height:11.1px;background:#3453e6;padding-left:3px;line-height:11px">63,882.9</div>
<div class="tag" style="left:622.3px;top:265.7px;width:37.5px;height:10.9px;background:#fff;border:1px solid #9fd3c4;color:#2a9a7c;padding-left:2.5px;line-height:9px">48,308.0</div>
<div class="tag" style="left:622.2px;top:425.9px;width:37.5px;height:10.7px;background:#e03a44;padding-left:3px;line-height:10.7px">19,925.7</div>
<!-- price tags right -->
<div class="tag" style="left:1244.1px;top:217.5px;width:36px;height:9.1px;background:#3453e6;padding-left:4.5px;line-height:9px;font-size:7px;letter-spacing:-0.38px">15,074.53</div>
<div class="tag" style="left:1244.5px;top:434.8px;width:31.5px;height:8px;background:#e03a44;padding-left:3.5px;line-height:8px;font-size:7px;letter-spacing:-0.38px">4,867.00</div>
<div class="tag" style="left:1216px;top:453px;width:26.3px;height:8.7px;background:#e03a44;padding-left:1.5px;line-height:8.7px;font-size:6px;letter-spacing:-0.45px;font-weight:bold">ETHUSD</div>
<div class="tag" style="left:1244.5px;top:453px;width:32px;height:16px;background:#e03a44;padding-left:3.5px;line-height:7.6px;font-size:7px;letter-spacing:-0.38px;padding-top:0.5px">4,416.97<br><span style="color:#f6c8cc">02:02:21</span></div>
</body></html>
